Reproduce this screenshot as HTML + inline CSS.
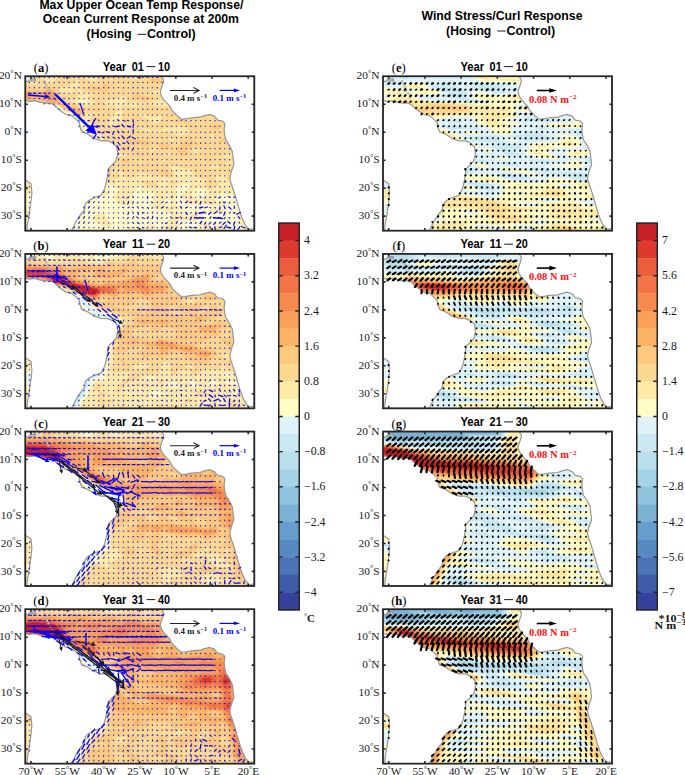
<!DOCTYPE html>
<html><head><meta charset="utf-8"><style>
html,body{margin:0;padding:0;background:#fff;width:685px;height:775px;overflow:hidden;}
svg{display:block;}
.tt{font:bold 12.2px "Liberation Sans",sans-serif;fill:#000;}
.pt{font:bold 12.2px "Liberation Sans",sans-serif;fill:#000;}
.pl{font:12.5px "Liberation Serif",serif;fill:#000;}
.tk{font:10.3px "Liberation Serif",serif;fill:#1a1a1a;}
.tkx{font:10.5px "Liberation Serif",serif;fill:#1a1a1a;}
.dg{font-size:7.5px;}
.un{font:bold 10.8px "Liberation Serif",serif;fill:#111;}
.un2{font:bold 9.6px "Liberation Serif",serif;fill:#111;}
.cb{font:11.8px "Liberation Serif",serif;fill:#1a1a1a;}
.lgr{font:bold 9.5px "Liberation Serif",serif;fill:#ff1010;}
.lgk{font:bold 7.6px "Liberation Serif",serif;fill:#222;}
.lgb{font:bold 7.6px "Liberation Serif",serif;fill:#00f;}
</style></head><body>
<svg width="685" height="775" viewBox="0 0 685 775">
<clipPath id="clipa"><rect x="25.25" y="76.25" width="229.05" height="154.45"/></clipPath>
<g clip-path="url(#clipa)">
<rect x="23.25" y="74.25" width="233.05" height="158.45" fill="#fffcc6"/>
<g transform="translate(0.00 0.00) scale(.5)">
<path fill-rule="evenodd" fill="#fee9a6" d="M46 148l464 0 0 3 4 2 0 219-4 1-2 6-18 0-22 5 2 2-2 4-24-4-12 8-2 5 4 4 10-2 6 1 4 2-1 2-7 5-12 1-30-4-16 2-10-2-6-6-8-6 2-6 0-6 10-6 4-6-2-2-6-2-6 0-6 2-5 4-3 6 3 12-5 6 3 6-2 6 10 4 3 5-4 2-12-2-2 1 1 4 5 1 12-1 10 7 4 1 4-1 8-7 8-2 8 2 1 4-11 8-2 4-4 3-18-3-12 1-3 3 3 8-20 10-8 0-5-4-2-4 10-8 2-8 5-4 1-4-3-3-13-7-22-2-3-10 5-8-1-8 4-6 0-2-10-1-18 0-1-3 3-4-1-2-7 0-2 1-1 5-12 12-1 4 6 6-4 5-4 3-8 1-8-1-4-1-4-9-8-8 11-10-2-4-9-7-4-2-4 0-6 2-4 5-22-10-12-10-1-4 2-34-17-10-4-8 0-6 5-18-1-20-4-8-5-4-7-2-20 0-12-2-20 6 0 4 0 80 0 4 8 13 4 13 0 33-6-2-40-3-4-4-6-1zM112 210l0 2 8 9 13 7 11 4 15 14 7 10 0 9 6 2 8-1-14-26-8-3-5-7-19-7-19-13zM163 200l-5 2-1 2 11 3 7-1 2-1-7-5zM190 272l0 3 3-1zM328 400l-6 2-1 2 12 7 12-1-4-10zM332 389l-1 1 3 2 2-2zM365 348l-4 2 1 2 6-2-1-2zM392 378l-6 4-1 4 1 6 4 4 10 2 15-10 0-4-7-4-10-3zM454 194l14 9 0-9zM460 374l-1 2 5 2 1-4zM138 274l4 1 4 3-3 8-5 3-8-4-4-7 2-2zM208 382l2-1 6 1 3 2 1 4-6 3-10-2 0-3zM471 400l2 0-1 5zM510 412l4 1 0 11-4 1-1-3zM429 414l5-1 15 7-3 3-10-1-11 4-7-2 3-4zM46 422l0-1 12 0 2 5-4 4-10 1zM478 424l4 2 2 10 2 2 8-8 7-2 2 6 6 8 1 12 0 3 4 2 0 7-27 1-1-7 2-6-2-2-11-6 6-10-5-8zM162 428l2-1 4 3-2 2-6 2 0-4zM196 428l6-1 8 2 6 11 9 8 0 2-7 3-8 0-20-11-3-4 1-4zM292 432l4-1 2 1 2 2-1 2-5 0-2-2zM403 446l5-1 4 1 14 9 14-6 6 0 6 5 1 12-21 0-2-4-6-4-5 2-1 2 2 4-8 0-3-4-7-1-3 1 0 4-17 0 14-6zM52 448l2 0 1 4-2 2 0 4-1 2-6 0 0-9zM304 450l6 1 2 1 0 2-10 6-18 1-6 5-41 0 3-3 10 0 4-7 4-2 28 2zM146 456l4 2 0 2-6 4 1 2-20 0-3-4 10-1 10 1 2-4zM201 464l9-1 5 3-18 1z"/>
<path fill-rule="evenodd" fill="#fdd891" d="M57 148l28 0 1 14 2 3 6 2 14-3 12-13 8 0 4-3 31 0-2 8 9 1 8 4 6 1 10-2 6-6-2-1-24 0-3-5 30 0 1 4 8-1 4-3 44 0-3 4 0 2 5 3 14 3 4-1 16-11 206 0 0 4-4 2 2 6 2 2 8 2 2-6 4 0 0 32-4 0 1 3 3-1 0 5-4 0-1 5 1 5 4-1 0 34-4 1 0 3 0 3 4 1 0 56-4 0 0 2 0 4 4 1 0 39-4 1-2 5-16 0-32-3 0 11-9-8-1-2 4-4-2-2-6-1-6 4-8-1-1 2 0 8 7 8-7 6-9 4-6-1-6-5-2-4 4-6-1-4-13-2-6-4-7-8 0-6-21-2-20-6-6 0 0 2 9 12 1 4-2 4-6 4-26-3-10-4-26-4-4 1-3 8-2 2-15 0-4-2-1-6-3-3-7-3-3-2-6-1-6 1 2 3 10 0 2 1 0 8-4 4-10 3-10-1-1-2 1-4-34-5-4-5 0-13 2-7 3-4 12-6 6-6 3-10 1-14 4-6-1-2-10-8-8-6-1-8-7-6-1-4 5-8-3-8-7 0-6 8-8 1-6-5-22-9-18-12-4 1 11 12-1 2-6 0-8 3-18 19 0 45-6 2-36 1 0-24 2 1 2-5-1-4-3 0 0-38 3-2 1-4-1-10-3 0 0-48 10 1 6 8 4 1 7-2 3-2 2-4-8-9zM156 160l-10 4-8 10-20 1-1 1 1 4 6 6 18 1 18-19 0-6-2-2zM278 174l4 2 2-2zM308 182l-7 2-2 2 17 4 5-2-1-7zM344 188l-13 6-3 3 2 3-2 1-12 0-26 5-14-2-18 2-5-3-1-10-6-1-10 4-12 3-20 7 25 6 5 4 0 6-18 20 1 8 3 2 6 0 20-10-3-7 3-11-7-8 2-2 13-3 18 3 18-5 38 4 8-1 2-2-4-4 0-2 15-8 7-6-4-2zM356 252l-12 3-16 1-8 5-4 1-30-7-2-1-2 2 9 6 9 4 8 0 16-2 14 0 8 2 10 6 16-3 6-5 0-4-8-5-8-3zM388 298l-2 2 0 4 2 4 4 2 4-4 2-6-4-2zM402 268l0 3 6-3-2-1zM422 268l-3 2 0 4 5 4 5-2 2-2-1-2-4-3zM446 194l22 13 2-3 0-10-2-1zM156 178l2 16-4 3-13 5 2 2 13 5 14 2 8 0 12-5 0-2-10-6-3-4 1-2 11-2-1-2-12 0-12-9zM240 306l-4 1 0 5 12 1 6-1 1-2-5-3zM244 264l0 1 4 1 2 0 1-2zM278 322l-1 0 1 3 2 1 4-2-1-2zM282 227l-1 1 0 2 3 5 12 4 12 8 8-1 9-10-1-4-4-2-22 4-10-7zM308 296l-6 2-3 2 0 2 5 2 9-4 1-2-2-1zM324 318l0 2 2 4 5 0 0-6zM338 276l-2 2 4 4 6 1 5-3 0-2-3-2zM426 330l-4 2-1 2 7 4 6 0 7-4-1-2-4-2zM462 306l-14 3-3 3 1 2 4 2 10 1 6-5-1-6zM338 306l-2 2 2 3 5-3-1-2zM460 322l-6 4-2 5 6 1 6-4 2-4zM50 314l0-1 32 0 6 1 1 24-1 4-4 3-30 16-2 5 0 6-6 3 0-58 3-1zM509 358l5 1 0 9-4 0zM292 362l16-1 8 9 1 2-5 2-14-1-12-7-1-2zM343 362l7-1 6 1 0 2-6 5-6 1-4-4zM416 400l3 2-3 2-1-2zM496 460l6 0 10 6-18 0z"/>
<path fill-rule="evenodd" fill="#fdc97e" d="M311 156l13 0 4 4-1 4-7 3-6 0-17-5-2-2 3-3zM225 158l3-1 5 1-5 3zM208 166l6 0 5 4-4 12-4 4-13-5-18 0-6-5 2-2 10-2 16 4 3-2zM96 174l6 0 6 3 9 13 5 6 3 6 3 2 6 4 35 8 1 4-4 10-6 2-26-11-16-11-6-2-2 0-1 2 3 4-12 10-12 15-2 1-4-1-16-19-8-5-8-3-2-8-2-1 0-22 20-3 16 2zM511 176l3 0 0 8-4-2 0-4zM267 188l7-1 10 5 20 2 3 2-15 5-16-2-13 1-1-2zM514 214l0 9-3-7zM189 216l10 0 4 2 0 2-5 3-6 0-5-3-1-2zM288 218l4-1 6 1-2 2-2 1zM353 236l7 0 4 4 5-2 7 5 6 7 13 2-3 3-4 0-24-11-14-1 0-3zM46 248l2 0 1 2-1 7-2 0zM423 250l11-1 7 1 0 2-3 6-6 2-7-4-3-4zM245 276l7-1 20 4 24 2 8 2 6 3-20 5-28-1-9-8-7-2-2-2zM381 278l3 0 4 8-11 12-1 6 0 8-6 0-14-8-3-6 9-7 4-7zM445 278l5-1 2 6-9 1-2-2 1-2zM314 286l16 0 8 2 3 4-3 4-4 2-8 1-12-11zM244 294l10-1 3 1-3 4-5 2-9 0-2-2zM272 302l8 0 3 2-1 3-6 1-6-3zM244 320l6-1 6 1 4 4 0 2-17-2 0-2zM46 322l2 0 0 4-2-1zM228 326l2-1 3 1-9 6 0-2zM326 338l4 1 6 3 3 2 1 4-8 3-10-3-2-2 1-4z"/>
<path fill-rule="evenodd" fill="#fcb565" d="M95 180l7 0 4 2 10 14 4 9 12 6 30 8 3 3-1 5-4 3-23-10-19-13-16-1 4 4-14 12-6 3-12-11-24-12 6 0 2 2 2 0 2-3 10 1 2 2 4 0 2 2 14-2-16-6-16 2-16-1 0-15 2-1 12 0 18 3z"/>
<path fill-rule="evenodd" fill="#f9a059" d="M92 184l6-1 5 1 10 12 1 6-4 2-11-2-20-10zM48 186l4-1 8 1 9 4 0 2-7 3-12 1-4-3z"/>
<path fill-rule="evenodd" fill="#f78b4f" d="M91 188l5-1 4 1 8 10-5 2-9-3-5-5z"/>
</g>
<polygon points="25.2,100.6 29.3,101.4 34.5,100.7 39.8,102.2 45.0,103.1 50.3,103.2 53.8,104.8 56.4,107.2 60.8,111.0 66.0,114.5 71.3,115.4 75.7,118.9 79.2,122.4 80.0,126.8 81.8,132.0 87.0,133.8 94.0,138.2 101.0,140.8 108.1,140.9 113.3,143.5 116.9,147.0 117.7,154.0 116.0,161.0 111.6,165.4 108.1,168.9 107.7,175.0 106.3,182.0 104.6,189.0 101.1,195.2 94.0,197.8 88.8,200.4 85.3,204.0 84.4,210.0 80.0,215.3 75.7,222.3 72.2,229.3 71.3,230.7 26.8,230.7 27.5,224.0 29.3,213.6 31.0,201.3 31.9,192.6 31.0,183.8 25.8,180.3 25.2,180.3" fill="#fff" stroke="#969696" stroke-width="1.2"/>
<polygon points="162.3,76.2 162.3,77.8 163.6,79.9 163.2,83.0 162.3,85.6 161.0,89.1 160.3,91.8 161.5,96.1 163.6,99.6 166.3,102.3 169.8,106.2 172.4,111.0 175.9,114.5 179.4,117.6 182.0,119.4 185.5,118.9 189.9,118.0 194.3,117.6 200.0,117.2 202.9,116.1 209.4,114.4 214.3,116.1 217.6,120.1 222.5,121.0 224.9,123.4 224.1,130.0 224.9,136.5 225.8,140.0 229.0,144.9 232.3,151.4 233.1,158.0 233.9,164.5 231.5,171.0 229.8,177.6 230.7,182.5 233.1,189.0 235.6,197.2 238.0,205.4 240.5,213.6 242.9,220.1 245.4,225.0 248.6,229.1 251.0,229.2 254.3,228.5 254.3,76.2" fill="#fff" stroke="#969696" stroke-width="1.2"/>
<polygon points="25.2,76.2 31.0,76.2 30.5,79.0 28.0,81.5 25.2,81.2" fill="#fff" stroke="#969696" stroke-width="1.2"/>
<polygon points="31.2,79.2 35.5,79.0 35.6,80.6 31.3,80.9" fill="#fff" stroke="#969696" stroke-width="1.2"/>
<g fill="#fff" stroke="#999" stroke-width="0.8"><circle cx="44.5" cy="81.5" r="0.9"/><circle cx="46.0" cy="84.5" r="0.9"/><circle cx="47.2" cy="87.5" r="0.9"/><circle cx="48.3" cy="90.5" r="0.9"/><circle cx="50.5" cy="93.5" r="0.9"/><circle cx="52.0" cy="97.5" r="0.9"/></g>
<path transform="translate(0.00 0.00) scale(.25)" d="M137 312l1-4m21 3l-3-2m21 2l0-2m19 0l2 2m19 0l-1-2m20 1l2 0m20-1l-3 2m20-2l2 2m18-1l2 0m19 1l-1-2m20 0l1 2m20 0l-1-2m19 1l3 0m18-1l0 2m19 0l2-2m19 2l-1-2m20 0l1 2m19-2l1 2m18-1l2 0m19-1l-2 2m21-1l-1 0m21 1l-2-2m21 1l-2 0m19 0l3 0m18-1l0 2m21-1l-4 0m-509 21l0-3m21 2l-2-1m21 0l-2 1m21-2l1 3m19 0l0-2m19 0l1 2m20 0l-1-3m21 2l-2 0m22 0l-2-1m22 0l-2 1m21-1l0 2m19-2l1 1m20 0l-1-1m20 0l0 2m19-1l2 0m18-2l1 3m19-1l1-1m20 2l-1-2m21 1l-2-1m22 0l-2 1m20 1l1-2m19 0l-1 2m21-1l-2-1m19 0l3 1m18 1l-1-2m19 1l2-1m18 2l0-2m18 0l3 1m-533 21l2 0m18-2l1 3m18-1l3 0m17 0l3 0m17 0l2 0m18-1l2 1m19-1l-1 2m20-1l1-1m20 1l-2-1m22 2l-2-2m20 0l2 1m18-1l1 2m20-2l-2 2m22 0l-1-2m20 3l0-4m21 2l-2-1m21-1l-1 3m20-2l1 2m20-2l-2 1m21-1l0 2m19 0l0-2m18 2l3-2m17 2l1-3m18 1l2 2m18 0l1-2m17 1l3 0m17-1l2 2m-396 21l6 0m16 1l1-2m18 1l2 0m18 0l2 0m20-1l-2 1m21-1l-1 2m20 0l1-2m18 1l2-1m19 2l0-2m20 2l0-2m19 1l2 0m19-1l-1 2m20 0l1-2m18 1l2 0m18-1l0 2m19 0l1-3m18 1l2 2m18 0l0-2m20 0l-1 2m18-2l3 2m18-2l0 2m-512 20l2 0m17 0l3 0m16 1l5-2m95 0l3 2m19 0l-2-2m22 2l-2-2m20 1l2 0m19 1l0-2m20 2l-1-2m19 1l2 0m19-1l0 2m21-1l-2 0m20 1l2-2m17 2l3-2m19 2l-1-2m21 0l-2 2m20 0l0-2m21 1l-2 0m21 0l-2 0m21 1l-1-2m18 2l2-2m18 1l2 0m18 1l0-2m-453 23l2-1m18 0l2 1m18-1l1 2m19-2l1 1m37-2l4 3m20-2l-4 1m23 1l-2-3m20 3l1-3m18 1l2 1m19-1l1 2m20-2l-2 1m22 1l-2-2m21 0l-1 1m21-1l-1 2m19-2l2 1m21-1l-4 1m20 0l3-1m17 0l2 1m19 1l-3-2m21 0l0 2m18-1l3-1m17 2l1-3m19 1l0 2m18-1l2-1m-412 21l-1 2m21 0l-1-2m59 1l2 1m19-2l-1 2m21-1l-1 1m19-1l2 0m18 0l2 0m18 0l2 0m18 1l1-1m20 0l-1 1m19 0l2-1m20 0l-2 0m22 1l-3-1m21-1l-1 2m20 0l0-2m20 0l-2 2m20 0l1-2m19 1l-1 1m19-2l2 2m19-1l-2 1m20-1l2 0m-392 22l-2 2m20-3l2 4m37-3l3 2m18-2l1 2m20 0l-2-2m20 2l2-2m19 2l-1-2m20 0l1 2m20-1l-1 0m19 1l3-2m19 1l-2 0m21 1l-1-2m20 0l-1 2m20 0l0-2m20 1l-2 0m20 1l1-2m19 0l-1 2m20-2l0 2m19-2l1 2m19 0l-1-2m19 1l2 0m-373 21l1 3m235-1l1-1m18 1l2-1m18 2l0-3m20 0l-1 3m22-2l-4 0m22-1l-1 2m19 0l1-1m17 0l4 1m16 0l2-1m18-1l0 2m19-1l1 1m18 1l2-3m18 2l0-2m19 1l1 1m19-2l-1 2m19-1l2 1m18 1l0-3m-545 25l2-1m20-1l-3 2m219-2l-2 3m20-3l0 3m18-1l3-2m17 2l2-1m19 0l-2 0m21 0l-2 1m22-1l-2 0m21 1l-3-1m20 0l2 0m20 0l-3 1m21-2l-1 2m19 0l2-1m19 1l-2-2m20 0l1 2m20-1l-2 0m20 1l0-2m20 2l-2-1m21-1l0 2m-544 24l-1-2m216 0l2 1m17 0l3-1m17 2l0-2m19 2l2-2m19 1l-2 0m21 0l-2 0m21-1l-1 2m19-2l2 2m19-1l-2 0m21-1l-1 2m19 0l1-2m18 0l1 2m18-1l2 0m18 1l1-2m17 1l3 0m19-1l-2 1m20 1l1-2m19 2l-1-2m-328 22l2 1m17-1l2 0m18-1l0 3m19-2l2 0m19 1l-2-1m20-1l1 3m18-1l1-1m18 0l2 1m18 1l0-3m18 1l2 1m18 0l2-1m19 0l-2 1m20-2l0 2m20-2l-1 2m20 0l-1-2m19 2l2-1m19 2l-1-3m19 1l1 1m-328 23l-1-3m20 0l0 2m20 0l-2-1m21-1l0 2m20-2l-2 3m20-1l0-2m20 0l0 2m19 1l-1-3m20 0l0 2m19 1l1-3m18 0l2 3m17 0l2-3m17 1l2 1m18-2l1 3m20 0l-2-3m21 1l-2 1m20-2l1 2m18-1l1 1m20 0l-2-1m-345 24l-2-3m20 0l0 2m20-1l-2 1m20 0l1-2m18 2l2-1m18 0l1 1m19-2l-1 2m20 0l0-2m19 0l0 3m20-2l-1 1m19-1l1 1m18 1l2-3m17 0l2 2m19 0l-1-2m18 1l3 1m18-2l0 2m18 0l2-1m17-1l3 3m18-1l0-2m19 0l0 3m-423 19l-2 2m21-1l-2 0m20 1l1-2m18 0l2 2m19-2l-2 2m19 0l3-2m18-1l0 4m20-1l-2-2m19 2l2-2m19 2l-1-2m19 1l2 0m19 0l-2 0m21 1l-1-2m19 1l2 0m17 0l2 0m19 0l-2 0m21 0l-1 0m21 0l-2 0m20-1l0 2m18-1l2 0m19 1l-1-2m22 1l-4 0m21-1l1 2m-445 24l1-6m20 5l-2-3m19 2l2-1m19 1l-1-1m20 0l-1 1m21 0l-2-1m20 0l1 1m18-2l1 3m20-1l-3-1m22 1l-1-1m19 1l1-1m18 0l2 1m17 0l2-1m19 0l-1 1m18-1l3 1m19-1l-2 1m22 0l-3-2m21 1l-1 1m21-2l-2 3m19 0l2-3m19 1l-2 1m19 0l3-1m18-1l0 2m18-1l2 1m-445 24l0-4m21 1l-2 2m20-2l0 2m20-1l-1-1m19 2l1-2m20 1l-2-1m21 1l-1-1m21 0l-2 2m21 0l-2-2m20 2l0-2m18 0l3 2m17-1l2 0m19-1l-2 1m21 0l-2 0m22 0l-2 0m20 1l0-2m20 1l-2 0m21 0l-1-1m20 0l-1 2m20-2l0 2m20-1l-2 0m20-1l2 2m17-1l2 0m19 1l-1-3m-446 25l4-4m17 4l2-4m17 1l2 2m20-1l-2 0m21 0l-2 0m21-1l-1 2m20-2l-1 2m18-1l3 0m17-1l2 2m18 0l1-2m18 2l1-2m18 0l1 2m20-2l-2 2m21-1l-2 0m20 1l1-2m18 1l2 0m17 1l2-2m18 1l1 0m19-1l-1 2m19-1l2 0m17 0l2 0m18 0l2 0m19 0l-2 0m20 1l0-2m-443 22l-2 1m22 0l-2-1m21-1l-1 2m20 0l-1-2m21 1l-2 0m21 0l-2 0m21 0l-2 0m22-1l-2 3m21-2l-2 0m20 1l0-2m20 2l-1-2m19 0l1 2m20 1l-2-3m20 0l1 2m19 0l-1-2m20 2l0-2m20 2l-1-2m19 3l1-3m20 1l-2 1m19-1l2 0m18 1l1-1m20 0l-2 0m20-1l0 2m-444 25l-1-6m20 3l1-1m20 0l-2 1m20-1l1 1m20 0l-2 0m20-2l0 3m18-2l2 2m18 0l0-2m20 0l-1 2m19-1l2-1m19 2l-1-2m20 0l-1 1m20-1l0 2m18-2l2 1m19-1l-1 1m21 0l-2-1m19 1l2 0m19 0l-2-1m20-1l1 3m18-2l1 2m18-2l2 2m19-3l-1 3m21-1l-2-1m20 0l0 2m-781 21l-1-2m337 2l1-2m18 2l3-2m17 2l2-1m18-1l1 2m20-1l-3 0m22 1l-2-1m21-1l-1 2m20-2l-1 2m19-1l2 0m19 1l-3-2m20 2l2-1m19-1l-1 2m20 0l-1-2m21 1l-2 0m20 1l1-2m18 0l1 2m18-1l2 0m18 1l1-2m18 2l1-1m18 0l2 0m17 1l2-2m19 1l-2 0m20 0l2 1m18-2l0 2m19-2l1 2m-800 21l-2-1m317 2l1-3m19 2l1-2m19 0l0 2m19 0l2-1m18 1l1-1m18 1l1-1m18 0l2 1m18-2l1 2m18 0l0-2m19 2l1-2m19 0l0 2m20-1l-1 1m20-2l-1 3m20-1l-1-1m19 0l2 0m19-1l-1 2m20 0l-1-2m21 1l-2 1m20-2l0 2m21-1l-3 1m20-1l1 1m20-1l-2 1m20 1l1-3m19 0l-1 2m21-1l-2 1m21 1l-2-3m-800 21l2 2m294 0l4-3m17 3l1-3m18 2l2 0m19 1l1-2m231 3l0-5m-587 24l-2-1m296 2l3-3m18 1l1 2m19-3l1 3m18-1l3-1m97-1l-4 3m-450 20l-2 0m277 3l2-6m18 3l2 0m20 0l-2 0m20 1l0-2m22 1l-3 0m289-1l3 1m74-2l4 3m19 0l-3-3m-740 23l-2 0m256 1l5-3m16 2l2-1m18 0l1 2m20 0l0-2m21 0l-3 1m21 1l0-3m216 1l-6 1m81-2l-3 3m61-3l-2 3m-703 19l-1-1m257 3l3-5m18 4l0-2m20 0l-1 1m20-2l2 3m19-3l-1 3m21 0l-2-2m465 1l-1-1m-563 21l2-1m18 1l2-1m19 2l0-2m20 2l-1-2m19 0l2 1m20-1l-2 1m23 0l-4-1m38-2l5 5m-180 17l1-2m19 2l1-2m18 2l2-1m20 0l-2 1m20 0l1-2m19 3l1-3m19-1l0 5m42-1l-6-3m21 0l4 3m54 1l3-5m20 1l-4 3m194-1l1-1" stroke="#00f" stroke-width="4.6" stroke-linecap="round" fill="none" opacity=".8"/>
<path transform="translate(0.00 0.00) scale(.25)" d="M113 373l9 0m11-1l9 1m11 0l9 0m12 0l5-1m15 0l4 1m16-1l3 1m-42 21l1 0m18 0l3 0m16-2l8 4m11-4l9 4m13 17l4 4m16 18l3 3m17-3l2 3m17 21l3 1m17 20l3 3m23-1l-5 1m22 2l-1-2m22 2l-2-3m19-2l1 2m23 2l-5-2m19-1l1 1m24 3l-5-5m17 1l10 3m18 0l-5-2m20-5l1 12m-174 16l-5 0m14-2l17 5m16-2l-14-2m31 4l-6-5m20 0l4 3m13-3l12 4m18-3l-11 2m30 3l-9-9m19 4l12 3m12 4l2-13m-175 30l-6 2m26 1l-6-4m17 1l10 1m18-3l-6 5m28-1l-12-2m29-4l-6 11m26-3l-5-6m26 5l-7-4m22 5l0-3m19 6l1-14m-162 35l10-12m17 9l-5-4m26 3l-7-3m25 4l-4-4m18-1l6 4m15-4l4 4m22 3l-9-10m19 9l12-8m7 2l12 6m-84 23l-2-9m18 0l7 10m12-6l8 1m18 4l-6-9m22 1l1 4m-56 28l-7-15m22 5l3 5m18 2l0-6m22-2l-5 10m-57 19l1-3m-20 47l0-2m-20 24l1-4m20 4l-1-4m-20 25l1-4m19 3l0 0m-20 24l1-5m-1 25l0 0m-21 22l2-3m-40 23l0-2m18 3l3-4m101 1l-4 0m24-2l-6 3m23 2l-2-4m21-1l0 1m19-1l0 0m19-2l-1 7m17-4l2 1m18 1l2-1m17-2l2 2m21-2l0 0m16 5l3-6m35 6l3-5m17 1l0 1m22-3l-1 3m21 0l0 0m20 2l-3-3m21-2l-2 4m23-2l-3 1m17 0l3 0m22-3l-6 5m21 0l0-1m24 1l-6-4m18 3l4-1m-584 24l2-5m17 4l2-3m19 3l1-2m98-4l2 5m20-6l-3 9m22-8l-2 5m22-3l-3 2m42-2l-3 2m23 1l-5-2m20 3l1-2m16 1l5-2m21-1l-5 2m23-2l-2 2m20-3l-1 3m21 3l-3-6m17 6l7-6m20 2l-6 1m20 3l2-6m20-2l-3 10m22-4l0-1m15-2l5 3m19-2l-1 0m20-2l-2 3m24-1l-6 1m23-3l-2 4m22-2l-2 1m-604 23l2-3m17 4l4-6m17 5l1-2m122 1l-4-2m17 2l5-2m20 2l-3-2m22 4l-3-5m23 2l-4 0m18-2l4 3m19-3l-1 2m18 3l1-4m15 3l8-4m16-1l0 2m18-1l1 1m21 2l-1-1m21 3l-5-6m18 5l7-4m34 5l2-5m13 3l13-3m7 3l10-3m53-4l-1 12m22-1l-4-10m17 1l9 8m14 0l1-9m-604 28l2-3m18 4l3-6m136 0l1 2m20-4l-1 8m21 0l-2-4m19-4l2 9m15-4l5-1m18-2l0 2m19 3l0-2m17 0l0 0m22-4l-1 5m20-3l0 0m39 5l-1-4m17 2l1-1m18-4l6 8m35-9l1 9m10-3l20-3m31-2l-9 8m19-1l12-8m9 6l7-3m18-4l-5 13m20-6l3-2m22 0l-5 1m27-3l-14 6m-636 19l4-4m17 5l3-6m17 5l2-3m140 1l-1 0m21-2l-4 2m18 3l4-6m21 5l-6-4m18 0l8 3m13 2l4-5m16 6l3-9m17 1l1 5m22-2l-3 1m21-2l-1 1m22 3l-6-4m18 2l8-1m18 3l-4-4m19 4l2-3m21-4l-4 10m14-6l16 1m3-1l17 1m11 1l-1-1m17 3l3-6m9 2l21 1m1-2l15 4m11-5l0 3m22 1l-3-2m42 5l-6-9m-640 28l3-5m17 5l2-5m18 4l1-2m159-3l0 2m34-2l7 5m14-3l2 1m17-1l3 1m20-3l-1 2m18 3l1-1m17-3l2 1m23-1l-7 3m21-3l1 1m18 4l4-6m20-1l-4 6m22-4l0 1m22 0l-6 1m24-2l-3 2m16 4l7-9m18 1l-4 7m25-6l-8 5m26-6l-6 8m19-2l6-4m21-2l-10 8m29-1l-9-8m26-1l-4 13m21-5l1-2m-662 21l1-3m19 4l1-5m18 4l2-3m156 0l1 0m62 1l-5-1m18 0l5 1m55-2l0 0m21-2l-1 5m16-2l4 1m20-4l-2 5m19 0l0-1m22-3l-2 3m21 2l-1-3m24 2l-10-3m29 2l-10-1m41 4l5-6m18 6l-2-5m19-4l2 13m14-6l10-4m10 8l9-13m21 9l-15-3m29-5l-3 14m24-13l-7 12m29-4l-13-6" stroke="#00f" stroke-width="5.2" fill="none"/>
<path transform="translate(0.00 0.00) scale(.25)" d="M129 373l-7 3 0-6zm19 1l-7 3 1-7zm20-1l-6 3 0-7zm18-1l-6 4-1-7zm18 2l-7 2 2-6zm19 1l-7 1 2-6zm-41 20l-7 2 2-6zm21 0l-6 2 0-6zm24 4l-8 0 3-6zm20-1l-7 1 2-6zm16 23l-7-2 4-5zm18 22l-7-3 5-4zm19 0l-6-4 5-3zm21 20l-7 0 3-6zm20 25l-7-3 4-4zm7-4l6-5 0 7zm24-7l6 4-5 3zm19 0l6 3-5 4zm26 11l-5-4 6-3zm10-9l7 0-2 6zm32 6l-7 0 3-6zm8-9l7 2-4 5zm38 9l-6 2 1-6zm1-5l7-1-2 6zm28 16l-4-6 6-1zm-187 9l7-3 0 6zm46 6l-9 1 2-8zm-12-8l7-2-1 6zm26-3l7 1-3 5zm33 11l-7-2 5-5zm27-2l-7 1 2-6zm-5-2l6-4 1 6zm23-11l7 2-5 5zm41 12l-7 2 1-7zm9-16l2 7-6-1zm-189 39l6-4 2 6zm21-7l7 1-3 5zm40 6l-7 2 1-6zm0 5l3-7 4 5zm15-9l6-2-1 7zm27 15l-1-7 6 2zm18-19l7 2-5 4zm18 2l7 0-3 6zm28-2l3 6-6 1zm21-8l3 7-7-1zm-149 24l-1 8-6-4zm4 6l7 3-5 4zm17 3l7-1-2 6zm23-3l6 2-4 5zm34 11l-7 0 3-6zm17 2l-7-3 5-4zm5-16l7 2-5 4zm40 1l-3 6-4-5zm20 15l-7 0 3-6zm-93 4l5 6-7 1zm30 22l-6-3 5-4zm22-9l-7 2 2-6zm3-12l6 4-6 3zm27 17l-4-5 6-2zm-67 1l7 5-7 3zm31 21l-6-4 6-3zm15-15l3 6-6 0zm14 20l0-8 5 3zm-51 4l1 7-6-2zm-21 45l3 6-7 0zm-18 19l1 7-6-1zm17 1l4 6-7 1zm-17 21l1 7-6-2zm18 3l2 6-6 0zm-18 19l1 7-6-2zm-2 24l3 7-7 0zm-16 20l-1 7-5-3zm-42 21l1 7-6-1zm22-1l-1 7-5-3zm87 7l7-3 0 6zm19 4l4-6 4 6zm24-11l6 4-6 3zm19 10l3-6 4 4zm21 1l0-7 6 2zm19 5l-1-7 6 2zm27-8l-7 2 2-6zm18-5l-2 7-4-5zm20 8l-7-2 5-4zm12 0l1-8 5 4zm27-12l-1 7-5-3zm38 1l-1 7-5-4zm19 8l-7 2 1-7zm12 5l0-7 6 3zm18-6l6-3 0 6zm18-5l7 2-4 4zm22 12l-1-7 6 2zm16-6l5-4 1 6zm32-3l-6 5-1-6zm5 8l3-7 4 5zm29-10l0 7-6-3zm9-1l7 1-3 5zm35 3l-6 5-1-7zm-585 15l-1 8-5-4zm20 3l-2 6-5-4zm18 0l-1 7-5-4zm99 12l-5-5 6-2zm13 3l-1-7 6 2zm18-3l1-7 5 3zm18-3l3-6 4 5zm39-1l4-6 3 5zm16-6l7-1-1 6zm30-3l1 7-6-2zm25 1l-4 6-4-5zm4 8l5-6 2 6zm22 1l3-7 4 5zm23 2l-2-7 6 1zm16-15l6 4-6 3zm32 1l-3 7-4-5zm2 8l7-3 0 6zm31-9l1 7-6-2zm13 20l-1-7 6 2zm19-15l7 2-4 5zm31 8l-7 0 3-6zm7-2l4-6 3 6zm21 4l-1-7 6 2zm13-6l6-4 1 7zm25 7l0-7 5 2zm17-7l6-4 0 7zm-594 15l1 7-6-3zm22-2l0 7-6-3zm19 3l-2 7-5-4zm108 2l7-1-2 6zm33-1l-4 6-3-6zm6 0l7 1-3 5zm21-3l6 3-5 4zm17 6l7-2-1 6zm33 6l-7-2 4-4zm9 0l1-7 5 4zm25-13l1 7-6-1zm26 2l-4 6-3-5zm10 11l-3-7 7 1zm23 0l-6-4 5-3zm11-7l7-1-2 6zm18-6l6 3-5 4zm34 3l-4 6-3-6zm32-3l2 7-7-1zm31 4l-6 5-1-6zm17 0l-5 5-2-6zm46 17l-3-7 6 1zm15-24l6 4-6 3zm34 19l-7-2 4-4zm10-19l3 7-6-1zm-599 25l0 7-6-3zm20-2l1 7-6-2zm136 15l-4-6 6-1zm16 3l-2-6 7 1zm19-16l5 4-6 3zm24 17l-4-5 6-1zm26-11l-7 4 0-7zm9 6l-1-7 6 2zm21-12l3 7-7-1zm24 7l-7 3 0-7zm13 8l-2-7 6 0zm18-4l0-7 6 3zm39-11l5 5-6 2zm26 4l-4 6-3-6zm22 12l-7-3 5-4zm32 1l-4-6 7-1zm39-14l-9 7-1-10zm8 12l3-6 4 5zm41-17l-3 7-4-6zm17 5l-5 5-2-6zm5 18l-1-8 6 2zm30-19l-4 7-3-5zm6 5l6-4 1 7zm13 7l5-7 3 7zm-622 7l-2 7-4-5zm19-3l0 7-6-3zm19 2l0 7-6-3zm130 5l7-1-2 6zm17 5l5-6 2 6zm31-12l0 7-6-3zm7 3l7 1-4 5zm37 9l-7 1 2-6zm15-10l-1 7-5-4zm16-4l2 7-6-2zm19 18l-5-5 6-2zm10-6l6-4 1 6zm23 3l2-7 5 4zm15-11l7 2-4 5zm37 5l-6 4-1-6zm3-4l7 2-4 5zm30 1l-2 7-4-5zm10 16l0-7 6 3zm40-10l-7 3 0-7zm21-1l-8 4 0-8zm-2-5l7 3-5 4zm27-4l0 7-5-2zm38 9l-11 5 1-10zm13 3l-9 2 2-7zm3 3l-3-6 6 0zm14-10l7 1-4 5zm37-6l6 4-5 3zm-629 23l-1 7-6-4zm18-1l0 7-5-3zm19 2l0 7-6-2zm152 11l1-8 5 4zm50 0l-7-1 3-5zm17-5l-7 3 1-7zm20 0l-7 3 1-7zm11 5l-1-7 6 3zm23-10l1 7-6-3zm22 8l-7-1 4-5zm5 0l5-5 2 6zm32 1l-6-3 5-4zm22-12l-2 7-5-4zm8 15l1-7 6 3zm21-5l3-6 4 5zm14-1l6-4 1 6zm23 2l4-6 3 5zm32-13l-2 7-5-4zm7 18l0-7 6 3zm15-2l4-6 3 5zm21 3l2-7 5 4zm35-15l-4 7-3-6zm1 14l2-6 5 5zm19-17l7 2-4 5zm25 22l-1-7 6 2zm25-20l2 7-6-1zm-659 20l0 7-6-3zm19-2l1 7-6-2zm21 2l-1 7-5-3zm160 7l-7 1 2-6zm45-3l7-2-1 6zm35 2l-6 3 0-7zm52 4l-6-5 6-2zm16 3l-2-7 6 1zm28-6l-7 2 1-6zm9 6l-1-7 6 2zm26-12l-2 7-5-4zm11 10l1-7 6 4zm21-11l6 4-6 3zm11 2l7-1-2 6zm18 2l7-2-1 6zm57-6l-2 7-5-4zm10 0l5 5-6 2zm24 21l-4-6 7-1zm29-18l-5 5-2-6zm17-8l-1 7-6-4zm-5 10l8-2-1 6zm32 16l-2-7 6 2zm14-1l1-8 5 4zm13-19l8 0-3 6z" fill="#00f"/>
<path d="M55.0 94.0L89.0 127.2" stroke="#00f" stroke-width="2.4"/>
<path d="M97.0 135.0L85.5 130.8L92.5 123.6Z" fill="#00f"/>
<path d="M28.0 95.0L45.0 96.5" stroke="#00f" stroke-width="1.3"/>
<path d="M50.0 97.0L44.8 98.8L45.2 94.3Z" fill="#00f"/>
<path d="M80.0 103.0L83.1 112.4" stroke="#00f" stroke-width="1.2"/>
<path d="M84.0 115.0L81.9 112.8L84.3 112.0Z" fill="#00f"/>
<path d="M96.0 118.0L93.2 122.8" stroke="#00f" stroke-width="1.2"/>
<path d="M92.0 125.0L92.3 122.3L94.2 123.4Z" fill="#00f"/>
</g>
<rect x="25.25" y="76.25" width="229.05" height="154.45" fill="none" stroke="#262626" stroke-width="1.8"/>
<path d="M30.95,76.25v2.6M30.95,230.70v-2.6M67.16,76.25v2.6M67.16,230.70v-2.6M103.37,76.25v2.6M103.37,230.70v-2.6M139.58,76.25v2.6M139.58,230.70v-2.6M175.79,76.25v2.6M175.79,230.70v-2.6M212.00,76.25v2.6M212.00,230.70v-2.6M248.21,76.25v2.6M248.21,230.70v-2.6M25.25,104.26h2.6M254.30,104.26h-2.6M25.25,132.22h2.6M254.30,132.22h-2.6M25.25,160.18h2.6M254.30,160.18h-2.6M25.25,188.14h2.6M254.30,188.14h-2.6M25.25,216.10h2.6M254.30,216.10h-2.6" stroke="#262626" stroke-width="1.6" fill="none"/>
<text x="21.9" y="79.4" class="tk" text-anchor="end" textLength="23.0" lengthAdjust="spacingAndGlyphs">20<tspan class="dg" dy="-3.4">°</tspan><tspan dy="3.4">N</tspan></text>
<text x="21.9" y="107.4" class="tk" text-anchor="end" textLength="23.0" lengthAdjust="spacingAndGlyphs">10<tspan class="dg" dy="-3.4">°</tspan><tspan dy="3.4">N</tspan></text>
<text x="21.9" y="135.3" class="tk" text-anchor="end" textLength="17.3" lengthAdjust="spacingAndGlyphs">0<tspan class="dg" dy="-3.4">°</tspan><tspan dy="3.4">N</tspan></text>
<text x="21.9" y="163.3" class="tk" text-anchor="end" textLength="21.1" lengthAdjust="spacingAndGlyphs">10<tspan class="dg" dy="-3.4">°</tspan><tspan dy="3.4">S</tspan></text>
<text x="21.9" y="191.2" class="tk" text-anchor="end" textLength="21.1" lengthAdjust="spacingAndGlyphs">20<tspan class="dg" dy="-3.4">°</tspan><tspan dy="3.4">S</tspan></text>
<text x="21.9" y="219.2" class="tk" text-anchor="end" textLength="21.1" lengthAdjust="spacingAndGlyphs">30<tspan class="dg" dy="-3.4">°</tspan><tspan dy="3.4">S</tspan></text>
<path d="M170.0 90.4h29M193.4 87.5L199.1 90.4L193.4 93.3" stroke="#222" stroke-width="1.05" fill="none"/>
<path d="M219.6 90.4h16" stroke="#00f" stroke-width="1.2"/>
<path d="M233.9 88.6L240.1 90.4L233.9 92.2Z" fill="#00f"/>
<text x="173.7" y="100.8" class="lgk" textLength="33.5" lengthAdjust="spacingAndGlyphs">0.4 m s<tspan dy="-2.8" font-size="5.5">−1</tspan></text>
<text x="212.8" y="100.8" class="lgb" textLength="33.5" lengthAdjust="spacingAndGlyphs">0.1 m s<tspan dy="-2.8" font-size="5.5">−1</tspan></text>
<text x="102.7" y="70.5" class="pt" textLength="23.8" lengthAdjust="spacingAndGlyphs">Year</text>
<text x="131.8" y="70.5" class="pt" textLength="12.1" lengthAdjust="spacingAndGlyphs">01</text>
<path d="M146.5 66.6h8.8" stroke="#000" stroke-width="0.9"/>
<text x="158.0" y="70.5" class="pt" textLength="12.1" lengthAdjust="spacingAndGlyphs">10</text>
<text x="41.0" y="72.2" class="pl" text-anchor="middle">(<tspan font-weight="bold">a</tspan>)</text>
<clipPath id="clipb"><rect x="25.25" y="253.9" width="229.05" height="154.45"/></clipPath>
<g clip-path="url(#clipb)">
<rect x="23.25" y="251.9" width="233.05" height="158.45" fill="#cbe9f2"/>
<g transform="translate(0.00 177.65) scale(.5)">
<path fill-rule="evenodd" fill="#e0f3f8" d="M46 148l468 0 0 318-468 0zM130 394l-16 26 8 3 13 12 5 1 6-3 4-6 3-7-1-6-6-9zM160 242l-1 0 1 2 4 4 2 3 4-1-3-4zM170 412l-2 10-9 8-6 12-3 4-6 12 0 3 7-5 17-26 7-16-1-2zM196 392l-6 4-4 0-2 2-1 0-1 2 12-4 4-4zM224 280l-2 2 1 2 11 11 3-1 1-4-2-4-5-4z"/>
<path fill-rule="evenodd" fill="#fffcc6" d="M46 148l54 0 0 3 2 1 3-4 409 0 0 318-468 0 0-67 7 3 2 8 3 4 3-2 0-14 2-2-1-2-4-1-12 4zM90 268l0 52 6 2 8 10 0 88 14 2 16 28 8 9 0 2-5 1 3 3 6 0 9-9 15-22 15-30 15-8 7-8 3-6-2-2 0 2-8 9-4 0-6 4-3-1 4-6 1-8-4-10-11-16-3-28-2-4-12 0-2-2-10-2-10-8-8-4-4 0-6-6 0-4-2-2 2-25-28 1zM146 231l0 1 14 14 0 4 26 22 10 5 20 4 8 5 9 8 1 5 6-3 2-8-6-6-10-4-16-4-24-12-16-18zM93 406l-3 2 1 2 7 10 4 0-1-14-5-1zM184 285l-3 5 2 6 15 8 16-4 7-4 3-4-2-2-4-1-20 4-8-7zM214 359l0 3-2 2 0 8 3-6zM168 334l2-2 0 17-1-5z"/>
<path fill-rule="evenodd" fill="#fee9a6" d="M53 148l32 0 3 8 8 6 6 1 4-2 10-13 83 0-12 10 0 2 4 2 11 4 14-6 20-3 2-1 4-8 84 0 2 3 4-3 36 0 2 5 8 1 4-1 1-5 131 0 0 318-70 0-2-2-4 0-8 2-33 0 2-8 0-2-3 0-6 2-7 8-230 0 7-8 5-9 10-13 5-14 11-16 7-2 12 3 5-1 1-2-7-8 6-10 0-10 4-10 3-26 3-10-10 8 0 16-2 2 0 6-3 2-3-28-9-18 1-4 5-4 29-11 3 3 3-2 4-4 2-8-2-4-7-4-26-9-22-11-12-14-22-14-28-8 6 5 8 0 2 2 2 0 15 15-1 2-8-1-8 1-22 10-8 3-10-1-12-4 0 74 0 4 6 7 5 9 2 8-1 20-24 1-16 4-6-8-2 1 0 2 3 6-2 4-9 5 0-231 11-2 3-2 0-2-6-4zM167 154l-5 2 4 4 6 2 5-2-4-4zM297 398l-5 2 0 2 6 3 7-1 6-4-1-2-4 0zM317 424l-16 6-5 4-1 2 13 5 6-1 13-10-5-5zM334 444l-2 2 2 2 7 0-3-3zM340 408l-4 4 0 5 12 4 4 0 3-3 1-4-4-5-6-2zM382 403l-3 5 4 6 1 5 12-1 2-2-8-4-2-8-2-1zM412 150l-1 2 1 1 11-1-5-3zM454 392l-9 2 1 2 10 2 10-1 4-3-3-2zM456 194l12 9 0-10zM490 151l-1 1 4 0-1-1zM422 406l-12 10 18 0 10-4-8-5zM454 406l-2 4 2 2 14 3 8-1-3-6-13-3zM434 440l-4 2 0 2 9 2 7-2 1-2zM468 430l-2 4 2 2 8 1 3-3 0-2-3-2zM162 256l9 8-5 1-4-5zM130 284l2-1 8 3 4 6 0 4-4 1-4-3-4-4zM46 410l6 4 2 4-2 6 1 10-6 8 2 8-3 8zM99 422l15 0 6 20 3 18 11 6-67 0-2-4 2-2 2-8 5-8zM46 462l0-1 4 5-4 0z"/>
<path fill-rule="evenodd" fill="#fdd891" d="M251 148l15 0-4 5-6 1-4-2zM272 148l9 0-7 2zM349 148l9 0 0 4-9 0zM438 148l11 0 4 4-5 0zM268 154l14 6 20 0 12 4 12-2 2 3 16 6 17 13 15 9 8 1 36-2 28 1 20 13 2-14 16-15 16-12 6-2 6 1 0 240-4 0-2 2-6-1-4-2-10-20-6-5-14 2 0 7-12-1-3-2 0-4-1-2-8-1-4 5-4 3-18-2-8 1-18 11-8-1-3-8-3-1-18 0-6 3 7 4 0 2-9 0-12-4-1-4 2-8 0-4-6-6-7 0-4 1-3 3 1 6-4 13-8 2-26 1-3 2-5 8-14 3-10 5-9 10-3 8-4 2-4-1-3-5 1-4 6-3 12-15 9-4 2-10-1-2-4 0-22 2-6-1-4-3-1-4 1-4 8-4 1-2-5-4 0-4-1-24 4-8 0-6-8 4-8-16 5-4 24-8 5-6 3-10-8-8-47-18-6-4-12-12-24-14-29-10-4 0 12 9 8 0 2 3 2 0 9 8-1 2-26 3-26 9-10 0-1 6-1 84-6 5-20 8-10 3-4-1-2 1 0-194 32-1 23 4 29-1 6-1 8-5 6-1 24 8 28 3 18-8 16 3 8-2 8-3 6-4zM285 370l-19 6-2 2 0 4 4 3 20-2 13-7-1-4-4-2zM372 375l-1 1 1 2 6 2 6 1 3-3-5-2zM382 244l-5 2-2 2 3 2 4 0 6-4 0-2zM450 354l-4 2 0 4 4 1 9 0-1-8zM46 364l2 4-2 8zM46 382l0-1 4 5-4 3zM320 404l4 0 4 2-2 4-4 3-2-1-3-4 0-2zM198 412l7 0 2 2 0 2-11 9-8-2 0-3 2-2zM276 412l2-1 4 1 4 2 0 2-4 2-4-1zM421 424l5-1 3 1-7 3-2-1zM199 428l5 0 6 2 1 4-5 6 2 3 16-1 9 4-4 2-17 3-8 5-7-2-3-6 3-8-1-8zM394 428l4-1 10 1 6 3 2 3-20 2-4-3zM509 428l1-1 4 1 0 10-5-2zM46 430l2 2-2 3zM371 444l9-1 6 4 1 1-5 3-8-1-4-2-1-2zM510 448l4-1 0 8-4-1zM459 450l7-1 10 1 10 2 0 3-4 4-8 1-17-3-3-3zM314 454l6-1 26 5 11-1 13 1 6 2 0 6-21 0-3-4-6-3-7 3-4 4-29 0 4-4zM423 454l9 0 4 2-24 10-1-4 3-4zM238 456l4-1 5 3 1 2-3 6-11 0zM492 464l8-1 4 1 2 2-16 0z"/>
<path fill-rule="evenodd" fill="#fdc97e" d="M46 170l10-1 34 4 28-1 22 3 18-3 44 4 8-2 6-4 6-1 6 1 4 7 14-6 24-2 4 1 3 4 9 2 14-4 10 2 14-5 0 7-2 3 28 5 28 10 1 4-10 20-4 18 11 2 2-2 8 0-18 4-11 12 25 4 16-8 6 0 3 8-13 10 2 4 4 1 20-5-2-10 4-2 6 0 10 10 6 4 4 0 1 4-7-1-4 2-8 7-22 8-2 2 0 2 6 1 10-2 7-3 5-4 4 0 21 9 3 3 0 2-2 2-20 4-1 2 1 6-4 4-14 2-8 7-12 4-5 3-1 5 8 3 4 0 8-4 5 0 3 2 4 6 8 7-4 5-12 8-4 8-6 3-9-1-11-7-12-1-10-6-2-6-2-2-10-2-8 1-20 11-6-1-12-7-4 1-8 6-8 1-11-12 2-4 11-2 1-2-2-2-7-2-20 2-12-4-6 0 2 3 12 3 1 2-15 7-4 0-8-4-2-5 2-4 4-4-1-8 2-6-1-10 10-6 8-8 13-2 1-2-1-10 3-3 5-1-19-7-20-1-16-9-12 2-6-2-21-17-27-14-30-12-6-1 0 1 4 5 2 0 8 7 8 0 4 2 4 6-26-1-7 3-15 8-10 3-18-13-10-1-16-1zM178 198l-1 2 1 1 4 1 3-2-3-2zM206 238l-4 6 0 3 8 1 6-2-5-6zM247 242l0 3 6-1 0-2-3-1zM280 241l-20 15-8 3-8 0-4-7-6-2-6 0-2 2 3 4 13 3 4 4 14 4 8-1 8-4 2-2 2 1 0 3 6 10 2 1 1-5 3-4 10-8 2-4-9-9zM312 193l-3 5 2 6 5 1 13-3 0-2-7-6zM332 236l-5 4 5 1 6-5-2-1zM344 226l-5 8 18 0-11-9zM400 314l-4 2 0 2 4 2 7-4-1-2zM300 298l-20 2-16 4-1 2 2 6-3 6 8 3 16 1 14 3 22-4 20 3 6-2 5-12-2-6-9-5-6 0-9 1-4 2-5 6-4 1-13-5-1-2 8-4zM344 254l-10 8 14 12 6 2 18 1 4-3-2-2-8-1-11-7 1-10zM366 284l-1 0 1 2 3-2zM372 326l-4 2 1 2 7 2 5-2 2-2-3-2zM512 170l2 0 0 10-4-2 0-6zM510 192l4-1 0 6-4 1zM396 194l46 0 15 8 1 2 0 4-20 31 2 3-10 5-24-1 0-12-6-28zM509 210l5-1 0 10-3-1-2 2 1 6 4-2 0 66-4-1-2 6-18-1-7-6-4-8-1-12 0-26-4-26 4-4zM46 258l0-1 2 0 2 1 0 8-2 3-2 0zM46 288l2 0 2 3 34 1 2 1 2 3-1 6-5 4-32 0-4-2zM458 288l0-1 2 3-2 2zM497 304l11 0 2 3 4 1 0 24-4-1 0 3 0 4 4 0 0 33-4-6-2 2-16-1-4-4-4-14-4-6-14-6-4 6-12-11-10-7 2-2 14 0 8-5 4 1 0 6 12-5 10-13zM48 330l2 2 22 1 9 1-4 4-9 4-18 5 0 5-4 3 0-14 3-1 1-2-1-4-3-1zM441 342l3-1 4 1-6 2zM240 364l4-1 8 5-6 2-4 0-3-4zM259 368l2 0-1 2-2 0zM451 368l7-1 5 1-1 2-6 2-4-2z"/>
<path fill-rule="evenodd" fill="#fcb565" d="M46 176l8-1 44 2 20-1 12 2 10 5 30-5 13 0 6 2-7 4-18 1-9 9-2 4 0 2 3 3 21 5 19 5 8-1 15-7 7 4 6 1 12-5 12-2 10-5 16-3 8-4 6 0 5 3 0 12 1 4 26 0 8 3 3 3-7 11-12 5-10 1-16 4-20-7-16 4-16-2-12 6-23-4-5 1-8 9-4 1-16-6-46-22-12-1 6 8 8 4 0 2-8 0-6 3-18 12-8 4-20-21-11-8-9-3-2-13-2-1zM194 180l17 0-1 7 4 3 18-3 16-7 6 0 0 6-3 4-7 4-26 8-20-3-6-3-4-6 3-8zM133 230l7 0 0 2zM487 256l21 0 2 4 4 0 0 22-6-2-18-1-4-1-2-6-2-8 2-6zM398 278l8 0 2 2-10 6-9 0-1-2 2-2zM284 284l22 2 20-2 12 2 2 4-2 2-12 2-20-3-22 2-4-1-3-4 0-2zM438 292l3 0-1 2-4 3-6 10-6 3-26-6-3-4zM355 294l9 0 4 2-10 2-4-2zM317 324l7 0 42 11 18 1 16 8 16 1 6 3 0 7-6 5-12 1-4-1-6-6-4-2-52-10-4 0 3 6-2 2-11 2-4-2-3-8-7-5-14 0-11-7 3-1 18 1zM262 326l6-1 9 3-1 2-4 2-8 1-5-3zM46 346l2 0 0 4-2 1z"/>
<path fill-rule="evenodd" fill="#f9a059" d="M50 178l28-1 22 3 22 0 3 2 6 12 19 10 29 8 15 3 8 0 14-3 18 2 12-5 14-1 12-7 20-3 2 1 1 3-2 8 3 4 6 1 22 1 4 2 1 2-2 4-3 2-14 0-18 6-18-6-20 2-4-2-4-7-5-1-2 2-2 8-5 5-28-1-3 2-7 7-6 1-14-4-46-22-12-1 0 1 8 9-12 5-22 16-22-24-10-7-8-4-1-8-3-3 0-21zM512 270l2 0 0 6-3-4zM320 326l31 8 11 6 18 0 7 4-3 2-8 0-7-2-11-4-28-3-12 0-3-3-1-4 2-2zM398 348l16 0 4 2 1 2-3 4-6 1-5-3z"/>
<path fill-rule="evenodd" fill="#f78b4f" d="M70 180l12 0 34 5 16 13 22 10 36 9 33-1 9 4 2 6-4 4-4 0-22 0-4 2-8 7-3 1-15-4-46-21-14-1 5 8-11 6-17 14-17-20-14-11-10-6 0-3 8-2-12-2 0-16zM74 201l0 2 4 0 2 2 12-1-6-3zM58 201l0 1 2 1 0-2zM272 206l6-1 4 1 5 8 13 8-4 4-4 1-12-5-12-10 0-2zM262 220l5 0-5 3zM320 330l3 2-4 0z"/>
<path fill-rule="evenodd" fill="#f27447" d="M72 182l14 0 28 6 18 13 23 9 38 9 27 0 6 3 2 2-1 2-4 2-21 1-10 8-4 1-14-3-46-21-14-1-1 1 3 6-20 13-6 2-8-20-12-5-8-6 0-2 8 0 2 0 2 2 4 0 2 2 17-2-9-5-28-1-14-3 0-11 4-1 12 1z"/>
<path fill-rule="evenodd" fill="#ea5d3d" d="M73 184l11 1 16 4 14 2 20 13 16 7 56 12 6 0 4 1-12 1-12 10-10 1-38-16-14-7-18-1 2 4-12 7-6 1-2-4-2-14 8-2-6-6-6-2-36-1-6-2 0-6 2-2 14 1z"/>
<path fill-rule="evenodd" fill="#dc3a2c" d="M48 188l2-1 14 2 14-2 11 1 7 4-14 2-30-1-4-2zM104 192l12 2 18 12 8 4 53 12 3 2 0 2-7 8-11 0-38-16-12-7-20-1 0 3-8 2-2-3 0-6 2 2 3-2-9-12 0-1z"/>
<path fill-rule="evenodd" fill="#c62127" d="M109 194l11 3 9 7 2 4-15 2-6-2-5-4-2-6 1-2zM139 213l5-1 42 10 8 2 1 4-5 5-12 0-32-15z"/>
</g>
<polygon points="25.2,278.2 29.3,279.1 34.5,278.4 39.8,279.9 45.0,280.8 50.3,280.9 53.8,282.4 56.4,284.9 60.8,288.6 66.0,292.1 71.3,293.1 75.7,296.6 79.2,300.1 80.0,304.4 81.8,309.6 87.0,311.5 94.0,315.9 101.0,318.5 108.1,318.6 113.3,321.1 116.9,324.6 117.7,331.6 116.0,338.6 111.6,343.1 108.1,346.6 107.7,352.6 106.3,359.6 104.6,366.6 101.1,372.9 94.0,375.5 88.8,378.1 85.3,381.6 84.4,387.6 80.0,393.0 75.7,400.0 72.2,407.0 71.3,408.4 26.8,408.4 27.5,401.6 29.3,391.2 31.0,379.0 31.9,370.2 31.0,361.5 25.8,358.0 25.2,358.0" fill="#fff" stroke="#969696" stroke-width="1.2"/>
<polygon points="162.3,253.9 162.3,255.4 163.6,257.6 163.2,260.6 162.3,263.2 161.0,266.8 160.3,269.4 161.5,273.8 163.6,277.2 166.3,279.9 169.8,283.9 172.4,288.6 175.9,292.1 179.4,295.2 182.0,297.1 185.5,296.6 189.9,295.6 194.3,295.2 200.0,294.9 202.9,293.8 209.4,292.1 214.3,293.8 217.6,297.8 222.5,298.6 224.9,301.1 224.1,307.6 224.9,314.1 225.8,317.6 229.0,322.6 232.3,329.1 233.1,335.6 233.9,342.1 231.5,348.6 229.8,355.2 230.7,360.1 233.1,366.6 235.6,374.9 238.0,383.1 240.5,391.2 242.9,397.8 245.4,402.6 248.6,406.8 251.0,406.9 254.3,406.1 254.3,253.9" fill="#fff" stroke="#969696" stroke-width="1.2"/>
<polygon points="25.2,253.9 31.0,253.9 30.5,256.6 28.0,259.1 25.2,258.9" fill="#fff" stroke="#969696" stroke-width="1.2"/>
<polygon points="31.2,256.9 35.5,256.6 35.6,258.2 31.3,258.6" fill="#fff" stroke="#969696" stroke-width="1.2"/>
<g fill="#fff" stroke="#999" stroke-width="0.8"><circle cx="44.5" cy="259.1" r="0.9"/><circle cx="46.0" cy="262.1" r="0.9"/><circle cx="47.2" cy="265.1" r="0.9"/><circle cx="48.3" cy="268.1" r="0.9"/><circle cx="50.5" cy="271.1" r="0.9"/><circle cx="52.0" cy="275.1" r="0.9"/></g>
<path transform="translate(0.00 177.65) scale(.25)" d="M137 310l1 0m18-1l3 2m19 0l-1-2m21 1l-2 0m21 1l-1-2m20 1l2 0m17 0l3 0m18-1l1 2m18-1l2 0m19-2l-1 4m21-1l-1-2m19 1l3 0m18 1l0-2m19 0l2 2m20-2l-3 2m20-2l3 2m19-2l-1 2m21-2l-1 2m19-1l2 0m18 1l1-2m18 2l1-2m20 1l-3 0m22 1l-2-2m21 2l-2-2m21 2l-1-2m19 1l2 0m-177 19l2 1m18 0l2-1m18 0l2 1m16 0l4-1m17 2l1-2m19-1l0 3m20-3l-2 3m20-2l0 2m21-1l-2-1m19 0l2 1m20-1l-3 1m-193 20l1 2m20-2l-2 1m20 1l2-2m20 1l-3 0m21-2l-1 3m20-2l0 2m19 0l0-2m20 2l-1-2m20 0l-1 2m20-2l0 2m-176 20l3 1m17 0l2-1m21 0l-4 1m20-1l3 2m16-1l3 0m17-1l2 2m17-1l2 0m17 0l3-1m19 1l-2-1m20 0l0 2m-174 21l-1-2m21 2l-2-2m22 2l-2-2m20 0l0 2m18-1l3 0m17 1l2-2m18 0l0 2m19 0l1-2m18 2l1-2m20 0l-2 2m-452 21l2-1m17 1l4-1m95 0l4 1m18-1l-1 1m22 1l-2-2m20 2l1-3m18 2l2 0m19-1l0 2m18-2l3 1m18 0l2-1m19 0l-2 1m22-1l-2 1m21 1l0-2m20 1l-2 0m22 0l-2-1m19 1l2-1m20 2l-3-3m21 1l-1 1m21-1l-3 1m22 0l-2-1m21 0l-2 1m-411 20l1 2m96-1l5 0m16-1l3 2m18 0l0-2m21 1l-2 1m22-1l-2 0m20 0l2 1m17-1l2 0m19 1l1-2m17 2l4-2m16 0l2 2m19-2l-1 2m21-1l-3 0m22 0l-2 0m20 1l1-2m19 2l-1-1m19 1l2-2m17 1l2 0m18-1l1 2m-394 20l5 4m95-2l2 0m20 1l-2-2m21 3l0-4m21 2l-2 0m21 1l-1-2m19 1l2 0m18 0l2 0m17 1l2-2m17 1l3 0m18 1l0-2m19 0l1 2m19-2l-1 2m21-1l-3 0m20 1l2-2m17 2l2-2m19 0l-1 2m19 0l2-2m-294 22l2 3m18-3l2 2m20 0l-2-1m21 2l-1-3m18 2l4-1m17 1l2-2m19 3l-1-3m21 2l-3-2m20 1l1 1m19 0l0-2m19 0l0 3m21-2l-2 1m19 0l2-1m19 1l-1-1m20-1l-1 2m20 1l-1-3m21 1l-2 1m20 1l1-3m20 0l-2 3m20-1l-1-1m22-1l-3 2m20-1l1 1m18-1l2 0m18-1l0 3m18-1l2-1m-544 23l-2 0m19 0l3 0m97 1l1-2m20 1l-1 1m21-1l-2 1m21-2l0 2m18 0l2-1m18 1l1-2m19 2l0-2m19 0l0 2m17-1l4 1m19 0l-3-1m21-1l0 2m20 1l-2-3m20 1l1 1m20-1l-2 1m20 0l0-2m20 1l-2 1m22 0l-2-2m20 0l-1 2m21-1l-2 1m20 0l1-1m17 1l3-2m18 2l0-2m20 0l-1 2m20 0l-1-2m-542 25l-2-1m19-1l2 3m96-2l4 2m17-1l3 0m17 0l2-1m19 0l-2 1m22 0l-2 0m-157 23l1-3m18-1l2 5m99-3l-2 1m21-1l-1 1m20 0l-1-1m19-1l2 2m19 0l-2-1m19 1l2-1m-96 20l-2 5m21-4l-1 2m18-1l3 1m18-2l0 2m19 1l0-3m18 1l3 0m17-1l1 3m19-3l0 2m19 1l0-3m20 0l-1 2m21-1l-2 1m20-3l0 4m20-3l-1 3m19-1l2-1m17 1l2-1m18 1l0-2m21 0l-3 3m20-3l1 3m19-3l0 2m19-2l0 2m20-1l-1 1m18-1l3 1m-404 20l-4 3m21 0l0-3m19 1l2 1m19-2l-2 3m21-2l-2 1m20-1l1 1m19 0l-1-1m19 0l2 0m19-1l-1 3m20-3l-1 2m19-1l2 0m17-1l2 2m18 0l0-2m20 2l0-2m19 2l0-2m21 1l-4 1m20 0l3-1m17 1l1-1m19-1l0 3m20-2l-1 1m20-1l-1 1m22-2l-4 2m22 0l-2-1m-424 21l2 2m19 0l-1-2m20 0l-1 2m21-1l-2 0m19-1l2 2m18 0l1-2m18 1l2 0m19-1l-2 2m19-1l2 0m20-1l-3 2m20 0l2-2m17 1l2 0m19 1l-1-2m18 0l3 2m19-2l-2 2m19-1l2 0m20 0l-3 0m21 1l-1-2m20 2l0-2m18 0l2 2m20-2l-2 2m20-3l-1 4m22-3l-3 2m-424 20l2 3m18-1l0-2m18 2l3-1m18-1l-1 3m21-2l-2 1m20 0l1-1m19 2l0-3m20 2l-2-2m20 2l0-2m19 1l1 1m19 0l-1-2m20 0l0 2m20 1l-1-3m21 1l-3 1m20 0l2-1m18 1l0-2m19 1l1 1m17-1l3 1m17 0l2-1m18 0l1 1m20 0l-2-1m19 0l2 1m18-2l0 2m-444 21l0 2m21-2l-2 2m20-2l0 2m21-2l-3 1m22 0l-2-1m20 0l1 2m17-2l2 2m18-2l1 1m18-1l2 2m18 0l0-3m21 2l-2 0m22 0l-4 0m20-1l2 2m17-1l3 0m18 1l0-2m18 2l2-2m19 1l-2-1m21 0l-1 2m20-2l-1 2m19-2l2 1m18-1l1 2m18-1l2 0m17 1l2-2m19 1l-2 0m-444 21l2 0m20 1l-2-2m22 2l-3-2m21 3l-1-4m20 0l-1 4m22-2l-3 0m19 1l3-2m18 2l-1-2m19 2l2-2m18 0l1 2m18 0l1-2m20 0l-2 2m19-2l2 2m17 0l2-2m19 2l-1-2m19 0l2 2m19-2l-1 2m19 0l1-2m19 0l-1 2m21 0l-2-2m22 1l-3 0m21 1l-1-2m20 0l-1 2m21-2l-2 2m-463 19l1 2m19-2l1 2m18 0l2-1m19-1l-1 2m20-2l-1 2m20 0l0-2m20 2l-2-2m20 0l0 2m18-1l3 0m18 1l0-2m18 2l2-1m18 1l1-2m19 3l-1-3m19 2l2-1m17 0l3 0m17 1l2-1m17 1l2-1m19 1l-1-2m20 1l-2 0m20 1l1-2m20 1l-2 0m20 1l0-2m19 1l1 1m20-2l-2 2m-443 22l-1-1m19 2l2-3m19 1l0 1m19 0l1-1m19 2l-1-3m21 2l-2-1m19 2l2-3m17 0l3 3m17-1l1-1m18-1l2 3m19-1l-1-1m21 1l-2-1m18-1l3 3m16-1l4-1m17 0l0 2m19-2l1 2m20-2l-3 1m20 0l2 0m20-1l-3 1m20 1l2-2m17 0l2 1m19-1l-1 1m19-1l1 2m20-1l-3 0m-778 21l-2 0m318-2l0 4m20-3l-1 2m21 0l-2-1m20 1l2-2m19 2l-2-1m21 0l-1 1m20 0l0-2m20 2l-2-1m21 0l-2 0m21 1l-1-2m19 2l2-2m18 0l0 3m20-3l-1 2m18 0l3-2m19 2l-1-2m20 2l-2-1m21 1l-1-2m19 0l1 2m19 0l0-2m19 2l1-2m20 1l-3 1m22-2l-2 2m19-1l2 0m19 1l-1-2m20 2l-1-2m21 0l-2 3m-800 20l1-1m315-1l3 3m18-2l1 1m19 0l0-2m21 1l-2 1m19-1l2 1m19-1l-1 1m19-1l2 0m18 2l1-3m20 2l-3-2m20 2l2-1m18 2l0-3m21 3l-3-3m21 1l-1 1m19-1l2 1m18 1l1-4m18 2l1 1m19 0l-1-1m21 1l-2-1m21 0l-1 1m20-2l-1 2m20 0l0-2m18 1l2 1m17-1l2 1m18-1l1 1m19 0l0-2m20 1l-2 1m-798 19l-2 2m259-2l-2 2m20-1l2-1m17-1l3 3m18 0l1-2m20 1l-1-1m21 2l-1-2m19 1l2 0m19 1l-1-2m21 1l-3 0m22 0l-2 0m20-2l1 3m19-1l-2-1m22 1l-2 0m21-1l-2 2m19-1l2 0m18-1l1 1m18 0l2-1m18 2l0-2m20 1l-2 0m20-1l1 2m19-2l0 2m19 0l0-3m19 3l1-3m19 1l0 2m19-2l0 2m20-1l-2 0m21-1l-1 2m20 0l0-2m20 1l-2 0m19 0l3-1m-822 22l2-1m237 0l-2 1m23 0l-3-1m22-1l-2 3m21 0l0-2m20-1l-1 3m20-2l1 1m18-1l2 1m40-3l-4 5m21 0l1-5m21 2l-4 1m23 1l-4-3m135 2l4 0m53 0l6-1m34 3l3-5m56 4l0-3m20-1l-1 5m22-1l-5-2m-778 23l-1-2m218 0l1 2m18-1l3 0m18 1l0-2m21 2l-2-2m20 0l2 1m18 0l2 0m19 0l-2 0m22-1l-2 1m140-1l-6 2m63-3l-5 3m19-1l6-1m109 1l7 0m36-3l-2 5m22 0l-3-4m57 1l5 2m-804 20l2-1m216 1l2 0m20 1l-3-3m20 2l2-1m18 1l2 0m18-1l2 1m18-1l1 1m19-1l1 1m18 0l2 0m38-3l1 5m60-1l-6-3m176 0l1 4m37-5l2 5m76-5l0 5m-744 16l3 3m197-1l-1-1m22 1l-2 0m20 0l1-1m18 1l2-1m20 0l-2 1m21 1l0-3m20 3l0-2m20 1l-1-1m20 0l0 2m232 2l0-6m-389 21l-2 3m20-1l1-1m18 1l2 0m21-1l-4 1m22 1l0-2m21 1l-2-1m20 1l2 0m18 1l1-3m21 2l-3-1m172 1l6-1m36-2l-1 5m57-1l4-3m-452 20l2 1m19-2l-1 2m19-2l3 2m19-1l-2 1m20-1l2 0m18 0l2 1m18-1l2 0m19-1l-1 3m20-2l1 1m18-1l2 0m134 2l1-3m40 1l-3 1m79-2l-1 3m118 1l-4-5" stroke="#00f" stroke-width="4.6" stroke-linecap="round" fill="none" opacity=".8"/>
<path transform="translate(0.00 177.65) scale(.25)" d="M115 330l3 0m15-2l8 3m13-1l5 0m15 0l4-1m15 1l7-1m13 1l5 0m15-1l5 1m14-1l8 1m13-1l5 1m15 0l3 0m16 0l5 0m15 0l5 0m15 0l4 0m16 0l4 0m15-1l6 1m14-1l5 1m16-1l2 0m-320 22l7-1m13 0l6 1m14 0l4 0m16-1l5 1m15 0l4 0m15 0l6 0m14 0l5 0m15 0l6 0m13 0l7 0m14-1l4 1m16-1l4 1m15 0l5 0m15 0l5 0m15-2l5 2m15 0l5 0m15-1l3 1m16 0l6 0m-328 21l21 2m-2-2l22 2m-1-2l19 2m1-2l18 2m4-2l14 2m7-2l11 2m10-2l6 2m14-1l6 0m13 0l7 0m13-1l6 1m15-1l4 1m15-2l7 3m13-2l4 1m16 1l4-1m15 0l6-1m14 0l6 1m14 0l5 0m-326 20l18 2m1-2l19 2m0-2l21 2m-3-3l25 5m-5-6l25 7m-8-7l33 8m-16-11l42 15m-11-10l12 3m10-2l5 0m15 0l4 0m16 0l4 0m16 0l3 0m16 0l4 0m16 0l4 0m15-1l6 2m15-1l3 0m17 0l1 0m-221 20l9 4m6-8l22 12m-1-12l19 12m5-9l9 5m-28 17l6 4m10-7l17 12m3-11l16 9m7-7l6 3m-27 19l11 7m5-9l19 11m4-9l12 7m12-5l0 0m-39 22l0 0m14-3l15 10m4-11l17 12m7-9l5 4m-24 19l4 4m11-7l17 11m3-10l16 9m8-6l3 1m-42 23l1 0m16-3l11 9m7-11l16 13m5-11l13 8m106-4l8-1m10 2l11-2m9 1l9 0m10 0l8 0m10 0l12 0m8-1l11 2m8-1l11 0m9 0l10 0m9 0l10 0m9 0l10 0m10-1l9 1m10-1l11 1m8-1l11 2m8-1l12-1m8 0l9 1m10 0l10-1m10 0l9 1m10 0l9 0m-472 20l4 2m12-5l14 10m5-11l17 12m8-8l3 2m131-1l5 0m15 1l3-1m16 0l4 0m15 1l6-1m14 0l3 0m15 0l7 1m13-1l4 0m16 0l2 0m16-1l6 2m15 0l1 0m18-1l2 0m17 0l3 0m16 1l4-1m15 0l5 1m14-1l7 0m-433 18l9 9m13-8l4 7m1 14l-6 10m5 12l-3 7m3 17l-2 2m-18 18l-4 9m-15 12l-5 11m23-9l-1 3m-17 15l-5 14m4 11l-2 6m-18 37l-2 6m77 40l3-1m97-3l0 2m21 3l-3-3m21 3l-1-2m21-2l-2 2m22-2l-3 2m20-3l0 2m40-2l-2 3m18 1l1 0m37-2l0 0m40-2l1 3m21-3l-3 4m79-5l-1 5m19-4l0 2m-444 19l1 3m20-3l-1 3m16-1l5 1m20 1l-2-1m19 3l0-4m22 3l-3-2m40-3l-1 4m22-3l-4 2m57 2l2-2m20-4l-1 5m20-4l0 4m22-2l-4 1m21-3l-1 4m39-4l0 3m54-1l6 1m17-3l0 2m35 0l5 1m-448 21l4-1m37 3l1-2m19 2l0-3m40 1l0 0m20 0l-1 0m17 1l0 0m22-3l-1 1m21-1l-2 1m21-2l-3 3m20 2l0-2m23 0l-6-1m40 3l0-1m40 1l0-1m22-5l-7 8m17-7l14 6m33 1l-4-10m20 3l1 3m17-4l3 6m21 1l-5-7m21-2l2 13m-465 15l0-2m19 1l0 0m18 0l2-1m22 1l-2-1m21 1l-1-1m21-3l-3 3m22 3l-4-5m20-2l1 5m16-2l4 1m15 0l5 0m19 2l-1-2m38 3l1-6m18 0l1 2m21 2l-2-1m15 0l7-1m13 0l6 1m17 4l0-8m13 0l13 8m12-8l1 6m12-5l15 6m7-7l7 7m21-3l-10 0m19-1l11 2m17 2l-6-7m-459 21l-1 3m22 0l-2 0m21 1l-3-2m17-1l4 2m18 2l0-2m17 0l1 0m22 1l0 0m16-3l1 1m39-2l1 3m38-3l0 2m22 0l-3 1m41 1l-1-1m20-2l-1 1m18-2l0 2m24-1l-9 4m28 2l-9-10m18 8l14-6m16 8l-9-9m27 10l-7-12m24-2l-2 20m24-14l-6 5m21-6l1 6m-460 17l-3-1m18 2l0 0m23-2l-1 0m19-1l0 0m20 2l-1-1m20-1l-1 0m36 1l1 0m42 2l-2-1m18-2l0 0m19 0l0 0m40-1l0 1m17 1l0 0m20 2l0 0m17 4l8-12m7 6l18 1m29 5l-1-11m15 5l9 1m20-1l-11 1m26-6l-2 11m17-3l6-5m18-2l-3 9m24-3l-5-2" stroke="#00f" stroke-width="5.2" fill="none"/>
<path transform="translate(0.00 177.65) scale(.25)" d="M124 329l-6 4 0-7zm23 3l-7 2 2-6zm18-3l-6 4-1-7zm19-1l-5 5-2-7zm23 0l-6 4-1-6zm18 2l-7 3 0-7zm19 2l-7 1 2-6zm22-1l-6 2 0-6zm18 0l-7 2 1-6zm18-3l-5 5-2-7zm22 2l-6 3-1-7zm19-1l-6 4 0-7zm20 1l-7 3 0-7zm20 0l-7 3 0-7zm20 1l-7 2 2-6zm20 0l-7 2 1-6zm17 0l-7 2 2-7zm-313 18l-6 5-1-7zm19 3l-7 2 1-6zm19-2l-6 4-1-6zm20 2l-7 2 1-6zm20-1l-7 3 1-6zm21 0l-7 3 0-6zm18 0l-6 3 0-6zm21 0l-6 3 0-6zm20-1l-6 4 0-7zm19 2l-7 2 1-6zm19 0l-7 2 1-6zm21-2l-7 4 0-7zm20 1l-7 3 0-6zm18 3l-7 0 3-5zm21-3l-7 3 1-6zm18 2l-7 1 2-6zm23-2l-7 3 0-6zm-305 24l-10 4 1-10zm21-1l-11 5 1-10zm17 0l-10 4 1-9zm18 1l-8 3 1-8zm16 0l-7 2 1-6zm18-1l-7 3 1-7zm16 1l-7 2 2-7zm20-2l-6 3 0-6zm21 0l-6 3-1-6zm18 1l-6 2 1-6zm19 1l-7 1 2-6zm21 1l-7 1 3-6zm18-2l-6 2 0-6zm20-3l-5 5-2-7zm22 0l-6 5-1-7zm19 3l-6 2 0-6zm19-1l-6 3 0-6zm-305 23l-9 4 1-9zm21 0l-10 4 1-10zm21 1l-10 3 1-10zm24 2l-13 3 2-11zm20 3l-14 2 4-12zm26 0l-14 3 3-12zm25 5l-14 2 4-12zm-5-10l-6 2 1-6zm15-2l-7 2 1-6zm20-1l-7 3 0-6zm19 1l-6 2 0-6zm20-1l-7 3 1-6zm19 0l-6 3 0-6zm21 1l-7 2 1-6zm20 1l-7 2 2-7zm19-1l-7 2 1-6zm18 0l-7 2 1-6zm-213 25l-7 1 3-6zm33 8l-14 0 6-11zm16 0l-12-1 6-9zm10-7l-7 0 3-6zm-21 21l-8-1 3-5zm29 7l-11-1 5-8zm18-3l-10 0 5-7zm12-5l-8 0 3-6zm-16 26l-7 0 3-6zm27 4l-11 0 5-9zm13-3l-8-1 4-5zm11-5l-7-2 4-5zm-40 23l-7-3 5-4zm33 7l-10-1 5-8zm21 1l-11-1 6-8zm9-5l-7-2 4-5zm-20 22l-7-2 4-4zm31 6l-11-2 5-8zm18-2l-9-1 4-7zm10-6l-7-1 3-5zm-41 21l-7 1 2-6zm26 8l-7-2 4-5zm25 3l-10-2 6-7zm16-4l-7-1 3-6zm115-9l-6 4-1-7zm21-1l-6 4-1-6zm19 2l-7 3 0-6zm18-1l-6 4-1-7zm22 1l-7 3 1-6zm18 2l-7 2 1-6zm19-2l-6 3 0-6zm19 0l-7 3 1-6zm19 0l-6 3 0-6zm20 0l-7 3 0-7zm18 2l-7 2 1-7zm21-1l-6 2 0-6zm20 1l-7 2 1-7zm20-4l-6 4-1-6zm16 3l-6 2 0-6zm21-2l-6 3-1-6zm18 2l-7 3 1-7zm20-1l-7 3 0-6zm-470 25l-7 0 3-6zm28 6l-9-1 5-6zm23 3l-11-2 6-8zm8-9l-7 0 4-6zm137-4l-6 4 0-7zm19 0l-6 4-1-7zm19 0l-6 4-1-7zm21-1l-6 4-1-6zm18 2l-7 3 1-7zm22 0l-7 3 0-7zm17-1l-7 4 0-7zm17 1l-7 2 1-6zm22 2l-7 1 2-6zm16-3l-6 4 0-7zm21 1l-7 3 1-7zm19 1l-7 2 2-7zm20-2l-6 4 0-7zm21 1l-7 3 1-7zm20-1l-6 4 0-7zm-425 32l-7-2 5-5zm15-1l-6-4 6-3zm-11 24l0-7 6 3zm2 20l0-7 6 2zm1 19l1-8 5 4zm-21 27l-1-7 6 3zm-21 23l0-7 6 2zm25-6l-3-6 7 0zm-25 30l-1-8 7 2zm3 16l-1-7 6 2zm-20 43l-1-7 6 2zm88 30l-5 6-2-6zm88 8l0-8 6 3zm17-11l6 3-4 4zm23-1l4 6-6 1zm15 11l3-7 4 5zm19-1l4-6 3 5zm25 3l-3-7 6 0zm34-1l1-7 6 4zm27-9l-2 7-5-5zm40 4l-7 3 1-7zm36 5l-5-4 6-3zm11 1l2-7 5 4zm81 1l-1-7 6 2zm23-1l-5-6 7-1zm-444 21l-4-5 6-2zm17 1l-2-7 6 1zm28-6l-6 2 0-6zm6-5l7 1-3 5zm25-3l3 6-6 0zm14 2l7 2-4 5zm42 12l-1-7 6 1zm15-3l4-6 3 5zm69-9l-3 7-4-5zm12 13l-1-8 6 2zm22-1l-4-6 7 0zm12-6l6-4 1 6zm25 6l-2-6 6 0zm38 0l-1-7 6 1zm68-5l-7 1 2-6zm10 4l-2-7 6 1zm47-4l-7 1 2-6zm-443 17l-6 4-1-6zm32-5l2 7-7-1zm17 0l4 6-6 1zm35 5l7-1-2 6zm19 1l7-2-1 6zm26-3l0 7-6-4zm14 8l1-7 5 4zm17-2l4-5 3 5zm20 3l2-7 5 4zm24-11l3 6-6 0zm11 4l7-2-2 6zm49-3l0 7-5-2zm36 0l4 6-7 1zm12 14l2-7 5 4zm41-4l-8 1 3-7zm20-17l5 5-5 3zm27 17l-6-4 6-3zm20 3l-5-5 5-3zm10-17l6 4-5 3zm27 22l-4-5 6-1zm-462 2l-1 7-5-3zm19 1l-1 7-5-4zm22 1l-4 6-4-6zm9-1l7 1-3 6zm19 0l7 1-3 6zm19 9l3-7 4 4zm20-13l6 4-5 3zm25 15l-4-6 6-1zm25-6l-6 2 1-6zm21-1l-7 3 0-7zm8-5l6 4-5 3zm42-4l3 7-7-1zm19 14l-4-6 7 0zm15-10l7 3-5 4zm32 3l-6 4 0-6zm19 4l-7 1 2-6zm11-13l3 7-6 0zm33 19l-9 0 4-7zm6 0l-4-6 7 0zm34-3l-8 1 2-7zm12 3l-7-3 5-4zm-1-8l6-4 1 7zm44 2l-7 2 1-6zm0-11l7 3-5 4zm-458 34l-1-7 6 3zm15-6l7-3-1 7zm19-2l7-1-2 6zm33 6l-7 0 2-6zm12-10l3 6-6 1zm24 6l-6 4-1-6zm12-3l6 3-5 4zm26 7l-7-2 4-4zm37 3l-5-5 6-2zm36 0l-3-7 6 0zm13-5l6-5 1 7zm41-5l7 2-5 4zm19 7l3-6 4 5zm26 2l-6-5 6-2zm6-1l5-5 3 6zm21-15l7 3-5 4zm42 4l-5 6-3-6zm-4-3l7 2-5 5zm22-2l6 4-5 3zm25 33l-4-10 9 0zm13-15l3-7 4 5zm29 2l-5-6 6-1zm-471 8l7-1-2 6zm28-1l-1 7-5-4zm11 4l6-4 1 6zm22 3l1-7 5 4zm17-4l6-3 0 7zm21 4l2-7 5 4zm47-3l-6 2 0-6zm29-4l7 1-4 5zm25 8l-5-6 6-1zm21 0l-6-4 5-3zm34 0l-1-7 6 2zm25-3l-7 1 3-6zm18-6l-1 7-5-3zm25-8l-1 8-6-4zm30 14l-9 4 1-9zm18-14l4 6-6 1zm31 13l-6 3 0-7zm-3 1l6-4 1 6zm29 10l-2-7 7 1zm28-18l-2 6-4-4zm9 17l-1-8 6 3zm15-13l7-1-2 6z" fill="#00f"/>
<path d="M57.0 266.6L57.0 278.7" stroke="#00f" stroke-width="1.6"/>
<path d="M57.0 282.6L55.2 278.7L58.8 278.7Z" fill="#00f"/>
<path d="M85.0 279.6L87.3 288.9" stroke="#00f" stroke-width="1.3"/>
<path d="M88.0 291.6L86.1 289.2L88.5 288.6Z" fill="#00f"/>
<path d="M60.8 282.8L74.8 288.1M70.9 288.4L74.8 288.1L72.1 285.2M76.6 288.9L97.6 305.6M93.8 304.8L97.6 305.6L95.9 302.0M70.0 285.6L90.0 301.6M86.2 300.8L90.0 301.6L88.4 298.1M111.6 317.9L122.1 323.1M118.8 323.1L122.1 323.1L120.1 320.4M119.5 326.6L120.4 337.4M118.8 334.8L120.4 337.4L121.5 334.6" stroke="#1a1a1a" stroke-width="1.05" fill="none" stroke-linejoin="miter"/>
</g>
<rect x="25.25" y="253.9" width="229.05" height="154.45" fill="none" stroke="#262626" stroke-width="1.8"/>
<path d="M30.95,253.90v2.6M30.95,408.35v-2.6M67.16,253.90v2.6M67.16,408.35v-2.6M103.37,253.90v2.6M103.37,408.35v-2.6M139.58,253.90v2.6M139.58,408.35v-2.6M175.79,253.90v2.6M175.79,408.35v-2.6M212.00,253.90v2.6M212.00,408.35v-2.6M248.21,253.90v2.6M248.21,408.35v-2.6M25.25,281.91h2.6M254.30,281.91h-2.6M25.25,309.87h2.6M254.30,309.87h-2.6M25.25,337.83h2.6M254.30,337.83h-2.6M25.25,365.79h2.6M254.30,365.79h-2.6M25.25,393.75h2.6M254.30,393.75h-2.6" stroke="#262626" stroke-width="1.6" fill="none"/>
<text x="21.9" y="257.1" class="tk" text-anchor="end" textLength="23.0" lengthAdjust="spacingAndGlyphs">20<tspan class="dg" dy="-3.4">°</tspan><tspan dy="3.4">N</tspan></text>
<text x="21.9" y="285.0" class="tk" text-anchor="end" textLength="23.0" lengthAdjust="spacingAndGlyphs">10<tspan class="dg" dy="-3.4">°</tspan><tspan dy="3.4">N</tspan></text>
<text x="21.9" y="313.0" class="tk" text-anchor="end" textLength="17.3" lengthAdjust="spacingAndGlyphs">0<tspan class="dg" dy="-3.4">°</tspan><tspan dy="3.4">N</tspan></text>
<text x="21.9" y="340.9" class="tk" text-anchor="end" textLength="21.1" lengthAdjust="spacingAndGlyphs">10<tspan class="dg" dy="-3.4">°</tspan><tspan dy="3.4">S</tspan></text>
<text x="21.9" y="368.9" class="tk" text-anchor="end" textLength="21.1" lengthAdjust="spacingAndGlyphs">20<tspan class="dg" dy="-3.4">°</tspan><tspan dy="3.4">S</tspan></text>
<text x="21.9" y="396.9" class="tk" text-anchor="end" textLength="21.1" lengthAdjust="spacingAndGlyphs">30<tspan class="dg" dy="-3.4">°</tspan><tspan dy="3.4">S</tspan></text>
<path d="M170.0 268.1h29M193.4 265.2L199.1 268.1L193.4 270.9" stroke="#222" stroke-width="1.05" fill="none"/>
<path d="M219.6 268.1h16" stroke="#00f" stroke-width="1.2"/>
<path d="M233.9 266.2L240.1 268.1L233.9 269.9Z" fill="#00f"/>
<text x="173.7" y="278.4" class="lgk" textLength="33.5" lengthAdjust="spacingAndGlyphs">0.4 m s<tspan dy="-2.8" font-size="5.5">−1</tspan></text>
<text x="212.8" y="278.4" class="lgb" textLength="33.5" lengthAdjust="spacingAndGlyphs">0.1 m s<tspan dy="-2.8" font-size="5.5">−1</tspan></text>
<text x="102.7" y="248.2" class="pt" textLength="23.8" lengthAdjust="spacingAndGlyphs">Year</text>
<text x="131.8" y="248.2" class="pt" textLength="12.1" lengthAdjust="spacingAndGlyphs">11</text>
<path d="M146.5 244.2h8.8" stroke="#000" stroke-width="0.9"/>
<text x="158.0" y="248.2" class="pt" textLength="12.1" lengthAdjust="spacingAndGlyphs">20</text>
<text x="41.0" y="249.9" class="pl" text-anchor="middle">(<tspan font-weight="bold">b</tspan>)</text>
<clipPath id="clipc"><rect x="25.25" y="431.55" width="229.05" height="154.45"/></clipPath>
<g clip-path="url(#clipc)">
<rect x="23.25" y="429.55" width="233.05" height="158.45" fill="#e0f3f8"/>
<g transform="translate(0.00 355.30) scale(.5)">
<path fill-rule="evenodd" fill="#fffcc6" d="M46 148l468 0 0 318-468 0zM90 268l0 52 6 2 8 10 0 84 2 0 2-3 1 3 4 4 9 2 12 6 6 1 6-3 11-12 13-9-1 13-14 18-1 7-4 3 0 3 10-8 18-29 7-8 16-12-5 0-6 3-4 0-6 4-3-1 6-8 5-18-3-6-10-11-2-23-1-10 2 0 0-2-11 0-1 2-2 0-2-2-10-2-4-4-14-8-4 0-6-6 0-4-2-2 0-15-3 1-1 2-10-10-4-2-8 0zM156 241l4 9 20 18 12 5 10 8 14 1 8 4 9 8 1 4 2 3 6-5 2-6-3-4-15-8-30-10-18-16zM196 288l-4 3-2 5-2 10 2 4 10-2 16-6 7-4 2-4-3-3-6-2-12-2zM212 364l0 8-2 2-3 8-3 4 0 4 8-4 2-4 1-16-1-2z"/>
<path fill-rule="evenodd" fill="#fee9a6" d="M62 148l98 0 3 10 11 4 6-2 10-12 25 0 0 4 4 4 9 3 7-1 2-2 1-8 72 0-4 6 4 4 6 1 4-3-2-8 35 0 3 4 4-1 3-3 111 0 8 6 4-2 4-4 24 0 0 9-4 0 0 3 0 4 4 1 0 301-190 0-2-2-4-2-4 1-3 3-265 0 1-41 2 3 5 18 4-10 8 3 8-1 26-17 19 1 17 23 6 5 4 0-3 10-3 2 6 1 5-2 31-46 8-4 10 1 4-2-8-1-2-1 1-6 6-6 18-10-2-10 3-12-1-4-5-3-4 11-8-10-20-12-4-5 0-5 1-14 9-6 36-12 8-4 3 0 1 4 6-4 4-10-1-4-5-2-44-19-16-13-32-19 11 13 1 6 12 12-6 2-5-6 0-4-2-2-5 0-13 2-10 8-1 2 2 2 12 4 6 6 3 16 0 6-3 2-5 0-6-2-10-8-5-10-1-6 1-6-2-1-14-3-18-9 0 81 10 13 3 9-1 44-2 13-2-5-2 0-36 10-2-7-9 5-3 4 0-271 10-1zM418 448l-2 2 2 2 6 3 4-2-6-4zM458 194l-1 0 11 8 0-9zM52 456l-1 4 1 3 4 0-3-3zM52 364l-3 4 1 4 6 11 2 0 2-7-1-6-3-4zM58 389l0 7 2 4 2-6-2-4zM186 274l0-1 6 3-4 2z"/>
<path fill-rule="evenodd" fill="#fdd891" d="M79 148l41 1 6 7 2 1 22 3 12 4 16 2 6 0 12-6 17 0 31 6 16-4 19 4 9-4 4-1 12 1 14 4 8-2 14 5 23 17 13 6 4 1 6-1-3-4-1-4-2-30 3-2-6-4 47 0-4 3-18 1 14 2-4 30-2 4 41 5 17 11 2-13 14-12 8-4 8-2 8-1 2 2 4 1 0 66-3 3 0 2 3 2 0 118-4 0 0 2 0 2 4 1 0 35-4 0-2 7-5 3-1 8 2 15 4 6 2 7 4 2 0 9-6 3-76 0 0-4 2-2 12-5 14-3 2-2 0-4-6-1-14 4-3-3 2-8-21-1-9 1-9 4-2 7-3 3 24 8 3 2 1 4-96 0-1-10 12-2 3-2 0-4 3-3 14-2 6-5 0-2-11-10-13-3-16 5-12 1 0 1 8 5 2 3 0 16-14 5-4 3-1 4-26 0 8-8-1-2-2-1-12 5 4 6-15 0-5-3-9-1-7 1-2 3-54 0-3-10 0-2 14-6 2-2 0-2-5-1-7 3-5 8-5 4-17 6-1-4 2-6 9-10 14-22 4-3 6-1 12 4 10 4 4 6 10 0 4-2-2-2-10-5-2-5 0-2 4-2 12-4 9-6 1-4-6-6-2-6-12-5-3-5 0-4 5-10-4-10 1-22-8 6-1 6-15-26 3-4 5-2 27-5 2 1 9-8 3-12-2-3-4-3-44-17-49-35-28-10 1 3 10 6 8 0 2 2 2 0 12 15-16 0-26 11-12 0-12-3-2 87-6 4-32 9-4 7 0-205 32 2 3-2 1-2zM282 428l0 3 3-1 2-2zM336 364l-1 0 3 3 5-1 4-2-7-1zM368 408l-5 2 6 8 5 2 9-2 0-4-3-3zM400 392l-8 4-2 6 1 4 5 0 12-6 0-8zM414 384l-3 2-2 4 5 1 5-3-1-3zM424 396l-10 4 0 4 4 8 18 12 16-1 6 1 2-1 1-3-3-3-8-3-2-2 2-6-10-3-3-5-3-1zM450 390l-2 2 2 3 4 1 4-4-2-2zM331 150l5-1 5 3-11 0zM162 258l6 6-2 1-4-5zM46 380l0-1 8 25-3 6-5 4zM216 394l4 0 1 2-7 4-5-2zM509 416l1 0 4 2 0 6-4 1zM102 422l13 0 11 22 6 16 8 6-39 0 2-4-4-2 0-24zM344 434l4 0-2 2zM46 446l0-1 2 5-2 3zM75 453l3-2 3 1 1 10-2 4-19 0 3-4 5-2zM150 466l6-1 2 1z"/>
<path fill-rule="evenodd" fill="#fdc97e" d="M96 152l4 1 2 5 5 4 10 3 21-2 16 5 28 3 52 0 18 2 16 6 6-1 12-6 14-1 12 6 12-1 20 4 26 14 10 1 36-3 30 2 22 12 2-13 10-6 10-4 18-1 6-3 0 41-6 4-28 1-2 1 0 2 2 18 4 6 30 1 0 73-4 0 0 4 0 5 4 0 0 17-4 0-1-2-15 0-4 3-2 9 0 10 4 16 3 40-1 26 2 3 11 1 0 2-10 6-16 0 8-8 1-4-13-6-5-10-3-22-7-10 4-12-2-7-6-3-18 0-1-1 9-5 4-6-1-4-9-7-4 0-26 11-9-8-6-2-19 3-50-10-6 1-2 2 3 8-9 16 9 6-1 10-4 5-8 0 0-9-11-6 4-8-3-12-4-2-4-1-14 8-12-2-3-3 0-2 4-6 0-3-16-7 2-4 21-10 3-4-3-4-8-2-6 0-8 8-16 11-6 0-3-3 0-14-3-2-1-6 9-3 3 2 7-7 6-10 3-12-3-7-50-20-46-33-26-12-8-2 0 2 4 5 2 0 4 5 4 2 8 0 4 2 4 6-16-3-8 1-22 12-12 3-1 7-1 52-2 3-4 2-32 0-1-7-3 0 0-16 4-2 0-4-1-10-3 0 0-115 32 1 11-4zM276 306l-10 4-4 4 0 2 8 4 20-2 2 2 0 8 4 4 4 2 12-1 7-5-7-8-14-7-6-7zM336 214l-2 2-4 8 0 2 12-4 1-2-1-6-4-1zM388 326l-1 2 0 4 7 5 10 2 10-5-2-4-8-4-10-1zM444 350l-1 2 1 4 5-2-1-3zM296 354l-5 2-2 4 7 2 8-4 1-2-3-1zM336 319l2 7 7 6 21 5 7-1-9-3-7-6-19-8zM342 234l-3 4 3 4 8 1 4-3-2-4zM50 322l32 0 4 2 2 6-2 5-3 1-33 5-2 5-2-1 0-19 2 0zM342 374l6-1 3 1 0 2-3 3-4 2-2-3zM384 378l10 0 5 4-3 4-13 4 0 8-3 4-30 2-6-2-1-2 1-2 12-6 20-2 2-2 0-6zM510 378l4 0 0 9-4 1zM253 388l11-1 6 1 1 2-3 5-10 6-7-7 0-4zM411 424l9-1 14 7-4 3-22 1-7-2 0-2 1-2zM190 426l4-1 5 1 2 2-7 1zM300 438l4 0 2 3-1 1-3 0-2-2zM261 448l12 0-3 3-14-1zM363 458l8 1 9 4 18 1 7 2-40 0-3-6zM218 460l10-1 2 2 2 5-38 0 2-2 10 1zM454 460l6 2 3 4-21 0 3-4zM340 462l4 2 2 2-11 0 1-2z"/>
<path fill-rule="evenodd" fill="#fcb565" d="M83 164l11-1 16 5 24 0 12 6 20-2 32 4 34 0 6 1 8 6 10 3 22-2 8-6 6-1 6 1 2 3 0 2 20 1 24 4 0 4-12 14-7 4 0 6-2 4-15 6-2 7-7 3-5 9-6 5 0 2 2 1 14-2 18 2 3-1 3-6 2 0 20 2 12-2 6-8-2 0-2 1 0-3 4-9 8-25 5-6 11 0 8 1 5 3 5 11 4 3 5-2 8-16 5-1 9 1 8 4 4 6-11 20 0 6 2 6 8 4 20 2 4 6 8 20 4 5 20 1 2 2 4-1 0 29-1 2 1 1 0 11-4 0-2-5-16 1-2 4-3 22-3 10-4 6-4 0-16-6-6-6-15-6 1-4-3-10 2-6-1-6-10-9-6-2-34 2 4-15-21-8-15-1-18 1-16-3-14 5-18 1-20 7-2 8-12 4-2-4 0-4 6-8-10-10-16-3-33-13-39-26-10-8-22-11-8-2-6 0 0 1 6 8 3 0 0 2-11 6-16 13-10 3-20-14-8-3-10-1-1-6-3 0 0-57 12-2zM196 224l-2 2 0 4 4 6 22 6 16 1 8 7 8 4 6 0 4-2 1-2-6-8-11-4-6-5-2-9-6 0-10 3-14-4zM258 210l-1 0 0 2 3 2 6 0 4-2-6-2zM282 204l0 4-11 6 19 8 8 0 2-2-2-4-12-11zM402 246l-5 2-1 2 8 0 4-2-2-2zM412 229l-6 3 0 5 2 3 6-1 8-3-3-6zM432 239l-1 1-1 13 18 2 2-7-2-3-4-3zM510 188l4 0 0 8-4 0 0-2zM510 206l4 2 0 2-4 2zM311 236l7 2 2 0 0 2-8 0-2-2zM46 258l0-1 4 1-2 9-2 1zM512 260l2 0 0 4-2-2zM357 288l7 1 3 1 0 2-9 11-4 1-1-2 0-4-3-6zM46 296l3 0-1 7-2 0zM323 296l9 2 12 6-4 3-20 4-8-1-4-4 1-4zM357 312l5-1 4 0 7 9-1 4-14-3-6-3 0-3zM279 338l5-1 14 3 40-3 30 5 18-1 12 3 14 2 22-4 2 12-5 6-17 2-22-4-28 0-20-2-16-5-14 3-16-4-18 2-3-2-2-4 0-4zM458 358l4 2 0 12-6-8zM471 400l2 0 0 4 2 2-1 4-4-6zM476 412l1 6 2 2 0 4 3 2-1 4 3 2 1 8-6-4-3-6z"/>
<path fill-rule="evenodd" fill="#f9a059" d="M64 168l24 1 14 2 24 1 10 5 8 2 42 0 5 1 3 6 4 3 16-2 7 1 4 4-4 6 3 3 18 6 3 3-1 5-6 0-8-4-6-1-8 1-10 6-16-1-6-4 6-8-1-2-11-4-6-1-4 2-4 8-1 1 2 6-3 6 2 3 18 7 10 6 32 11 12 8 14 4 6 1 16-4 28 7 22-4 20 2 16-3 16-7 18 7 22-3 28 8 6 0 0-3 26 1 4 4 3 9 2 12-1 10-4 5-11 7-1-4-4-3-8 7-4 2-10-4-5-14-4-4-19-4-20 0-18-6-10-1-26 1-20-5-22 4-12 4-10 1-6-4-4-6-4-2-6-1-17 3-37-12-35-24-11-9-18-10-9-3-12 0 5 8-25 22-7 2-24-20-8-4-10-2 0-49zM240 190l6 2 2 2-8 4-4 0-1-4zM302 190l6 0 6 1 6 7-1 4-11 5-8-2-7-9 0-2zM309 216l3-1 4 1 0 2-4 1zM452 314l4 0 4 2 1 8 5 5 2 1 4-2 6 1 3 3-1 7-2 1-4-2-6-5-6 10-2 1-6-4-1-4 1-10-4-6zM281 342l3 0 6 2-2 2-6 1-2-3zM305 344l9-1 7 1 2 2-2 2-7 2-9-4zM339 344l11-1 20 3 14-1 24 5 20-1 3 1 1 4-4 3-16 1-24-4-26 1-22-4-3-5z"/>
<path fill-rule="evenodd" fill="#f78b4f" d="M62 172l20 0 18 3 20 1 26 8 5 2-3 2-18 6 0 2 4 8 1 6-21 3 2 7-26 25-4-2-20-19-16-10-2-9-2-1 0-29zM305 196l3 0 1 2-3 0zM161 228l3-1 6 1 20 10 16 5 16 9 1 4-5 6-18-3-35-25zM239 262l5 0 2 2-3 2-5 1-1-3zM270 262l9 2 2 2-3 1-8-3zM376 262l6-1 12 2 22-1 26 7 6 1 2 4 22-1 3 3-6 6-11 5-4 10-4 3-2-1-4-5-4-8-4-2-26-6-18 2-12-6-10-4-1-2 1-2zM337 268l7 0 3 2-3 3-6 0-3-3z"/>
<path fill-rule="evenodd" fill="#f27447" d="M51 177l31-2 30 5 6 4 10 18 1 4-5 4-10 2-1 2 1 3-24 25-2 0-22-21-16-10-2-10-2-2 0-21zM176 238l0-1 28 8 5 3 1 4-4 4-6 0-18-12zM418 266l12 2 6 4 0 2-6 4-8-2-8-6 0-2z"/>
<path fill-rule="evenodd" fill="#ea5d3d" d="M53 178l33 0 20 4 17 16 2 4 0 4-3 3-11 3 1 2-24 26-26-25-12-9 0-4 3-2-7-6 0-12zM190 246l2-1 10 2 3 1 0 4-5 2z"/>
<path fill-rule="evenodd" fill="#dc3a2c" d="M55 180l37 1 8 2 6 3 5 6 9 7 3 3 0 4-5 3-8 2-20 23-4 1-32-33 2 0 2 2 2 0 0-3-8-3-3-4-1-4 0-5 3-3zM74 202l4 1 2 2 12-1z"/>
<path fill-rule="evenodd" fill="#c62127" d="M52 184l10-1 34 2 5 1 8 8 10 5 2 5-5 5-11-1-11 13-8 3-14-8-10-12 0-2 10-1 2 3 4 0 2 2 18-2-10-3-22-1-12-3-3-3-1-4z"/>
</g>
<polygon points="25.2,455.9 29.3,456.7 34.5,456.0 39.8,457.5 45.0,458.4 50.3,458.5 53.8,460.1 56.4,462.5 60.8,466.3 66.0,469.8 71.3,470.7 75.7,474.2 79.2,477.7 80.0,482.1 81.8,487.3 87.0,489.1 94.0,493.5 101.0,496.1 108.1,496.2 113.3,498.8 116.9,502.3 117.7,509.3 116.0,516.3 111.6,520.7 108.1,524.2 107.7,530.3 106.3,537.3 104.6,544.3 101.1,550.5 94.0,553.1 88.8,555.7 85.3,559.3 84.4,565.3 80.0,570.6 75.7,577.6 72.2,584.6 71.3,586.0 26.8,586.0 27.5,579.3 29.3,568.9 31.0,556.6 31.9,547.9 31.0,539.1 25.8,535.6 25.2,535.6" fill="#fff" stroke="#969696" stroke-width="1.2"/>
<polygon points="162.3,431.6 162.3,433.1 163.6,435.2 163.2,438.3 162.3,440.9 161.0,444.4 160.3,447.1 161.5,451.4 163.6,454.9 166.3,457.6 169.8,461.5 172.4,466.3 175.9,469.8 179.4,472.9 182.0,474.7 185.5,474.2 189.9,473.3 194.3,472.9 200.0,472.5 202.9,471.4 209.4,469.7 214.3,471.4 217.6,475.4 222.5,476.3 224.9,478.7 224.1,485.3 224.9,491.8 225.8,495.3 229.0,500.2 232.3,506.7 233.1,513.3 233.9,519.8 231.5,526.3 229.8,532.9 230.7,537.8 233.1,544.3 235.6,552.5 238.0,560.7 240.5,568.9 242.9,575.4 245.4,580.3 248.6,584.4 251.0,584.5 254.3,583.8 254.3,431.6" fill="#fff" stroke="#969696" stroke-width="1.2"/>
<polygon points="25.2,431.6 31.0,431.6 30.5,434.3 28.0,436.8 25.2,436.5" fill="#fff" stroke="#969696" stroke-width="1.2"/>
<polygon points="31.2,434.5 35.5,434.3 35.6,435.9 31.3,436.2" fill="#fff" stroke="#969696" stroke-width="1.2"/>
<g fill="#fff" stroke="#999" stroke-width="0.8"><circle cx="44.5" cy="436.8" r="0.9"/><circle cx="46.0" cy="439.8" r="0.9"/><circle cx="47.2" cy="442.8" r="0.9"/><circle cx="48.3" cy="445.8" r="0.9"/><circle cx="50.5" cy="448.8" r="0.9"/><circle cx="52.0" cy="452.8" r="0.9"/></g>
<path transform="translate(0.00 355.30) scale(.25)" d="M155 311l5-2m34 2l6-2m14 1l6 0m15-1l3 2m17-1l3 0m17 0l3 0m16-1l4 2m17 0l2-2m16 2l5-2m36 0l3 2m16-1l4 0m16 0l4 0m34 0l6 0m14 0l6 0m14 1l6-2m14 1l5 0m14-1l5 2m16-1l2 0m16 0l5 0m53-1l4 2m-297 124l3 4m19-1l-1-1m21-1l-1 2m20-2l0 2m-21 21l2 2m20 0l-2-2m21-1l0 4m18-2l3 0m19 0l-2 0m22 0l-2 0m21-1l0 2m18-1l2 0m18-2l1 4m19-3l0 2m20-1l-2 0m21 2l-1-4m19 2l2 0m19 1l-2-2m20 0l0 2m20 0l-1-2m21 0l-2 2m-113 22l-3-1m20 2l0-4m20 4l-1-4m20 1l0 2m21 0l-3-1m20-1l1 2m18-1l2 1m18 1l0-3m19 2l1-1m19 1l-1-2m21 2l-2-1m20 1l0-2m20 1l-2 0m22 2l-2-3m20 3l0-3m19 0l0 2m-364 24l-4-4m368 1l1 2m21-1l-4 1m-543 22l1 2m523-1l2-1m18 1l1-1m-19 23l-1-2m18 1l3 1m-310 22l0-2m19 3l1-3m18 1l2 1m18 1l0-3m17 2l4-1m17 1l1-1m20 0l-2 1m20 0l0-2m21 2l-3-1m20 0l1 1m20 0l-2-1m19 0l2 1m18-2l1 3m19-3l0 2m20-1l-2 0m21 1l-1-2m19 3l2-3m17 1l2 1m-349 23l2-4m-59 66l0 5m20-3l-2 2m22 0l-2-2m20 0l0 2m19-3l0 4m18-3l3 1m18 1l-1-2m18 1l4 0m17 1l0-2m20 0l-1 2m20-2l-1 2m19-1l2 0m18 1l0-2m21 1l-2 0m20-1l0 2m20-1l-2-1m20 1l1-1m20 1l-2 0m20-1l1 2m17-1l2 0m19 1l0-2m20 2l-2-3m19 3l2-2m-425 21l0 2m18-1l2 0m17-1l3 2m17-3l2 4m17-3l3 2m16-1l2 0m18 1l1-2m19 0l0 2m18-1l2 0m18 0l1 0m19-2l0 4m18-2l2 0m19 1l-1-2m19 1l2 0m19 0l-2 0m19-1l2 2m18-2l1 2m18-2l2 2m17 0l2-2m19 0l-1 2m22-1l-5 0m22-1l0 2m20-2l-2 2m-441 19l-3 2m22 0l-2-2m19 2l3-1m19 0l-3 1m22-1l-2 1m20-2l0 2m19 0l1-2m17 0l3 3m17-2l2 0m17-1l3 2m18 1l-1-4m20 3l0-2m19 2l0-2m20 3l-1-3m18 1l3 1m18-2l0 2m21-1l-3 0m20-1l1 2m20 0l-2-1m20 1l0-2m20 2l-2-1m22 1l-3-1m20 0l2 1m-425 21l-1 2m20 0l0-3m20 2l-2-1m22 0l-3 1m19-1l3 1m16 0l4-1m18 0l-1 1m19-1l2 1m16-1l4 1m17 2l1-4m19 1l-1 2m19 0l1-3m19 1l0 2m21-1l-3-1m21 0l-1 1m19 0l2-1m17 1l2-1m18 0l0 2m20-3l-1 4m21-3l-2 1m20-1l0 2m21-2l-2 1m21 0l-2-1m-779 20l-2 4m338-3l-1 2m21-1l-2 1m20-1l2 1m16-1l4 0m18-1l-1 2m19-2l1 2m20 0l-1-2m20 0l-1 2m19-1l2 1m17-1l2 1m18 1l1-4m19 1l-1 2m19 0l1-2m19 0l0 3m20 0l-1-4m20 3l-1-1m20-1l0 2m18 0l2-1m17-2l3 4m17-1l2-2m19 0l-2 2m20-2l0 2m21-2l-3 2m22 0l-2-1m20 1l0-2m-800 23l0-2m338 0l-3 3m22-2l-2 1m22-1l-2 1m21 0l-2-1m20-1l1 2m18 0l2-1m19 0l-2 1m21 0l-1-1m20 1l-1-2m21 2l-2-1m21 1l-2-1m22 1l-3-2m20 3l1-3m20 0l-2 3m19-1l2-1m17 0l3 0m18 2l0-3m19 0l0 2m21 0l-3-1m21 2l-1-3m21-1l-2 4m20-1l1-2m19 1l-1 1m19-1l1 1m20-2l-2 2m-800 20l2 0m316-2l-1 3m22-1l-3 0m21-1l1 2m17 0l4-3m18 4l-1-5m19 5l1-5m61 3l-7 0m41 2l2-5m21 1l-5 4m24-2l-5-1m43 1l-4-1m23-1l-4 4m24-2l-5-1m160 0l-6 2m24 0l-4-2m-796 22l-4-1m301-2l-4 5m22-1l-1-2m21 1l-1-1m20 0l0 2m20-3l0 4m21-3l-4 1m137 2l1-5m213 5l-3-5m-741 25l-1-2m297 0l1 2m19-1l2 0m18-1l1 2m20-1l-2-1m20-2l2 6m20-1l-4-5m43 1l-4 4m22-4l-1 4m76 0l2-5m267 2l4 2m-804 21l3-3m277 2l-2-1m22 0l-3 1m21 0l2-1m18 0l1 1m21-1l-4 1m236 1l-4-3m101 1l-5 2m59 1l2-5m36 3l4-1m-782 21l-2-1m259-1l-1 3m21-3l-2 3m20-2l2 1m20-2l-3 3m20-2l3 1m19 1l-1-3m21-1l-2 5m76-1l5-3m35 4l1-5m329 4l-3-3m-560 22l-1-1m19 1l2-1m20 2l-3-3m23 3l-3-3m21 3l0-2m20 0l0 2m98-4l-2 5m22-4l-4 3m273-2l-2 1m-505 18l2 1m20 0l-2-1m21 2l0-3m19 1l1 1m18 1l3-3m18 2l1-1m19 1l1-1m93 2l6-3m15 0l3 3m34-2l5 1m73-2l4 3m15-3l4 3m19-4l-2 5" stroke="#00f" stroke-width="4.6" stroke-linecap="round" fill="none" opacity=".8"/>
<path transform="translate(0.00 355.30) scale(.25)" d="M135 310l2 0m38-1l1 1m177 1l1-1m78 0l2 0m154-1l1 0m18 1l2 0m-495 20l7-1m13 0l6 1m13-2l8 3m12-3l8 3m11-1l9-1m11-1l9 3m12-1l7-1m12 0l8 1m12-1l7 1m14-1l5 1m14-1l6 1m14-1l6 1m13-1l7 1m14-1l6 1m13-1l6 1m14-1l7 1m12 0l8-1m13 1l6 0m13-1l7 1m14 0l4 0m14 0l8 0m12-1l6 1m12 0l9-1m12-1l4 2m15-1l5 1m14 0l7 0m12 0l6 0m13-1l9 1m-540 20l9 2m11-1l9 0m10-1l11 2m10-1l7-1m13-1l7 3m13-2l5 1m14 0l8 0m12 0l7 0m13-1l8 1m11 0l10-1m10 0l10 1m11 0l5 0m15 0l5 0m14-1l8 2m11-1l9 0m12 0l6 0m13 0l9 0m12 0l6 0m14 0l5 0m14-1l7 1m13-1l5 1m14 0l4 0m15-1l8 1m11-1l8 2m12-1l5 0m14 0l6 0m14-1l4 1m-523 20l24 4m-2-4l19 4m2-2l17 0m4-1l14 2m7-2l11 2m8-2l14 2m7-2l8 1m12-1l8 1m12 0l7 0m12-1l10 2m11-1l7 0m13-1l5 1m15-1l5 1m15-1l5 1m14-2l7 3m13-2l7 2m13-1l6 0m15-1l3 1m15 0l8-1m12 0l7 1m12 0l7 0m12-1l8 2m12-1l8 0m11-1l6 1m14 0l6 0m12-1l8 2m12-3l7 3m-526 18l27 4m-8-4l29 4m-10-5l33 7m-13-6l31 4m-10-5l28 7m-8-9l27 11m-6-10l24 10m-1-8l16 5m7-5l9 4m12-3l5 1m14 1l6-2m13 0l8 2m13-2l5 1m14 0l8 0m12 0l7 0m13-1l7 2m12-1l10 0m10-1l8 2m13-2l4 1m15-1l7 1m12-1l8 2m12-1l5 0m14-1l6 1m14 1l5-1m13-1l8 2m12-1l6 0m13 0l7 0m-462 20l16 4m0-6l25 8m-11-11l45 17m-27-18l51 21m-24-20l26 15m-1-10l14 4m9-4l4 2m16-1l2 0m18 1l3 0m17 0l1 0m19-1l1 0m18 0l3 1m13-1l16 1m4-1l15 1m4 0l16-1m4 1l16-1m5 1l14 0m4 0l16 0m4 0l15 0m4-1l15 2m4-2l16 1m3 0l16-2m3 1l17 1m4-2l14 3m5-2l14 2m-429 15l22 12m-2-12l21 12m0-11l18 10m4-9l13 8m9-6l6 2m92-1l10 0m10 0l9 0m11 0l9 0m10 0l10 0m10 1l11-2m9 1l7 0m11 0l11 0m9 1l10-1m9-1l10 2m10 0l9-2m11 2l7-2m12 2l8-1m10 0l10 1m10-1l10 0m-404 18l16 11m3-11l18 11m2-11l17 11m6-9l10 7m12-6l3 3m-47 17l16 10m3-11l18 13m3-11l14 8m5-11l16 15m16-10l-11 3m29 6l-7-17m28 11l-8-3m22-4l3 12m16 1l5-17m19 17l-5-17m23 18l-2-20m17 6l9 12m9-11l11 9m-244 16l2 3m14-5l13 10m6-11l14 12m3-8l21 3m-4-6l27 10m-9-11l34 13m-12-2l27-13m-4 14l20-16m1 5l16 10m27-3l6-5m6 5l23-7m4 7l5-4m10 1l16 0m4-1l15 3m3-1l17-2m4 1l14 0m5 0l14 1m6-1l13 1m5-1l15 1m4-2l16 2m5 0l12-1m7 0l13 0m6 0l13 0m6 0l14 1m5-1l15 0m3 0l17 1m3-1l16 0m-498 22l6 3m14-13l8 28m2-27l33 28m-18-26l48 23m-28-19l47 12m-25-11l39 10m-15-12l26 14m-6-10l25 4m3 1l4-5m14 8l8-14m14 4l1 6m12-2l16 0m4 1l15-2m4 1l15 0m4 0l16-1m3 2l17-2m2 1l17 0m4 0l13 0m6 0l14 0m5 1l15-2m4 1l15 0m4 0l16 0m4-1l13 1m5 0l17 0m4 0l13-1m6 2l14-2m-479 18l12 10m5-3l18-5m-10 2l53 1m-36-5l63 12m-35-9l36 4m-14 1l27-8m-2 5l16-2m2 5l19-8m-5-2l33 16m-2-10l0 0m15 1l14-1m5 1l15-1m3 1l17-2m4 0l14 3m5-3l15 3m4-1l15-1m4 1l15-1m5 1l14-1m4 0l17 1m3 0l15-1m5 0l13 1m6-1l15 1m4 0l15-1m4 0l15 1m5-1l14 1m-407 18l28 8m5-16l-2 26m20-29l3 35m21-22l-7 3m18 3l11-10m14 9l-2-6m-81 20l10 11m7-12l16 13m-1-12l27 10m-2-13l12 16m29-9l4 1m16 0l2-1m17 1l3-1m17 0l0 0m18 0l5 0m15 1l3-1m17 0l1 0m16 1l8-1m13 0l2 0m16 1l5-1m15 1l4-1m15-1l5 2m15 0l2-1m16 0l5 0m15 0l3 0m16 0l5 0m14-1l6 2m14-1l3 0m17 1l1-1m-443 14l0 18m17-15l7 10m10-8l11 7m9-5l8 1m12-1l6 2m14-1l5 0m14 0l5 0m14 1l5-1m15 0l4 0m16 0l1 0m17 0l5 0m15 1l2-1m17 0l5 0m13 1l8-1m12 0l5 0m15 0l4 0m15 0l4 0m16 1l2-1m17 0l3 0m16 0l4 0m15 0l4 0m15 0l5 0m15 1l3-1m17-1l2 1m-442 17l-3 11m21-9l0 4m16-2l5 2m14-1l4 0m15 0l6 0m13 1l6-1m14 1l4-1m15 1l5-1m14 0l6 1m14 0l4-1m15 0l5 0m15 0l3 0m16 0l4 1m16 0l3-1m15 1l5-1m14 1l8-1m12 0l3 0m16 1l5-1m14 1l5-1m15 0l5 1m14-1l4 0m15 1l5-1m15 0l2 0m18-1l2 1m-461 15l-6 17m24-13l-2 6m-34 11l-9 18m27-16l-6 14m24-10l0 1m-38 15l-5 17m24-15l-3 10m-17 10l-4 17m23-12l0 2m-19 17l-3 11m-13 9l-11 14m27-11l-2 6m-55 11l-8 15m28-14l-9 13m27-11l-5 8m143-3l-4-1m20-2l0 0m36 2l2 0m79 1l0 0m78-1l-1 0m20-1l0 1m16-2l1 1m22 2l-2-1m18 2l1-2m18-2l1 1m21 2l0 0m58 0l-1 0m-580 14l-6 13m28-14l-11 15m28-12l-4 7m137-5l3 2m21-3l-3 3m21 2l-1-2m21-2l-1 1m17 3l2-3m19-2l0 3m38 2l1-3m18 3l1-1m16-1l4 0m19 2l-1-3m18 2l1-1m20-2l0 0m17 2l1 0m17 2l5-4m15-1l4 3m20 0l-1 0m39 1l-1 0m16-1l4 0m20 1l-2-1m21-3l-2 3m-599 16l-5 10m28-13l-12 18m29-15l-7 10m26-7l-2 2m140 0l-2 0m59 1l-1 0m20-4l-2 4m17-3l4 3m36-2l0 0m19 2l1-1m21-3l-1 2m20 3l-1-2m18 3l3-6m14 1l8 4m13-5l3 4m17-3l1 1m19 7l1-14m21 5l-3 4m20 3l1-8m16 3l3 1m22 1l-5-2m40-4l0 9m-597 10l-10 16m30-16l-10 14m27-10l-3 4m121-5l-2 6m23-4l-3 2m19-4l1 5m18 1l0-2m23 0l-3 0m17 0l2 0m22-1l-2 1m22-3l-5 4m19 0l3-2m19 3l0-2m17-3l2 4m38-5l1 5m24-4l-12 5m26-8l0 13m17-10l3 4m41 4l-7-11m27 7l-8-2m39 0l5 1m35-5l4 9m19-6l-1 1m15 3l7-4m-641 16l-7 13m28-14l-10 15m28-13l-6 9m159-4l0 0m18 0l5-1m19-2l-1 3m41 0l-3 0m39 2l0-1m16-3l4 2m17 1l1-1m21-3l-1 3m16-1l5 1m19-2l-1 1m15 1l5-1m23 3l-11-5m28 3l-3 0m22 3l-4-5m23 1l-2 0m18-1l0 0m13 3l16-3m5 1l11 1m12-3l2 3m13-2l13 3m34-1l-1 0m-638 13l-10 15m30-14l-10 13m27-10l-2 4m141-2l-1 0m20 3l-2-3m20-2l0 3m21-1l-2 0m58-2l0 2m18 2l0 0m22-3l-1 1m20 0l0 0m18-2l0 2m17 1l1 0m19 1l1-1m16-2l7 3m15-4l1 3m22 3l-5-6m24-2l-5 9m23-2l-2-3m18 4l4-5m36 4l0-1m22-4l-3 3m16-1l7 1m21-2l-9 3m27 1l-5-4m-655 15l-9 13m29-14l-10 15m27-12l-3 6m161-5l-1 1m21 3l-1-1m19-4l-1 5m22 2l-4-6m58 4l0-1m43 0l-2-1m18-2l1 3m22-1l-3 0m75-3l3 5m21 1l-5-4m24 3l-3-2m23-2l-5 4m22-7l-2 12m19-12l3 11m15-6l2 0m20 6l0-13m16 13l7-13m13 5l4 4m24-2l-15 1m27 4l1-8" stroke="#00f" stroke-width="5.2" fill="none"/>
<path transform="translate(0.00 355.30) scale(.25)" d="M143 310l-6 3 0-6zm39 2l-7 1 2-6zm179-4l-6 5-2-6zm79 2l-6 3 0-6zm155 3l-7-1 3-5zm20-4l-6 4-1-6zm-487 20l-7 4 0-7zm19 1l-7 3 1-6zm20 3l-7 1 2-6zm21 0l-7 1 1-6zm20-4l-7 4 0-7zm20 4l-8 1 2-6zm18-4l-6 4-1-7zm20 1l-7 3 1-6zm20 1l-7 2 1-6zm18-1l-7 3 1-7zm21 1l-7 2 1-6zm19-1l-6 3 0-6zm21 0l-7 3 0-6zm19 1l-7 2 1-6zm20 0l-7 2 1-6zm20 1l-7 1 1-6zm21-3l-6 4-1-7zm18 1l-6 3 0-7zm20 0l-6 3 0-6zm18 0l-6 3 0-7zm22 0l-6 3 0-7zm19 1l-7 2 1-6zm20-2l-6 4 0-7zm16 4l-7 0 2-6zm21-2l-7 2 1-6zm20-1l-6 3 0-7zm19 0l-7 3 0-7zm21 1l-7 2 1-6zm-530 22l-7 2 1-7zm20-2l-7 3 0-6zm20 2l-7 2 1-6zm17-3l-6 4-1-7zm19 4l-7 1 3-6zm20-1l-7 1 1-6zm22-3l-7 4 0-7zm19 1l-7 3 0-6zm20 1l-7 2 1-6zm21-2l-6 4-1-7zm20 2l-7 3 1-7zm16-1l-6 3 0-6zm20 0l-7 3 1-6zm23 2l-7 2 1-7zm20-2l-7 3 1-6zm17 0l-6 3 0-6zm22 0l-6 3 0-6zm18 0l-6 3 0-6zm20 0l-7 3 0-6zm20 1l-6 2 0-6zm18 0l-7 2 2-6zm19-1l-7 3 0-6zm22 1l-7 2 1-6zm19 1l-7 2 1-7zm18-2l-7 3 0-6zm19 0l-6 3 0-6zm18 1l-7 2 1-6zm-494 24l-12 4 2-11zm15 0l-9 3 1-9zm17-3l-7 4 0-8zm18 2l-7 3 1-7zm18-1l-7 3 1-7zm21 0l-7 3 1-7zm16 0l-7 2 1-6zm19 0l-7 2 1-6zm19-1l-6 3 0-6zm23 2l-7 2 1-6zm17-2l-6 3 0-6zm18 1l-6 2 0-6zm20 1l-7 1 2-6zm21-1l-7 2 0-6zm20 2l-7 1 2-6zm20 0l-7 1 2-6zm20-3l-7 3 0-6zm17 2l-7 1 2-6zm23-3l-6 4-1-7zm19 2l-6 2 0-6zm19-2l-6 4 0-7zm20 4l-7 1 2-6zm20-4l-6 4-1-7zm18 2l-7 2 1-6zm19-1l-6 3 0-6zm21 2l-7 2 1-7zm18 1l-7 1 2-6zm-492 22l-14 4 2-12zm21 0l-13 5 1-13zm23 2l-14 4 2-12zm17-2l-13 5 2-13zm19 3l-14 3 3-12zm18 4l-15 1 5-12zm18-1l-14 1 4-11zm11-5l-9 1 3-7zm14-1l-7 1 2-6zm17-2l-7 2 1-7zm21-4l-6 5-1-7zm21 5l-8 1 2-6zm18-1l-7 2 1-7zm21-2l-6 3 0-6zm20 1l-7 2 1-6zm20 1l-7 2 1-6zm21-2l-6 3 0-6zm19 2l-7 2 1-6zm16-1l-7 2 2-6zm22 1l-7 2 1-7zm20 1l-7 1 2-6zm17-3l-6 3 0-6zm21 1l-7 3 1-7zm18-3l-6 5-1-6zm21 4l-7 2 1-6zm19-2l-7 3 0-6zm20 0l-7 3 0-6zm-445 26l-9 2 2-8zm29 3l-14 3 4-12zm34 7l-15 2 5-12zm24 4l-14 1 4-12zm1-3l-14-1 6-11zm9-11l-8 1 2-6zm12 0l-8-1 4-5zm18-3l-6 2 1-7zm21-3l-6 5-1-7zm18 1l-6 4 0-6zm20 2l-7 1 1-6zm21-1l-7 3 1-7zm30 1l-8 3 1-8zm19 0l-7 3 0-7zm21-2l-8 4 0-7zm19-1l-7 4 0-7zm19 1l-7 4 0-7zm20 1l-7 3 0-7zm19 0l-7 3 0-7zm19 2l-7 2 0-7zm20-1l-7 3 0-7zm20-3l-7 4-1-7zm20 3l-8 3 1-8zm17 1l-8 2 1-6zm19 0l-7 2 1-7zm-404 32l-13-1 6-10zm19 0l-13-1 6-10zm17-2l-11-1 5-8zm14-2l-8-1 4-6zm15-5l-7 0 3-6zm102-4l-6 3 0-6zm20 0l-7 3 0-6zm20 1l-7 3 0-7zm19-1l-6 3 0-6zm21-1l-6 4-1-7zm17 1l-7 3 0-6zm22 0l-7 3 0-6zm19-1l-7 4 0-6zm19 3l-7 2 1-6zm19-4l-6 4-1-6zm17 0l-5 5-2-7zm20 1l-6 4-1-7zm21 2l-7 3 1-6zm19-1l-6 4 0-7zm-387 34l-10-1 5-8zm23 1l-11-1 5-9zm18-1l-10-1 5-8zm13-3l-7-2 4-5zm16-4l-7-1 3-5zm-30 29l-10-1 5-7zm22 3l-11-2 6-9zm16-5l-9-1 4-6zm21 7l-11-4 7-7zm-8-13l5-4 2 6zm25-19l7 6-8 3zm17 13l7-1-2 6zm33 17l-5-6 6-1zm22-30l1 9-7-3zm9-1l6 7-8 2zm23-4l5 10-9 0zm30 34l-7-4 5-4zm21-3l-7-2 4-5zm-242 18l-7-2 4-5zm29 5l-9-1 4-7zm20 3l-9-3 5-6zm28-10l-11 4 1-10zm24 7l-14 2 4-12zm24 3l-14 1 5-12zm16-26l-9 12-5-12zm13-3l-6 12-7-9zm16 27l-10-1 4-8zm30-16l-3 6-4-5zm35-2l-9 9-3-11zm2 1l-2 7-4-5zm29 6l-7 4 0-8zm19 3l-8 2 2-7zm21-5l-7 5-2-8zm17 3l-7 3 0-7zm19 0l-7 3 0-7zm18 0l-6 3 0-7zm21 0l-7 3 0-7zm20 1l-8 3 1-7zm17-3l-7 4 0-6zm19 2l-6 3 0-7zm19-1l-6 3 0-6zm21 1l-7 3 0-7zm20-1l-7 3 0-6zm21 1l-8 3 0-7zm18-1l-7 4 0-8zm-494 29l-7-1 3-5zm20 23l-9-10 12-4zm42-3l-14-3 8-10zm32-6l-14 1 5-12zm20-9l-14 4 3-13zm13-1l-14 3 4-12zm10 5l-14-1 6-11zm20-11l-13 4 2-11zm-2-10l-1 7-5-4zm23-8l-1 8-7-3zm12 24l-4-6 6-1zm34-9l-7 3 0-7zm18-2l-6 4-1-7zm20 2l-7 3 0-7zm21-1l-8 4 0-8zm20-1l-8 5-1-8zm19 2l-8 4 0-8zm15 0l-6 3 0-6zm21 0l-7 3 0-7zm20-2l-7 4-1-7zm19 2l-7 4 0-8zm20 0l-8 4 1-8zm17 1l-7 3 0-7zm22-1l-7 4 0-8zm17-2l-6 4-1-6zm19 0l-6 4-1-6zm-467 33l-8-1 4-6zm26-15l-7 7-3-9zm47 6l-13 6 0-13zm26 9l-14 4 3-12zm1-5l-13 4 1-12zm14-13l-11 10-4-12zm9 6l-7 5-1-8zm22-6l-7 8-4-9zm31 23l-15 0 6-11zm-8-14l-6 3 0-7zm30-1l-7 4 0-7zm19 0l-6 4-1-7zm22-1l-7 4-1-7zm16 4l-7 2 1-7zm21 0l-8 2 1-7zm19-3l-7 4 0-7zm19 0l-7 4 0-7zm18 0l-6 3 0-6zm23 2l-8 3 0-8zm17-2l-7 4 0-7zm17 2l-7 2 1-6zm22-1l-8 3 1-7zm19-1l-7 4 0-7zm19 1l-7 3 0-7zm18 0l-6 3 0-6zm-373 30l-14 2 4-12zm-10 17l-5-12 12 1zm25 8l-7-12 12-1zm7-30l4-5 3 6zm40-13l-3 7-5-5zm5 1l5 5-6 2zm-64 42l-8-3 6-5zm26 2l-11-2 7-8zm30-3l-15 1 5-12zm4 6l-9-5 7-5zm33-16l-7 3 1-7zm19-1l-6 4-1-7zm19 0l-6 4-1-7zm18 1l-7 2 1-6zm23 0l-7 3 0-7zm17-2l-5 4-2-6zm18 3l-7 1 1-6zm24-2l-6 3 0-6zm16 1l-7 3 1-7zm20-1l-6 4 0-7zm20-1l-6 4-1-6zm19 4l-7 1 2-6zm18-4l-6 5-1-7zm20 1l-6 4 0-7zm19 1l-7 3 1-7zm21-1l-7 4 0-7zm19 3l-7 1 2-6zm18-3l-6 4-1-7zm18 0l-6 4-1-7zm-450 40l-4-8 8 0zm27-7l-6-4 5-3zm24-4l-8-1 4-5zm17-6l-6 3 0-7zm18 1l-7 2 2-7zm19-1l-7 2 1-6zm20-2l-6 4-1-6zm18 0l-6 4-1-6zm19 1l-6 3 0-6zm18 0l-7 3 0-6zm22 0l-7 3 0-6zm16-2l-5 5-2-6zm22 2l-6 3 0-6zm21-1l-6 4-1-7zm17 1l-6 3 0-6zm20-1l-6 4-1-6zm19 1l-7 3 0-6zm17-1l-5 4-2-6zm20 1l-6 3 0-6zm20 0l-6 3 0-6zm19 0l-6 3 0-6zm21-1l-6 4-1-6zm18 0l-6 4-1-6zm18 3l-7 1 2-6zm-453 32l-1-7 6 2zm23-5l-3-6 6 0zm27-3l-8 0 3-6zm19-4l-7 4 0-7zm20 0l-6 4 0-7zm20 0l-6 4-1-7zm17-1l-5 4-2-6zm21 1l-7 3 0-6zm19 1l-6 3 0-7zm18-2l-5 4-2-6zm21 1l-6 4-1-7zm17 1l-7 3 1-7zm21 1l-7 2 1-6zm18-3l-5 4-2-6zm21 1l-6 4-1-7zm21-1l-6 4-1-6zm16 1l-7 4 0-7zm20-1l-6 4-1-6zm19 1l-6 3 0-6zm20 2l-7 2 1-6zm18-2l-6 4 0-7zm20 0l-6 4 0-7zm17 1l-6 2 1-6zm20 2l-8 0 3-6zm-476 37l-1-9 8 2zm24-9l-2-7 7 2zm-47 31l0-11 9 5zm23-4l0-8 6 3zm25-9l-2-7 7 2zm-44 34l-1-10 8 3zm22-7l-1-7 6 2zm-21 28l-2-8 8 2zm23-11l-1-7 6 2zm-22 28l-1-7 6 1zm-27 24l1-9 7 5zm28-6l-1-7 6 2zm-65 27l0-9 7 4zm19-2l1-8 6 4zm23-4l1-7 5 3zm136-11l7-1-2 6zm27 7l-4-6 6-1zm43-6l-6 4-1-6zm68-2l7 1-4 5zm76 1l7-1-2 6zm19 3l6-5 1 7zm29 2l-7-1 4-5zm10-7l7 2-3 5zm27-1l0 7-6-4zm19 9l-6-4 5-3zm13-7l7 1-4 5zm58-1l7 3-5 4zm-586 38l1-8 6 3zm15 2l2-10 7 6zm26-7l1-7 6 4zm150-5l-7 0 3-6zm8 2l2-7 5 4zm23-11l4 5-6 2zm17 9l2-6 4 4zm26-10l0 8-6-4zm15 14l-2-7 6 1zm42-14l1 8-6-3zm18 2l2 7-7-1zm25 4l-6 4-1-7zm11-6l4 6-6 1zm25 2l-2 7-5-4zm15 9l-3-6 6 0zm25-5l-6 4-1-7zm20-4l-3 6-4-5zm18 10l-7-2 5-5zm9-7l7-1-2 6zm41-3l6 4-5 3zm29 5l-6 3 0-7zm7-4l7 1-4 5zm20 9l2-7 5 4zm-604 26l1-7 5 3zm14 8l2-11 8 5zm25-8l1-7 5 4zm23-5l2-7 5 4zm136-5l6-3 0 6zm59-4l7 2-4 5zm20 10l0-7 6 3zm30-2l-7-1 3-5zm36-1l-7-1 3-6zm19-6l-3 6-4-5zm13 8l-1-7 6 2zm21-11l4 6-7 1zm24-2l0 7-6-3zm25 12l-7 1 3-6zm14 2l-6-3 5-4zm17-2l-6-3 5-4zm18-19l3 7-7 0zm13 20l2-6 4 4zm25-15l3 7-7-1zm24 12l-7 1 3-6zm5-4l7-2-1 6zm47 12l-3-6 7 0zm-611 27l0-10 8 5zm19-2l2-9 6 5zm25-8l1-7 5 4zm121 2l-1-7 6 2zm16-6l4-5 3 6zm28 5l-5-5 6-2zm19-12l0 7-5-3zm11 4l7-3-1 7zm32 0l-6 4-1-7zm7 3l4-5 3 6zm18 3l3-6 4 5zm33-8l-5 6-3-7zm12-4l4 6-7 1zm23 14l-6-5 6-2zm37 0l-5-6 7-1zm5-2l5-6 2 6zm33 8l-4-6 7 0zm24-8l-7-2 5-5zm26-17l6 4-6 3zm16 9l7-2-2 7zm57 4l-7 2 1-6zm35 9l-6-5 6-2zm12-6l0-7 6 3zm31-10l-4 6-4-5zm-657 39l0-8 6 4zm16 2l2-9 7 4zm24-6l1-7 5 4zm169-10l-6 4-1-6zm23-1l-6 4-1-6zm9 8l-1-7 6 2zm34-8l7-2-2 7zm44-3l4 6-6 1zm27 8l-7 0 3-6zm16-8l-2 7-5-4zm13 11l0-7 6 2zm30-6l-7 3 1-7zm8 4l1-7 5 4zm31-6l-6 5-1-7zm-1-3l7-1-3 6zm25 3l7-1-1 6zm21-5l6 3-5 4zm19 9l4-6 3 6zm27 2l-7-4 6-4zm33-7l-7 5-1-8zm15 4l-7 3 1-7zm11 4l-7-3 6-4zm29-2l-7 1 1-6zm21-5l7-1-3 6zm-648 38l1-10 8 5zm20-3l2-8 6 4zm26-7l1-7 5 4zm138-4l5-6 3 6zm19-8l7 3-5 4zm23 12l-2-7 7 1zm15-4l5-6 2 6zm63 3l-2-7 6 1zm23-9l-2 7-5-4zm12 7l3-6 4 5zm19-1l4-6 4 6zm23 4l-2-7 6 1zm25-8l-5 5-3-6zm18-2l-2 6-5-4zm25 7l-8 1 3-6zm13 3l-6-4 6-3zm10-14l6 3-5 4zm21 17l0-7 5 3zm20-15l6 3-5 4zm28-1l-1 7-5-4zm34 2l3 6-7 0zm14 10l2-7 4 5zm33-3l-7 1 2-6zm0 1l5-5 2 6zm23-9l7 1-4 5zm-662 38l0-8 6 4zm18 2l1-10 7 5zm26-7l-1-7 6 3zm160-4l-1-7 6 2zm18-9l6 3-5 4zm21 12l-2-7 6 1zm15-16l7 4-6 3zm68 6l-4 6-3-6zm28 2l7-3 0 7zm27 7l-4-5 6-2zm11-6l6-4 1 7zm87 7l-5-5 5-3zm9-13l7 1-4 6zm20 2l7 0-2 6zm19 8l3-6 4 5zm24 8l-2-7 6 2zm25-1l-5-5 6-2zm22-12l-7 4 0-7zm13-13l3 6-6 0zm27 1l-1 7-6-3zm18 18l-7-2 4-5zm-3-4l7-4 1 7zm36-11l3 6-7 0z" fill="#00f"/>
<path d="M88.0 455.3L88.0 467.3" stroke="#00f" stroke-width="1.6"/>
<path d="M88.0 471.3L86.2 467.3L89.8 467.3Z" fill="#00f"/>
<path d="M33.6 454.1L45.7 460.1" stroke="#00f" stroke-width="1.6"/>
<path d="M49.7 462.1L44.8 461.9L46.6 458.3Z" fill="#00f"/>
<path d="M48.0 454.1L56.0 455.7M53.8 456.3L56.0 455.7L54.2 454.3M59.3 460.5L101.0 494.3M97.2 493.5L101.0 494.3L99.4 490.7M62.0 461.3L95.0 487.3M91.2 486.5L95.0 487.3L93.3 483.8M59.3 462.1L61.7 472.6M59.8 470.3L61.7 472.6L62.4 469.7M72.0 466.9L86.6 470.1M82.8 471.1L86.6 470.1L83.6 467.6M85.0 470.1L99.5 483.0M95.7 482.0L99.5 483.0L98.0 479.4M101.0 492.6L122.0 505.5M118.1 505.2L122.0 505.5L119.9 502.2M98.0 489.3L120.0 507.3M116.2 506.4L120.0 507.3L118.4 503.7M112.0 497.3L118.0 513.3M115.1 510.6L118.0 513.3L118.4 509.4" stroke="#1a1a1a" stroke-width="1.05" fill="none" stroke-linejoin="miter"/>
</g>
<rect x="25.25" y="431.55" width="229.05" height="154.45" fill="none" stroke="#262626" stroke-width="1.8"/>
<path d="M30.95,431.55v2.6M30.95,586.00v-2.6M67.16,431.55v2.6M67.16,586.00v-2.6M103.37,431.55v2.6M103.37,586.00v-2.6M139.58,431.55v2.6M139.58,586.00v-2.6M175.79,431.55v2.6M175.79,586.00v-2.6M212.00,431.55v2.6M212.00,586.00v-2.6M248.21,431.55v2.6M248.21,586.00v-2.6M25.25,459.56h2.6M254.30,459.56h-2.6M25.25,487.52h2.6M254.30,487.52h-2.6M25.25,515.48h2.6M254.30,515.48h-2.6M25.25,543.44h2.6M254.30,543.44h-2.6M25.25,571.40h2.6M254.30,571.40h-2.6" stroke="#262626" stroke-width="1.6" fill="none"/>
<text x="21.9" y="434.7" class="tk" text-anchor="end" textLength="23.0" lengthAdjust="spacingAndGlyphs">20<tspan class="dg" dy="-3.4">°</tspan><tspan dy="3.4">N</tspan></text>
<text x="21.9" y="462.7" class="tk" text-anchor="end" textLength="23.0" lengthAdjust="spacingAndGlyphs">10<tspan class="dg" dy="-3.4">°</tspan><tspan dy="3.4">N</tspan></text>
<text x="21.9" y="490.6" class="tk" text-anchor="end" textLength="17.3" lengthAdjust="spacingAndGlyphs">0<tspan class="dg" dy="-3.4">°</tspan><tspan dy="3.4">N</tspan></text>
<text x="21.9" y="518.6" class="tk" text-anchor="end" textLength="21.1" lengthAdjust="spacingAndGlyphs">10<tspan class="dg" dy="-3.4">°</tspan><tspan dy="3.4">S</tspan></text>
<text x="21.9" y="546.5" class="tk" text-anchor="end" textLength="21.1" lengthAdjust="spacingAndGlyphs">20<tspan class="dg" dy="-3.4">°</tspan><tspan dy="3.4">S</tspan></text>
<text x="21.9" y="574.5" class="tk" text-anchor="end" textLength="21.1" lengthAdjust="spacingAndGlyphs">30<tspan class="dg" dy="-3.4">°</tspan><tspan dy="3.4">S</tspan></text>
<path d="M170.0 445.7h29M193.4 442.8L199.1 445.7L193.4 448.6" stroke="#222" stroke-width="1.05" fill="none"/>
<path d="M219.6 445.7h16" stroke="#00f" stroke-width="1.2"/>
<path d="M233.9 443.9L240.1 445.7L233.9 447.5Z" fill="#00f"/>
<text x="173.7" y="456.1" class="lgk" textLength="33.5" lengthAdjust="spacingAndGlyphs">0.4 m s<tspan dy="-2.8" font-size="5.5">−1</tspan></text>
<text x="212.8" y="456.1" class="lgb" textLength="33.5" lengthAdjust="spacingAndGlyphs">0.1 m s<tspan dy="-2.8" font-size="5.5">−1</tspan></text>
<text x="102.7" y="425.8" class="pt" textLength="23.8" lengthAdjust="spacingAndGlyphs">Year</text>
<text x="131.8" y="425.8" class="pt" textLength="12.1" lengthAdjust="spacingAndGlyphs">21</text>
<path d="M146.5 421.9h8.8" stroke="#000" stroke-width="0.9"/>
<text x="158.0" y="425.8" class="pt" textLength="12.1" lengthAdjust="spacingAndGlyphs">30</text>
<text x="41.0" y="427.5" class="pl" text-anchor="middle">(<tspan font-weight="bold">c</tspan>)</text>
<clipPath id="clipd"><rect x="25.25" y="609.2" width="229.05" height="154.45"/></clipPath>
<g clip-path="url(#clipd)">
<rect x="23.25" y="607.2" width="233.05" height="158.45" fill="#e0f3f8"/>
<g transform="translate(0.00 532.95) scale(.5)">
<path fill-rule="evenodd" fill="#fffcc6" d="M46 148l468 0 0 318-468 0zM90 268l0 52 6 2 8 10 0 88 18 2 12 9 2-2 0-3-6-20-11-12-1-4 2-2 8 4 2 9 0-26-2-1 2-8 8-8 8-4 4 0 6-4 4 0 2-2 0-2 6-8 0-4 2-2 0-8 2-2-12 0-2-2-10-2-10-8-8-4-4 0-6-6 0-4-2-2 0-20-5 4-1 2-8-8-4-2-8 0zM154 237l-1 1 14 20 15 11 25 11-7 2-2-2-10-2-8-6-2 0-1 2 2 6 13 12 6 12 4 1 10-3 9-4 4-4 0-4-2-2-13-6 6 0 8 4 9 8 1 4 6-1 4-3 1-4-3-3-16-9-12-5-14-9-14-5-24-18zM158 434l-9 12-1 6-5 8-4 2 2 3 3 1 5-4 2-10 9-8zM166 424l-2 4 4-4zM170 412l-2 12 8-12-2-1z"/>
<path fill-rule="evenodd" fill="#fee9a6" d="M46 148l405 0 1 4 6 2 4 0 6-6 46 0 0 318-363 1 5-13 7-8 2-12 7-8 8-12 4-10 16-8 13-14-3-5-10 15-4-1-6 4-4 0-6 4-3-1 11-14 1-6-2-6-13-18 3-36-11-6 4 0 9 2 5 0 39-12 9-4 2 2 4 0 7-4 2-6-5-5-40-23-16-5-24-19-12-4-2 0 11 12-1 4-14 1-22 12-6 1-26-8 0 2 0 72 10 12 4 14-1 46-4 18 17 2 5 2 12 24 4 12-2 2 3 4-92 0zM56 390l0 4 4 7 3-5-1-5-4-2zM126 223l2 4 11 1zM370 150l-5 2 5 2 8-2-4-2zM458 193l-1 1 11 8 0-9zM58 421l-1 3 1 3zM160 252l2 2-2 2-1-2zM162 256l14 10-4 2-2-3-4 1-5-6zM186 274l0-1 12 5-4 1-2-2-4 1zM125 276l3-1 8 1 12 5 6 9 3 10-1 4-8 0-12-6-10-11-2-7zM168 414l1 4-2 4-8 6z"/>
<path fill-rule="evenodd" fill="#fdd891" d="M46 148l48 0 2 6 8-2 5-4 78 0 22 10 15 2 19-2 2-2-8-8 76 0 3 5 10 1 29 26 22 12 9 1 26-3 24 1 16 3 16 10 2-14 22-28 12-8 10 2 0 310-125 0-2-4-3-1-10 5-219 0 11-16 2-16 8-7 11-19 19-10 11-14-2-10 4-18-3-7 0 5-3 2 0 6-2 2 0 8-3 5-7-17-17-18-1-8 1-14 6-4 16-6 36-9 5-5 2-6-1-4-4-2-28-16-10-6-22-8-26-19-24-13-16-4 4 5 2 0 4 4 4 2 8 0 4 2 10 12-34 2-20 7-10 0 0 78 0 5 8 10 4 11 0 29-6-1-18 0-14 3-8-5-5 8 3 10-4 8 3 8-2 10 2 8-2 12-5 9zM166 154l-5 2 7 1 5-3zM280 414l-1 2 3 3 10-3-1-2-5 0zM288 156l-2 2 6 5 7-1 4-4-7-2zM356 396l-7 4 8 3 8-3 1-2-3-2zM218 336l-2 2 0 7 4-9zM236 408l-3 2-1 4 2 3 4 2 9-2 5-5 0-2-4-2zM392 149l15-1-5 4zM434 148l9 0 0 4-8 0zM99 422l13 0 4 0 2 2 7 18 3 18 3 2 2 4-72 0 3-14 4-8zM58 430l2 8-4 5 0-3 2-2zM46 460l0-1 3 7-3 0z"/>
<path fill-rule="evenodd" fill="#fdc97e" d="M46 150l12 2 1 6 2 2 15 4 58-3 20 2 18-2 16-4 16 6 30 1 10 4 10-2 8-7 8 0 6 3 8 8 4 2 14-2 14 1 8-3 14 6 36 19 10 1 36-2 26 2 4 0 18 11 2-12 12-11 12-9 20-7 0 205-5 1 0 6 1 4 4 0 0 7-5 1 0 2 1 6 4 1 0 15-4 0-1 4 1 5 4 0 0 43-55 0 7-12 1-4-2-2-17-3-8-7-6 0-8 2-1-2 1-4-2-6-12-3-12-7-16 1-22 12-6 0-6-2-1-3 0-6-3-4 1-4 7-4 16 0 9-6 0-4-1-4-8-2-12-1-12 0-1-1 1-6-6-3-12-2-16 1-10-3-4 3-4 8-12 4-28 1-9-5-19 1-2-1-5-12 4-8 1-10-3-10 3-16-2 0-7 6-1 5-10-23 0-4 7-4 24-3 1-3 10-5 5-7-1-8-4-3-28-17-8-7-24-6-26-19-22-12-18-6-4 1 6 7 2 0 8 6 8 0 4 2 4 5-18-3-8 0-8 3-16 10-8 3-1 12 0 88-3 4-28 9-6-2-2 1-2 8 1 14-2 5zM406 392l-6 8-7 6 0 2 9 5 16-3 3-4-5-11-4-3zM444 384l-3 2 0 2 3 2 4-1 0-3zM450 402l-10 6 2 6-2 6 4 4 10 3 2 0 3-5-7-10 2-10zM494 457l0 3 4 2 8-4zM456 432l-4 2 4 0zM261 148l13 0-6 3zM59 368l1-1 4 5-2 7zM322 390l16 3 2 1-8 4-6-4zM221 394l5-1 20 1 4 1 3 3-1 3-2 1-20 3-4 5-2 9-6 5 11 8-10 6 10 6 0 10 3 4 10 2 16-6 2-2-7-10-9-2-13-8 9-4 14-2 12 4-3 6 1 4 11 10 0 2-8 4 1 3 40-2 12 4 2 1-1 5-139-1 3-6-12-18-1-6 6-3 22-2 12-5 2-2-10-5-8 0-8 2 0-1 5-7 21-9zM46 396l0-1 3 3 0 2-3 3zM284 402l8 0 5 4-5 3-10-3-1-2zM259 406l5-1 12 1-9 8-3 8-8 2-2-4 8-6zM321 406l7 2 6 8-1 8 5 6-6 6 0 4 2 3 16 1 3 2-4 12-9 5-8 1-7-4 6-9-1-4-17-3-7-2-1-2 11-6 8-10-1-2-12-6-1-2 3-4zM46 416l3 2-3 5zM103 422l5 1 4 4 3 11 1 22 8 2 1 4-41 0-14-4 16-2 0-12 2-6 12-18zM382 426l6-1 6 2 5 3 1 4-6 3-6-1-6-6zM397 450l37 4 5 2 0 2-2 8-19 0-4-2-10-1-8-9z"/>
<path fill-rule="evenodd" fill="#fcb565" d="M46 158l11 6 17 3 22-2 30 4 14-3 32 0 18 6 28-4 11 1 11 6 18-3 14 1 16 4 18-2 36 6 28 12 12 3 61-2 25 14 2-4 0-10 14-7 18-3 6 0 6 2 0 36-4 0 0 4 0 4 4 0 0 60-4 1 0 3 0 4 4-1 0 50-4 0-2 9-12 1-3 1-3 10 1 20 11 48-2 10-6 7-2-1-4 5-4 2-6 0-5-3-2-8-8-8 3-8-2-12-5-8 2-14-7-14-8-5-6-1-14 8-5-2-5-5-4-1-6 2-8 4-12 3-23-3 0-2 13-4 26 0 2-2 0-2-10-10-1-2 3-3 10-1-28 1-2 1 2 4 0 2-8 5-4 1-4-1-8-11-1-6 2-8-2-2-5-1-7 1-8 8 0 2 5 6 0 2-4 3-14-4-16 3-10-5-20 3-14-5-18 2-14-6-2-5 3-22-1-2 9-5 3 1 10 8 12 4 6 7 18 6 17-1-7-8-12-9-16 2-4-1-1-4 1-6-17-8-1-2 9-8-1-16-28-18-3-4 1-4 15-2 2-2-3-4-6-2-6-1-18 1-12 4-8 0-6-3-24-17-20-11-18-6-4 0 0 1 10 11-10 4-18 13-9 4-1 90-8 5-30 6-2 7-2 2 0-87 2 0 1-5-1-2-2 0 1-25 1-1 1-4-1-2-2 0zM304 274l-12 2-16-1-3 3-3 8 12 7 16 1 5-4 0-6 1-1 11-5 0-2-3-1zM314 232l-2 4 0 5 6 0 7-3-5-5zM328 282l-2 2 2 4 4-1 3-3-3-2zM358 236l1 4 9 5 8-1 4-6 1-2-3 0-2 2-10-1-2 3-4-4zM412 230l-2 2-4 0 0 2 6 0 4-4zM424 320l-3 2 11 7 4-1 2-4-2-4-4-1zM254 344l0 2 2 1 6-3-2-1zM272 298l-7 4 6 8-1 6 10 2 6 4 12-4 18 3 40 3 9-2-11-5-2-5-4-2-13-2-15-4-28-1-12-6zM378 324l4 2 3-2zM430 356l-19 2 11 9 16 1 5-2 1-4-3-4-5-1zM510 358l4 1 0 10-4-1-1-2 0-6zM272 374l8 1 4 2 1 1-9 5-8 0 0-5zM431 396l5 0 5 2-3 3-6 0-3-3zM510 404l4 2-4 2zM511 436l3-1 0 9-4-2zM220 462l4 0 10 4-16 0zM282 464l8 0 5 2-16 0z"/>
<path fill-rule="evenodd" fill="#f9a059" d="M90 168l10 0 30 8 38-5 18 5 32-1 20 4 18-4 8 0 28 6 16-1 12 4 2 3 16 3 3 4-6 12-9-8-2-1-1 1 1 4 7 8-1 4-14 10-16 8-2 6 1 4 13 9 34-7 22 6 22-4 16 0 14-4 6 2 6 6 6 1 9-5-1-5 24-10 4 3 6 8 4 3 24 1 2-4 4 0 0 12-4 0-2-2-22 1-2 1-1 4 7 52 2 6 4 3 12 0 2 4 4 0 0 19-6-2-14 1-4 3-2 6-1 38 5 20 3 24-2 8-5 4 0 8-4 4-6 0-9-16 1-12-2-8-6-10 6-11 5 1-9-6-6-10-7-8-2-4 2-6-1-4-8-7-40-3-16-4-16 1-4-1-10-7-6-1-20 2-10-5-22-4-3-3-2-4 3-4 4 0 88 9 8-1 6-4 4 0 10 2 8 6 11 1 5-2 3-3-1-10-2-6-8-1-14 3-18 0-14 2-20-4-13-12 1-10 9-6 7-10-2-1-22 2-34-9-20 3-3-1-5-3-4-1-16 2-1 10-5 2-4-1-16-13 0-2 6-4 2-4-6-14 2-10-1-2-21-5-18 1-2 2 0 2 4 6 20 0 3 2-1 2-6 3-6 0-12-6-4 3-4 7-6 2-6-2-20-14-24-13-16-6-7 0 5 10-10 6-16 14-8 2-20-16-10-3-10-1 0-15 3-1-3 0 0-40 10-1 20 1zM244 221l1 5 3 4 3 8 4 4 11 3 7-5-1-4-6-6-16-4zM382 272l-5 2 2 2 5 5 4 1 18-5 15-1 3-2-6-3-16 3zM334 230l10-1 4 1 0 2-4 3-6 0-4-3zM46 250l2 1 2 3 0 4-4 2zM46 316l3 2-3 3z"/>
<path fill-rule="evenodd" fill="#f78b4f" d="M54 172l42-1 28 8 26 0 3 1-3 4-11 8 1 4-1 6 2 4 7 6 14 1 22 7 10 12-1 10-5 4-4 0-42-26-24-7-4 0 0 1 4 7-12 8-14 14-2 1-4 0-22-20-14-8-2-14-2-2 0-25zM256 178l8 0 11 2 33 12 2 2 0 6 8 9 2 5-6 6-6 2-4 0-12-6-14 8-8-1-8-5-2-4 12-5 16-1 4-8-1-2-5-2-20-2-6 4-6 10-4 2-10 1-10-4-8 0-6 1-5 10-17 1-4-3 1-4 17-18 10-2 8-6 18-2zM169 181l29-1 4 1 2 3-4 5-6 4-26-2-1-1-1-2zM46 218l2 0 0 3-2 1zM510 246l4 0 0 4-4 0zM252 248l7 0 9 5 14 0 4 1-6 5-9 1-7-3-10-1-2-4zM348 256l17 2 3 2 0 4-4 2-4-1-13-7zM406 256l42 2 24-3 4 2 2 4 7 29 2 48-4 38-3 2-4 0-10-4 0 4 2 2 0 8-4-2-9-10-1-14-12-11-20 0-34-7-16 0-14-7-24-1-22-6 2-2 2 0 24 1 82 9 16-1 6-2 3-6-1-13-4-4-6-4-10 0-16 4-16-2-14 3-6-1-5-4 1-12 14-8 22-7 24 1 6-2 1-2-2-4-5-5-4-2-10-2-14 2-5-3-1-4zM464 313l-2 5 4 15 2-15-3-2zM510 328l4 0 0 8-4-1zM468 406l2-1 4 1 4 6-1 16 5 6 1 4-3 6-4-1-2-5 2-12-10-14z"/>
<path fill-rule="evenodd" fill="#f27447" d="M60 174l38 0 26 9 10 1 2 0-6 4-1 4 7 14 7 8-5 1-18-3-8 0 4 7-12 9-14 14-2 0-26-23-12-8-1-9 3-2-6-4 0-18zM233 192l13-1 4 2 1 3-3 4-4 2-13-2-5-2zM148 218l10 0 18 6 14 8 1 4-1 4-4 4-4-1zM468 266l6-1 4 4 5 17 0 16-5 6-12 7-2-11-7 14 5 10 0 10 4-2 2-4 10 5 4 3 1 10-3 9-6 2-14-6-2 5-16-12-18 1-11-5 2-2 25-1 6-3 4-6 0-16-6-7-8-6-8 0-22 5-18-6-3-4 1-4 7-6 11-4 12 0 16 2 6-1 6-5 1-8 1-2 2 0 2 3zM372 338l4-1 6 1-6 3zM393 340l7 0 5 0 1 2zM459 370l3-1 1 3 2 2 0 6-6-4zM472 410l2 1 0 3-3-2z"/>
<path fill-rule="evenodd" fill="#ea5d3d" d="M62 176l32 1 16 4 12 7 7 10 5 12-22 1 0 1 2 4-12 10-12 14-4 0-28-28-8-6 0-4 8-2-8-3-4-4 0-12 6-3zM58 201l0 1 3 1-1-2zM174 232l2-1 10 3 2 4-4 2-7-4zM472 274l4 0 2 3 2 9-1 8-15 8-2-2-6 10-4 2-10-12-2-8 10-8zM410 286l16 2 3 2 2 4-7 6-14 3-8-1-5-4-2-4 3-4zM452 338l4-1 5 5 0 6-3 6-3 0-7-8 0-4z"/>
<path fill-rule="evenodd" fill="#dc3a2c" d="M61 178l31 1 14 3 8 4 11 10 4 6 0 6-19 2 2 4-22 22-4 1-32-35 6 2 2-3 2-1-12-3-4-7-1-4 2-4 3-2zM80 203l0 2 10-1zM451 288l5 1 3 3 1 4-4 5-4 3-4-2-3-6 1-4zM406 290l12 0 5 2 0 2-5 4-12 1-3-5zM456 342l3 4-3 4-2-1-1-3 0-2z"/>
<path fill-rule="evenodd" fill="#c62127" d="M59 180l13-1 20 2 12 2 19 13 3 4 0 7-10 2-10-1 0 1 2 0 2 4-24 19-12-10-13-18 1-2 10-2-16-4-6-4-1-4 1-4zM74 201l0 2 4 0 2 2 17-1zM451 294l3 0 1 2-2 2-2-2z"/>
</g>
<polygon points="25.2,633.6 29.3,634.4 34.5,633.7 39.8,635.2 45.0,636.1 50.3,636.2 53.8,637.8 56.4,640.2 60.8,644.0 66.0,647.5 71.3,648.4 75.7,651.9 79.2,655.4 80.0,659.8 81.8,665.0 87.0,666.8 94.0,671.2 101.0,673.8 108.1,673.9 113.3,676.5 116.9,680.0 117.7,687.0 116.0,694.0 111.6,698.4 108.1,701.9 107.7,708.0 106.3,715.0 104.6,722.0 101.1,728.2 94.0,730.8 88.8,733.4 85.3,737.0 84.4,743.0 80.0,748.2 75.7,755.2 72.2,762.2 71.3,763.7 26.8,763.7 27.5,757.0 29.3,746.6 31.0,734.2 31.9,725.6 31.0,716.8 25.8,713.2 25.2,713.2" fill="#fff" stroke="#969696" stroke-width="1.2"/>
<polygon points="162.3,609.2 162.3,610.7 163.6,612.9 163.2,616.0 162.3,618.6 161.0,622.1 160.3,624.8 161.5,629.1 163.6,632.6 166.3,635.2 169.8,639.2 172.4,644.0 175.9,647.5 179.4,650.6 182.0,652.4 185.5,651.9 189.9,651.0 194.3,650.6 200.0,650.2 202.9,649.1 209.4,647.4 214.3,649.1 217.6,653.1 222.5,654.0 224.9,656.4 224.1,663.0 224.9,669.5 225.8,673.0 229.0,677.9 232.3,684.4 233.1,691.0 233.9,697.5 231.5,704.0 229.8,710.6 230.7,715.5 233.1,722.0 235.6,730.2 238.0,738.4 240.5,746.6 242.9,753.1 245.4,758.0 248.6,762.1 251.0,762.2 254.3,761.5 254.3,609.2" fill="#fff" stroke="#969696" stroke-width="1.2"/>
<polygon points="25.2,609.2 31.0,609.2 30.5,612.0 28.0,614.5 25.2,614.2" fill="#fff" stroke="#969696" stroke-width="1.2"/>
<polygon points="31.2,612.2 35.5,612.0 35.6,613.6 31.3,613.9" fill="#fff" stroke="#969696" stroke-width="1.2"/>
<g fill="#fff" stroke="#999" stroke-width="0.8"><circle cx="44.5" cy="614.5" r="0.9"/><circle cx="46.0" cy="617.5" r="0.9"/><circle cx="47.2" cy="620.5" r="0.9"/><circle cx="48.3" cy="623.5" r="0.9"/><circle cx="50.5" cy="626.5" r="0.9"/><circle cx="52.0" cy="630.5" r="0.9"/></g>
<path transform="translate(0.00 532.95) scale(.25)" d="M155 308l5 4m14-2l6 0m54 0l6 0m33 2l6-4m15 2l4 0m17 0l2 0m75 1l6-2m15 1l4 0m55 0l5 0m34 0l5 0m34 1l4-2m14 1l6 0m53 0l4 0m-298 126l5 2m17 0l1-2m19 0l1 2m16-1l6 0m-24 22l2 2m17-2l4 2m17-1l2 0m20-1l-3 2m22-2l-1 2m20 0l1-2m18 0l2 2m19-1l-2 0m20 1l1-2m19 0l-1 2m19-1l2 0m17 0l2 0m21 0l-4 0m20 1l2-2m19 2l-2-2m21 0l-1 2m21 0l-3-2m-113 23l-2 1m22-2l-3 3m20-1l2-1m19 2l-2-3m19 3l3-3m17 0l1 2m19-2l-1 3m19-2l2 1m19 0l-2-1m20 0l1 1m19 0l0-2m20 1l-2 1m19-2l3 3m16-3l4 2m17 0l0-2m21 2l-3-1m2 25l-1-3m19 1l2 0m-546 24l2 0m40 1l-3-3m487 3l-1-2m21 0l-2 1m-17 21l-3 1m19-1l3 1m-309 22l-2-1m22-1l-3 2m20 1l2-3m19 1l-2 1m20-3l1 4m17-2l3 1m19-1l-2 1m21-2l-2 3m19-2l2 1m19 0l-1-1m20 2l0-4m18 2l2 1m18 0l1-2m17 1l4 1m17 0l0-2m19 3l1-3m18 2l2-1m17 1l2-1m-329 23l0-2m20 2l-1-2m19 2l2-1m17 0l2 1m19 0l-2-1m20 2l1-4m20 2l-2 1m20 1l0-3m18 1l2 1m18-1l1 1m20 0l-2-1m21 1l-1-1m19 1l1-1m18 0l2 1m17-1l2 1m19-2l-1 3m19-1l1-2m17 1l4 1m17 0l0-2m-367 23l2 0m18 1l0-2m19 3l1-4m20 2l-2 0m18 1l4-2m16 1l2 0m17 1l3-2m16-1l3 4m18-3l1 2m17-1l3 0m16 1l3-2m17 0l2 2m17-1l3 0m18 0l-1 0m19 1l2-2m18 0l0 2m19 0l1-2m16 0l5 2m16-1l2 0m17 1l3-2m-23 24l4-1m16 1l2-1m-424 23l-2 0m425 1l0-2m-423 21l-2 2m20 0l0-2m20 0l-1 2m21-1l-2 0m21 1l-1-2m18 1l2 0m19 1l-1-2m19 2l2-2m19 2l-2-2m21 0l-1 2m20-3l0 4m19-1l0-2m20 2l-2-2m21 0l0 2m18 0l2-2m17 1l2 0m18-2l1 4m20-3l-2 2m19-1l3 0m18-1l-1 2m18-1l3 0m16 0l4 0m17 1l1-2m-444 19l-1 6m21-4l-2 2m21-2l-1 2m20 0l-1-1m19 0l2 1m17 0l2-1m18-1l1 2m19-1l-1 1m21 0l-2-2m20 2l1-1m19 0l-1 1m18 0l3-1m19-1l-2 2m20 0l1-2m19 2l0-2m18 3l2-4m19 2l-2 0m20 0l1 0m18 1l1-2m18 2l2-1m18-1l1 2m18 0l1-1m20 0l-2 1m-425 22l2-1m18 2l2-3m19 1l-2 1m21-1l-1 1m20-1l0 2m20 0l-2-3m20 2l1-1m19 2l0-2m20 0l-2 1m21-1l-2 1m22-1l-3 1m22 1l-3-3m21 0l0 3m19-2l0 2m20-3l0 3m19-2l0 2m19 0l0-2m19 1l1-1m20 0l-2 1m19-1l2 1m18-1l1 2m18-1l2-1m17 0l2 1m-784 22l3-2m356 0l-1 2m20 0l0-2m18 3l3-3m17 2l1-1m19-1l-1 2m20-2l0 2m21-1l-3 1m20-1l2 0m18 2l0-4m20 2l-2 1m21 0l-1-2m19 3l2-3m19 2l-1-2m18 1l2 1m19-2l0 2m20-2l-2 2m19 0l2-2m19 0l-1 3m19-1l2-1m17 0l2 1m19-2l-1 2m20 0l-1-2m20 2l0-2m20 2l-2-2m-798 21l-2 2m336-2l3 3m18-3l0 3m18-1l4-1m17-1l1 3m19-2l-1 1m21 0l-2-1m20 1l0-2m21 0l-3 2m20-2l1 3m19-1l-1-1m19 1l2-1m19 0l-1 1m21 0l-2-1m18 1l4-1m18 1l-2-1m21 1l-1-1m19 1l2-1m19 0l-2 0m20 1l1-1m19-1l0 2m18 0l2-1m20 1l-3-1m20 2l1-3m18 2l2-1m18-1l1 2m-802 20l2 0m335-1l1 1m20-1l-1 2m21-4l-2 5m41-1l-3-3m24 3l-6-2m20 2l5-3m16 0l1 4m18 0l1-4m22 2l-6 0m22-1l0 2m20-3l-1 3m18 0l4-2m20 3l-6-4m21 0l2 3m37-3l2 4m37 0l1-5m40 1l-4 3m22-4l-1 6m40-1l-2-4m20 0l0 4m-801 18l2 1m314 0l3-1m19 1l-1-1m22 3l-3-5m20 2l2 2m36 0l3-3m18 4l0-5m173 4l0-3m18 0l3 3m-628 21l0-2m297 0l-1 2m20 0l1-2m21 1l-3-1m21 0l1 2m228-1l6-1m15 3l2-4m172 1l2 1m20-1l-4 1m-799 21l2 0m278-2l-4 3m21-2l1 2m19-3l1 3m20-2l-2 1m23 0l-3-1m100 1l-4-1m115 0l6 1m15-2l2 4m152-1l3-3m38 1l-2 1m57-1l3 2m-841 19l2-1m276 0l0 2m20-2l0 2m20-1l-1-1m21 1l-2-1m22 1l-2-1m59-2l1 5m22-4l-6 3m290-1l4-1m-467 19l-2 3m21-3l0 3m20-3l-1 4m21-2l-1-1m20 0l1 1m20-1l-1 1m19 2l2-4m232 1l-3 1m135 1l3-3m37 3l0-3m37 2l3-1m-563 18l-1 3m19-1l2-1m20 1l-2-1m20-1l1 2m20 0l-2-2m21 2l0-2m22 3l-4-3m77 1l5 1m14-3l4 4m95-4l-1 5m21 0l-2-5m20 1l1 3m152-2l3 1m36 0l2-1" stroke="#00f" stroke-width="4.6" stroke-linecap="round" fill="none" opacity=".8"/>
<path transform="translate(0.00 532.95) scale(.25)" d="M135 311l2-1m58-1l0 0m20 2l1-1m38 1l2-1m77 0l1 0m19 1l2-1m18 0l1 0m58 0l3 0m17-1l1 0m39 1l0 0m39 1l0 0m57-1l1 0m18 0l2 0m-496 20l10-1m10 1l9-1m12 1l6-1m13 1l8-1m12 1l6-1m14 0l7 1m13 0l6-1m13 1l8-1m11 2l11-3m9 2l11-1m9 1l9-1m12 1l7 0m12 0l9-1m10 1l10-1m11 1l6-1m13 2l9-2m11 1l10-1m10 0l8 1m11 0l11-1m10 1l7-1m11 2l11-3m9 2l10-1m9 1l10-1m11 1l5 0m12 0l11-1m9 1l9-1m9 1l13-1m7 2l11-3m-542 23l13 0m8 0l10-1m9 1l13-1m9 1l5 0m14-1l8 1m11 0l9-1m11 1l9-1m11 1l9 0m11 0l8 0m12 0l7 0m12 1l10-3m11 2l6 0m14 0l5 0m14 0l8 0m12 1l8-2m11 1l10-1m11 2l6-2m13 1l8-1m12 2l8-2m11 1l11-1m8 2l10-2m10 1l9-1m10 0l9 2m12 0l5-2m13 1l8-1m11 1l8 0m12 0l8 0m-527 21l27 1m-5-1l22 2m-1-2l20 1m1 0l16 0m4 0l16 0m5-1l12 1m9-1l10 1m9 0l11-1m10 2l7-2m13 1l6-1m13 1l9-1m11 1l8-1m12 1l9 0m11 1l7-2m12 2l10-3m9 2l12 0m9 1l9-2m10 2l11-3m9 2l11 0m9 1l10-2m9 1l10-1m10 1l10-1m9 1l9-1m11 1l8 0m11 0l8 0m11 0l9-1m10 1l10-1m-530 21l33 3m-15-4l39 5m-19-5l38 5m-18-5l37 5m-15-5l31 5m-12-7l34 10m-14-10l32 9m-7-6l19 3m3-1l14-2m7 1l9 0m11 1l9-2m10 2l12-2m8 1l12 0m9 0l9 0m10 0l11 0m9 0l9 0m11 0l9 0m11 0l9 0m10 0l10 0m10 1l10-2m9 2l11-2m9 2l9-2m10 2l10-2m10 2l8-1m10 0l11 0m9 0l10 0m9 0l9 0m-467 20l25 4m-8-6l35 9m-21-12l55 18m-37-19l61 22m-33-20l33 13m-9-9l21 4m2-3l14 2m7-1l9-1m11 2l10-3m10 2l9-1m11 1l8 0m11-1l9 1m6 0l23-2m-4 3l24-3m-4 1l23 1m-2 0l20-1m-1 1l23-1m-4 1l23-1m-3 1l22-1m-4 2l24-3m-4 2l23-1m-4 1l23-1m-3 0l22 1m-3 0l22-1m-3 1l23-1m-435 17l24 12m-3-12l21 12m2-12l14 12m6-11l14 9m8-6l7 2m90-1l14 0m6 0l11 1m10-1l9 0m9 0l14 1m6-1l13 1m6-1l14 0m6 1l13-2m6 1l14 0m5 0l14 0m6-1l13 2m7-2l10 2m8-1l13 0m5 0l16 1m4-1l15 0m-407 18l16 11m4-10l16 10m4-11l16 11m6-9l10 6m12-5l3 3m-48 17l18 11m2-12l17 13m5-13l13 13m15-13l-7 12m29-3l-12-9m26 1l2 8m15-9l8 12m15-12l1 11m26-3l-15-5m23 1l10 2m22 1l-17-3m26-3l5 8m11-8l14 10m-247 15l4 3m14-5l11 10m7-10l15 9m-2-15l34 26m-8-26l16 23m-1-12l27-2m2 3l4-3m6-2l29 8m-1-3l8-3m4 6l29-12m-9 2l25 11m2-6l5 0m11-3l15 7m3-4l18 1m3-1l15 1m3-1l17 0m3 0l16 1m3-1l17 0m3 0l15 0m5 0l14 0m4 1l16-2m3 1l17 1m3-1l15 0m4 0l16 0m4 1l14-2m4 0l17 2m3 0l15-1m5 0l14 1m-498 21l8 3m26-2l23 2m-4-8l26 16m-12-10l43 2m-12-1l12 0m4-6l21 13m-4-7l27 0m1-1l4 1m4-3l35 7m-2 0l1-7m13 2l14 1m4 0l17 0m3-1l16 2m3 0l16-2m3 0l16 1m4-1l15 2m4-1l16-1m3 1l16 0m3 1l16-3m3 2l17 0m3 0l16 0m3 0l16 0m4 1l15-2m4 1l15 0m3 0l18 0m-482 23l13-3m12-6l2 17m7-11l26 4m-4-12l24 22m-16-17l60 12m-33-6l34-3m-7-4l15 12m0-3l25-8m4 0l3 8m12 1l13-10m5 5l16 1m3-1l17 0m3 0l15 1m5 0l14-1m3 1l19-1m1 0l16 0m3 0l18 1m1 0l19-1m2 1l15-1m3 1l17-1m3 0l16 1m3 0l17-1m3 0l15 1m4-1l16 1m3 0l16-1m-403 10l18 30m8-31l3 33m10-32l20 30m-3-25l25 18m6-16l-3 13m22-4l-2-6m-75 14l-4 24m23-24l-2 24m16-23l10 22m17-14l-5 2m19-5l3 8m-78 9l-2 20m18-16l7 11m12-8l5 3m15-1l1 0m-55 18l-4 9m22-7l0 2m15 0l8 1m12-1l5 1m14 0l6-1m13 0l7 1m12-1l8 1m11 0l9-1m11 1l8-1m12-1l4 2m16-1l2 0m17 1l4-1m14 0l8 0m11 1l9-1m11 0l5 0m14 0l6 0m13 0l8 1m12-1l6 1m13-1l6 1m13 0l6-1m14 1l5-1m14 0l6 0m-424 15l-8 17m25-13l-2 6m37-3l6 1m13 0l7-1m12 0l6 1m13 0l8-1m12 1l6-1m13 1l5 0m14 0l6 0m14 0l4 0m15 0l6 0m13 0l6 0m14 0l4 0m14-1l9 2m10-1l8 0m13 0l4 0m15 0l5 0m14 0l6 0m13 0l6 0m14-1l4 1m14 0l7-1m13 1l6 0m14 0l2 0m-460 13l-8 18m26-16l-4 13m23-9l0 1m-36 13l-9 21m26-16l-4 9m-14 11l-7 15m25-11l-1 2m-18 17l-5 12m23-9l0 1m-35 17l-12 13m28-10l-2 3m-54 14l-11 14m31-15l-11 16m28-14l-5 10m24-7l-1 1m78-2l0 2m233 2l-1-1m37-2l0 0m38 1l1 1m59 2l0-1m54 0l4-1m-580 15l-6 13m28-15l-10 17m28-14l-6 10m25-8l-3 4m99-5l0 5m59-5l-1 5m20 1l-1-2m18 2l2-3m17-1l2 1m19-1l0 0m22 0l-3 2m17-1l4 1m16 1l1-1m57 0l0 0m23-2l-1 0m16 2l2 0m20-3l0 3m16-3l5 4m20 0l-2-1m21-2l-3 2m19 2l1-2m17 0l2 0m20-3l-1 3m-598 16l-7 12m27-15l-9 18m30-15l-10 11m27-9l-2 3m97 2l2-3m18 3l1-2m21-3l-1 2m22 2l-3-1m21 2l-2-2m17 0l2 0m20 3l0-4m21-1l-3 2m17-1l4 1m18-2l0 0m18 4l2-3m60-2l-3 4m21-4l-1 3m20 4l-1-7m16-1l7 7m22 0l-14-7m29 4l0 0m19 1l0 0m16-3l2 2m62 5l-10-12m-592 20l-10 17m29-17l-9 17m27-13l-3 6m121 0l0-1m15-3l5 2m19-2l-1 1m19 4l0-5m37 3l0 0m23-1l-2 0m18 2l0-1m20-4l0 2m22 0l-2 0m58-2l0 2m21-2l-3 4m18 3l4-10m20 6l-4 0m22-8l-3 17m15-10l12 1m8 0l11 0m34-2l-1 1m41-3l-5 6m23 1l-3-6m-616 16l-9 14m29-14l-10 15m28-13l-6 10m25-6l0 0m119-1l-2 1m22 2l-4-2m61 2l0 0m20 0l-3-2m20 3l0-2m18-3l1 2m20-2l-1 2m22 2l-4-2m18-2l4 4m17-4l1 2m19-2l0 2m19-2l1 2m18 5l1-7m15 6l9-7m12 3l2 0m19 5l1-7m35 6l6-7m20 1l-7 6m26 0l-7-7m27 0l-8 8m24-7l-1 3m18-8l4 17m-639 3l-10 17m29-15l-8 13m26-9l-1 1m155 1l1 0m22 1l0 0m15-2l4 1m17-2l1 1m21-2l-2 3m17 0l2 0m22 2l-3-4m20-1l0 2m20 5l-1-8m18 1l2 3m17-3l3 4m39 1l-1-1m21 3l-4-9m17 2l8 5m12-2l5-1m16-1l1 1m14 2l13-3m31 6l1-8m38 0l0 6m42 0l-6-4m-653 13l-12 16m32-15l-11 15m28-12l-4 6m23-4l-1 0m155 3l2-1m21 2l-2-3m18 2l1-1m57 0l0 0m19-2l1 1m18-1l3 2m20-3l-2 3m78 4l-1-8m18 8l3-9m12 7l14-6m11-1l1 9m22-2l-5-4m18 3l4-2m16-2l3 3m36-3l3 3m35-1l2 0m14 4l13-8m14-1l-5 12" stroke="#00f" stroke-width="5.2" fill="none"/>
<path transform="translate(0.00 532.95) scale(.25)" d="M144 309l-6 4-1-6zm57 3l-7 0 3-6zm20-5l-3 6-4-5zm40 0l-4 6-3-5zm80 2l-6 4-1-6zm19-2l-4 6-3-5zm20 4l-7 2 1-6zm62-2l-6 4-1-6zm17 3l-7 0 2-6zm39-3l-5 4-1-6zm38-2l-3 7-4-6zm59 3l-6 3-1-6zm20 1l-6 2 0-6zm-486 18l-6 4 0-7zm20 0l-7 4 0-7zm17 0l-6 4-1-7zm22 0l-7 4 0-7zm17-1l-5 4-2-6zm21 2l-6 3 0-6zm19-2l-5 4-1-6zm22 0l-6 4-1-6zm21-1l-5 4-2-6zm20 2l-6 3 0-6zm18-1l-5 4-1-6zm19 2l-6 3 0-7zm21-1l-6 3-1-6zm20 0l-6 3 0-6zm17-1l-5 4-2-6zm22-1l-5 5-2-6zm21 1l-6 4-1-6zm18 3l-7 2 1-6zm23-3l-6 4-1-6zm17 0l-6 4-1-6zm22-1l-6 5-1-7zm18 2l-6 4 0-7zm20 0l-6 4-1-7zm15 1l-6 3 0-7zm23-1l-6 3-1-6zm18 0l-6 4 0-7zm22 0l-6 3 0-6zm18-3l-5 5-2-6zm-529 24l-6 4 0-7zm18 0l-6 4-1-7zm22-1l-6 4-1-6zm14 1l-6 4 0-7zm22 2l-7 2 1-6zm21-3l-6 4-1-6zm19 0l-6 4 0-6zm21 1l-7 4 0-7zm18 0l-6 4-1-7zm20 1l-7 3 0-6zm21-3l-5 4-2-6zm17 2l-6 4-1-7zm20 1l-7 3 0-6zm21-1l-6 4-1-7zm20-1l-5 4-1-6zm22 0l-6 4-1-6zm16-2l-5 6-2-6zm22 3l-7 4 0-7zm19-1l-6 4-1-6zm22 1l-6 3-1-6zm19-1l-6 4-1-6zm19 1l-7 4 0-7zm19 3l-7 2 1-7zm17-4l-6 4-1-6zm20 1l-6 4-1-7zm19 0l-6 4 0-7zm20 0l-6 4 0-7zm-493 24l-13 6 1-13zm15 0l-11 5 1-11zm17 0l-10 4 1-9zm16-1l-8 4 0-8zm20 0l-8 4 0-8zm16 1l-7 3 0-7zm18 0l-6 3 0-7zm20-2l-6 4 0-7zm17-1l-5 4-2-6zm20 0l-6 5-1-7zm22 1l-7 4 0-7zm19 0l-6 3-1-6zm20 0l-6 4 0-7zm18-1l-5 4-1-6zm22-1l-5 5-2-7zm22 3l-7 3 0-6zm17-3l-5 5-2-6zm21-1l-5 5-2-6zm21 4l-7 3 0-6zm18-2l-5 4-2-6zm20 1l-6 4-1-7zm19-1l-6 4-1-6zm18 1l-6 4 0-7zm19 1l-6 3 0-6zm19-1l-6 4 0-7zm20 0l-6 4 0-7zm20 0l-6 4 0-7zm-490 25l-13 5 1-12zm23 2l-13 4 2-12zm19-1l-13 5 1-13zm20 0l-14 5 2-13zm15 1l-13 4 2-13zm22 4l-14 3 4-12zm18 0l-14 2 4-12zm9-6l-10 3 2-9zm14-5l-6 4-1-7zm17 2l-7 3 0-6zm20-2l-6 5-1-7zm21 0l-6 4-1-6zm20 2l-6 3 0-6zm18-1l-6 4 0-6zm22 1l-7 3 1-6zm18-1l-7 4 0-7zm19 1l-6 3 0-6zm20-1l-6 4 0-6zm21 2l-7 2 1-6zm19-3l-6 4-1-6zm20 0l-5 4-1-6zm18 1l-6 4 0-7zm20-1l-6 4-1-6zm18 1l-6 4-1-7zm21 1l-6 3 0-6zm19 0l-6 3 0-6zm18-1l-6 4 0-7zm-436 27l-13 4 2-12zm27 4l-14 3 3-12zm34 7l-14 2 4-12zm24 3l-14 2 4-12zm0-6l-14 1 4-12zm9-8l-10 3 2-10zm14-3l-7 3 0-7zm16-2l-7 4 0-7zm20-3l-5 5-2-6zm19 2l-6 4-1-6zm19 1l-6 4 0-7zm21 1l-7 3 0-6zm33-2l-11 6-1-11zm20-1l-11 7-1-11zm19 3l-11 5 0-11zm17-2l-9 6-1-10zm23 1l-11 6 0-11zm20-1l-11 6-1-11zm18 0l-10 6-1-11zm20-1l-10 7-2-12zm19 2l-11 6 0-11zm19 0l-10 5-1-10zm19 1l-11 5 1-10zm18-2l-10 6 0-10zm20 1l-10 5 0-10zm-410 35l-14-1 5-11zm16 0l-12-1 6-10zm14-1l-9-2 5-7zm19-3l-8-1 4-6zm14-5l-7 0 3-6zm105-4l-7 4 1-7zm18 1l-7 3 1-7zm19-1l-7 3 0-6zm23 2l-7 2 0-6zm18 0l-7 2 1-6zm21-2l-7 3 0-6zm18-2l-6 4-1-6zm20 2l-6 4 0-7zm19 0l-6 3 0-6zm19 2l-7 3 1-7zm17 0l-6 2 1-6zm21-2l-6 3 0-6zm23 1l-8 3 0-7zm18 0l-7 3 0-7zm-391 33l-10-1 5-7zm21-1l-10 0 5-8zm20 1l-11-1 6-8zm13-4l-7-1 4-5zm15-2l-7-2 4-5zm-27 29l-11-1 5-9zm19 2l-11-2 6-8zm16 0l-9-3 6-6zm-1-1l0-7 6 3zm14-22l8 2-4 5zm35 19l-5-5 7-2zm25 3l-6-4 6-3zm13-1l-3-6 6 0zm3-17l9-1-2 7zm47 8l-7 2 1-7zm-9-6l9-2-2 7zm42 13l-6-4 6-3zm28 0l-8-1 4-7zm-244 18l-7-2 4-5zm25 6l-8-2 5-6zm24-2l-9 0 4-8zm35 15l-14-3 7-10zm5-1l-13-7 11-7zm32-25l-12 7-1-12zm-2-3l-3 7-4-5zm43 13l-14 3 3-13zm0-11l-5 5-2-6zm39-8l-10 10-4-12zm16 23l-14 0 5-11zm1-11l-6 3 0-7zm27 7l-9 0 4-7zm23-7l-9 4 0-8zm16 0l-7 3 0-7zm21-1l-8 4 0-8zm19 1l-8 4 0-8zm19-1l-8 4 1-8zm18 0l-7 3 0-7zm18 0l-6 3 0-6zm22-2l-7 5-1-8zm19 3l-8 4 1-8zm19 0l-8 3 0-7zm19-1l-7 4 0-8zm18-2l-6 4-1-6zm21 4l-8 3 1-8zm18-3l-7 4 0-7zm19 2l-7 3 0-6zm-491 27l-7 0 3-6zm54-2l-11 4 0-11zm22 14l-14-1 6-11zm33-15l-13 6 1-13zm-6-2l-7 4 0-7zm28 14l-13-1 6-10zm26-13l-13 6 0-12zm-2 2l-7 1 2-6zm46 5l-14 3 2-12zm-13-16l2 7-6-1zm33 10l-7 3 0-7zm21-1l-8 4 1-8zm19 2l-8 3 1-8zm20-4l-7 5-1-8zm19 3l-8 3 0-7zm19 1l-8 2 1-7zm19-3l-7 4 0-8zm20 1l-8 4 0-8zm19-3l-7 5-1-7zm20 3l-8 4 0-8zm19 0l-8 4 0-8zm18-1l-7 4 0-7zm19-1l-6 4-1-7zm20 1l-7 4-1-7zm21 1l-8 4 0-8zm-470 19l-6 4-1-6zm9 20l-6-8 8-1zm44-13l-14 4 2-13zm16 17l-14-4 9-10zm47-11l-13 4 2-13zm2-13l-12 7-1-13zm2 15l-9-2 5-7zm30-21l-10 10-4-12zm-4 18l-4-5 6-2zm30-20l-3 8-5-6zm23 11l-8 3 0-7zm20-1l-8 4 0-8zm17 2l-7 3 0-7zm18-2l-6 3 0-6zm24-1l-8 5-1-9zm17 1l-8 4 0-7zm22 1l-9 4 0-9zm19-1l-8 5-1-9zm16 0l-7 3-1-7zm21 0l-8 4 0-8zm19 1l-8 4 0-8zm19-1l-7 4-1-8zm18 1l-7 3 0-7zm20 0l-7 3 0-7zm20-2l-8 5 0-8zm-387 52l-12-8 11-6zm6 3l-8-12 13-1zm36-4l-13-7 11-7zm25-10l-14-2 8-11zm-8-4l-2-7 6 1zm18-22l6 5-6 2zm-79 55l-3-12 11 2zm23 0l-5-12 12 1zm32-2l-10-8 10-5zm1-20l5-5 2 6zm30 7l-5-5 6-2zm-82 32l-4-9 9 0zm29-8l-6-4 5-3zm18-8l-7 0 4-6zm17-3l-6 2 1-6zm-67 32l-1-7 6 2zm25-5l-4-6 6-1zm28-4l-7 2 1-6zm17 0l-7 2 1-7zm20-2l-6 3-1-6zm21 2l-7 2 1-6zm20-1l-7 3 0-7zm20-2l-6 4-1-6zm18 1l-6 3 0-6zm16 3l-7 1 2-6zm19-1l-7 1 1-6zm20-2l-6 4 0-7zm22 0l-6 4 0-7zm20-1l-5 4-1-6zm16 1l-6 4 0-7zm20 1l-6 3 0-7zm21 1l-7 2 1-6zm18 0l-7 2 1-6zm19 0l-6 2 1-6zm19-2l-6 3 0-6zm20 0l-6 3-1-6zm19 0l-6 4 0-7zm-442 40l0-10 8 4zm25-8l-1-8 6 2zm51-8l-7 2 1-6zm20-3l-6 5-1-7zm18 3l-7 2 1-6zm22-3l-6 4-1-6zm17 1l-6 4-1-7zm18 0l-5 4-1-7zm21 1l-7 3 0-6zm18 0l-7 3 0-6zm21 0l-7 3 0-6zm18-1l-5 4-1-7zm18 0l-6 4 0-6zm23 3l-7 2 1-7zm19-2l-7 3 0-6zm17 0l-7 3 0-6zm19-1l-6 4-1-6zm20 1l-7 3 1-6zm20 0l-7 3 0-6zm17 2l-7 1 2-6zm22-3l-6 4-1-7zm19 1l-7 3 1-6zm16 0l-7 3 0-6zm-479 40l0-11 8 4zm24-6l-1-7 6 2zm21-8l1-8 5 4zm-46 38l0-12 9 4zm25-11l-1-7 6 2zm-23 27l0-9 7 4zm24-10l1-8 5 4zm-21 29l-1-7 6 2zm23-8l-1-8 6 3zm-51 29l3-8 6 5zm29-7l1-7 5 3zm-67 29l2-9 7 5zm20 2l1-10 8 5zm25-6l0-7 6 3zm22-6l2-7 5 4zm82 1l-3-6 6 0zm227-9l7 2-4 5zm45 8l-5-5 5-2zm42-3l-7 2 2-7zm52-7l4 6-6 1zm65 4l-5 5-2-7zm-595 35l0-7 6 3zm16 5l1-11 7 5zm24-7l0-7 6 3zm21-4l1-7 6 3zm104 1l-4-6 7 0zm56 1l-2-7 6 1zm20-14l4 6-7 0zm24-1l-1 7-5-3zm20 9l-7 0 3-5zm14 2l-3-6 7 0zm13 0l4-6 4 5zm33-3l-7 2 1-6zm17-4l-4 6-3-6zm58 3l-7 3 0-7zm11 3l2-7 5 5zm29-5l-6 5-1-6zm12 9l-2-7 6 1zm27-1l-7-2 4-5zm7-9l7 0-3 6zm19 6l3-6 4 6zm27-9l1 7-6-2zm23 4l-5 5-2-6zm12 9l-2-7 6 1zm-607 26l0-7 6 3zm17 6l0-11 8 5zm19-6l2-8 5 5zm26-6l1-7 5 3zm108-11l-2 7-5-5zm17-1l0 7-5-3zm14 11l0-7 6 3zm16-7l7-1-2 6zm21-3l7 3-5 4zm29 5l-7 3 1-6zm14-8l3 7-6 0zm14 13l2-7 4 5zm31-3l-7 1 2-6zm13 2l-4-6 6 0zm23-10l-1 7-6-4zm49 11l1-6 5 4zm21 0l0-7 6 3zm20-14l5 5-7 2zm30 17l-7-2 4-5zm-3-16l8 1-3 6zm28 7l7-2-1 6zm20-2l7 1-3 5zm27 8l-6-3 5-4zm44-18l8 4-6 4zm-602 51l1-11 8 5zm21-1l1-10 7 5zm25-8l0-7 6 3zm121-13l5 4-5 3zm29 8l-7 0 2-6zm9 1l0-7 6 3zm22-12l3 6-6 0zm41 4l-1 7-5-4zm11 2l7-1-1 6zm27-3l0 7-6-2zm19 10l-5-5 6-2zm12-5l6-4 1 7zm61 5l0-7 6 2zm17 0l1-7 5 5zm28-17l1 7-6-2zm8 11l6-3 0 7zm24 17l-3-8 8 1zm34-16l-6 3 0-6zm20 0l-7 3 0-7zm22 4l1-7 5 4zm35 3l2-7 5 4zm22-15l6 4-5 3zm-626 42l1-9 6 5zm18 2l1-10 7 5zm23-6l1-7 5 4zm23-9l5-5 2 6zm118 2l3-6 4 5zm17-7l7 0-2 6zm61 1l7 1-3 5zm18-1l7 1-4 5zm23-3l5 6-6 1zm23 12l-5-5 6-2zm15 0l-1-7 6 2zm15-9l7 0-3 6zm32 9l-7-2 4-5zm15 0l-5-5 6-2zm19 0l-5-5 6-2zm20 0l-5-5 6-2zm18-15l2 7-6-1zm28 2l-3 6-4-5zm14 10l-7 0 3-6zm16-12l2 7-6-1zm45 1l-2 7-5-4zm3 16l3-7 4 5zm20-15l6 2-4 5zm19 17l2-7 4 4zm26-3l-2-7 7 1zm25 11l-6-7 8-2zm-656 20l1-11 8 5zm22-3l1-9 6 4zm25-10l1-7 5 4zm166-5l-6 4-1-6zm12-3l6 3-5 4zm29 5l-7 2 1-6zm15 3l-6-4 5-3zm13 2l0-7 6 2zm28-7l-5 4-2-6zm10-6l6 4-6 3zm25 12l-5-6 6-1zm16-15l4 6-6 1zm24 15l-6-3 6-4zm21 1l-7-3 6-4zm32-11l5 5-6 2zm17-6l5 5-6 2zm32 17l-7-1 4-6zm18-7l-6 4-1-7zm15 5l-6-3 5-4zm30-7l-6 5-1-7zm27-8l2 7-7-1zm36 20l-3-7 6 1zm31-16l7 2-4 5zm-665 42l1-11 8 6zm21-1l1-10 7 5zm26-7l0-7 6 3zm21-5l2-7 5 4zm165-7l-2 6-5-4zm12-3l6 5-5 3zm27 2l-2 7-5-5zm58 2l-5 6-2-6zm19 6l-7-2 4-5zm21-1l-7 1 3-6zm9 4l1-7 5 3zm81-17l4 7-7 0zm23 0l1 7-6-2zm30 5l-5 5-3-6zm8 16l-5-5 6-2zm9-16l7 1-3 5zm34 2l-4 6-3-6zm17 9l-7-3 5-4zm38 1l-6-4 5-3zm41-5l-7 2 1-7zm25-9l-4 6-3-5zm2 20l-1-7 6 2z" fill="#00f"/>
<path d="M33.0 629.0L47.0 634.8" stroke="#00f" stroke-width="1.8"/>
<path d="M52.0 637.0L46.0 637.1L47.9 632.6Z" fill="#00f"/>
<path d="M86.0 633.0L86.0 643.6" stroke="#00f" stroke-width="1.5"/>
<path d="M86.0 647.0L84.5 643.6L87.5 643.6Z" fill="#00f"/>
<path d="M50.0 631.0L58.0 634.0M55.6 634.2L58.0 634.0L56.4 632.2M56.0 632.0L123.6 683.5M119.8 682.7L123.6 683.5L121.9 679.9M60.0 637.0L100.0 668.0M96.2 667.2L100.0 668.0L98.3 664.4M65.0 639.0L112.0 675.0M108.2 674.2L112.0 675.0L110.3 671.4M59.0 639.0L61.5 650.0M59.5 647.5L61.5 650.0L62.2 646.9M75.0 641.0L95.0 645.0M91.2 646.0L95.0 645.0L91.9 642.5M82.0 645.0L104.0 664.0M100.2 663.0L104.0 664.0L102.5 660.3M101.0 669.0L122.0 683.0M118.1 682.5L122.0 683.0L120.1 679.6M103.0 672.0L124.0 688.0M120.2 687.2L124.0 688.0L122.3 684.4M116.0 681.0L118.0 695.0M115.8 691.7L118.0 695.0L119.2 691.2M88.0 648.0L110.0 672.0M106.3 670.6L110.0 672.0L108.9 668.2" stroke="#1a1a1a" stroke-width="1.05" fill="none" stroke-linejoin="miter"/>
</g>
<rect x="25.25" y="609.2" width="229.05" height="154.45" fill="none" stroke="#262626" stroke-width="1.8"/>
<path d="M30.95,609.20v2.6M30.95,763.65v-2.6M67.16,609.20v2.6M67.16,763.65v-2.6M103.37,609.20v2.6M103.37,763.65v-2.6M139.58,609.20v2.6M139.58,763.65v-2.6M175.79,609.20v2.6M175.79,763.65v-2.6M212.00,609.20v2.6M212.00,763.65v-2.6M248.21,609.20v2.6M248.21,763.65v-2.6M25.25,637.21h2.6M254.30,637.21h-2.6M25.25,665.17h2.6M254.30,665.17h-2.6M25.25,693.13h2.6M254.30,693.13h-2.6M25.25,721.09h2.6M254.30,721.09h-2.6M25.25,749.05h2.6M254.30,749.05h-2.6" stroke="#262626" stroke-width="1.6" fill="none"/>
<text x="21.9" y="612.4" class="tk" text-anchor="end" textLength="23.0" lengthAdjust="spacingAndGlyphs">20<tspan class="dg" dy="-3.4">°</tspan><tspan dy="3.4">N</tspan></text>
<text x="21.9" y="640.3" class="tk" text-anchor="end" textLength="23.0" lengthAdjust="spacingAndGlyphs">10<tspan class="dg" dy="-3.4">°</tspan><tspan dy="3.4">N</tspan></text>
<text x="21.9" y="668.3" class="tk" text-anchor="end" textLength="17.3" lengthAdjust="spacingAndGlyphs">0<tspan class="dg" dy="-3.4">°</tspan><tspan dy="3.4">N</tspan></text>
<text x="21.9" y="696.2" class="tk" text-anchor="end" textLength="21.1" lengthAdjust="spacingAndGlyphs">10<tspan class="dg" dy="-3.4">°</tspan><tspan dy="3.4">S</tspan></text>
<text x="21.9" y="724.2" class="tk" text-anchor="end" textLength="21.1" lengthAdjust="spacingAndGlyphs">20<tspan class="dg" dy="-3.4">°</tspan><tspan dy="3.4">S</tspan></text>
<text x="21.9" y="752.1" class="tk" text-anchor="end" textLength="21.1" lengthAdjust="spacingAndGlyphs">30<tspan class="dg" dy="-3.4">°</tspan><tspan dy="3.4">S</tspan></text>
<path d="M170.0 623.4h29M193.4 620.5L199.1 623.4L193.4 626.2" stroke="#222" stroke-width="1.05" fill="none"/>
<path d="M219.6 623.4h16" stroke="#00f" stroke-width="1.2"/>
<path d="M233.9 621.6L240.1 623.4L233.9 625.1Z" fill="#00f"/>
<text x="173.7" y="633.8" class="lgk" textLength="33.5" lengthAdjust="spacingAndGlyphs">0.4 m s<tspan dy="-2.8" font-size="5.5">−1</tspan></text>
<text x="212.8" y="633.8" class="lgb" textLength="33.5" lengthAdjust="spacingAndGlyphs">0.1 m s<tspan dy="-2.8" font-size="5.5">−1</tspan></text>
<text x="102.7" y="603.5" class="pt" textLength="23.8" lengthAdjust="spacingAndGlyphs">Year</text>
<text x="131.8" y="603.5" class="pt" textLength="12.1" lengthAdjust="spacingAndGlyphs">31</text>
<path d="M146.5 599.6h8.8" stroke="#000" stroke-width="0.9"/>
<text x="158.0" y="603.5" class="pt" textLength="12.1" lengthAdjust="spacingAndGlyphs">40</text>
<text x="41.0" y="605.2" class="pl" text-anchor="middle">(<tspan font-weight="bold">d</tspan>)</text>
<clipPath id="clipe"><rect x="383.0" y="76.25" width="229.05" height="154.45"/></clipPath>
<g clip-path="url(#clipe)">
<rect x="381.0" y="74.25" width="233.05" height="158.45" fill="#cbe9f2"/>
<g transform="translate(357.75 0.00) scale(.5)">
<path fill-rule="evenodd" fill="#e0f3f8" d="M46 148l212 0 12 3 7-3 38 0 22 4 11 20 6 8 17 10 13 3 10-1 2-2 0-42 118 0 0 26-4 0-1 6 1 4 4 0 0 13-4 1 0 2 0 3 4 0 0 52-4-1 0 2 0 4 4 0 0 50-4-1 0 1 4 1 0 155-468 0 0-255 2 0 1-3-3-1 0-42 20 3 23-8-43 0zM84 154l6 4 4 1 7-1 3-4-6-1zM128 194l2 2 8 2 19 0-14-4zM164 166l-14 5-2 1 1 2 29 10 1 2-8 6 2 2 48 8 20 0-27-8-2-2 1-2 7-4-25-16-17-4zM240 168l-14 6 48 12 18 0 6-2-22-6 2-2 14-1 3-3 1-2-36-3zM366 224l-6 6-2 4-20-1-7 3 0 2 11 4 20 2 46 0 6-2-32-2-16-3-2 2 0-3 4-6 1-4-1-2zM414 194l14 6 16-2 4-2-1-2-5 0zM464 314l-6 2-2 2 10 12 1-12zM476 344l-3 2 4 0zM510 225l0 4 3 0 1-3zM56 372l0 2 6 3 0-5zM174 250l-5 2 7 4 12 3 24-1 26 2 7-2-6-2-41-5zM178 240l0 3 14 3 12 0 7-1-11-6zM346 264l-12 4-32 4 38 10 46-1 6-3-2-2-30-11zM354 252l-2 2 8 4 12 1 13-1-2-2-9-2zM414 230l4 2 6 2 4 0 1-2-5 0-2-3zM456 336l-3 2 9 6 4-8-2-1zM182 320l-4 2 0 6 2 3 6-2 3-3-1-4zM212 364l2 2 20 6 24 9 12 2 6-3-7-6 8-4-8-2zM216 338l-1 4 1 4 14 0 5-2 4-4-9-3zM244 272l-20 2-4 2 4 4 8 3 34 1 24 4 3 2-26 2 5 4 19 8 0 4 3 2 26 3 11-1 0-2-17-6-1-2 17-8-5-4-27-4-14-5-6-5 3-4-17-1zM340 320l2 2 16 3 26 1 10-2-8-2-20-3-18 0zM424 260l-1 0 15 8 10 4 1-2 0-8-3-3zM256 454l8 2 7-2zM234 318l-2 2 0 2 18 3 16-1-13-4zM280 324l-1 0 1 2 14 4 22 3 8-1-4-4-8-3zM352 336l-10 2 32 9 20 0 14 2 32 11 20 2 1-2-2-2 1-4 2-6-2-2-26-2-42-1-15-3-11-5zM280 348l1 2 5 3 28 6 18 0 9-1 4-2-43-9-12 0z"/>
<path fill-rule="evenodd" fill="#fffcc6" d="M46 150l8 2-3 2-5 0zM168 148l25 0-3 3-6 1zM211 148l33 0 16 4 18 3 10-1 14-3 16 1 8 2 2 6 0 4-4 3-30-3-38 0-16-3-22-11zM484 148l24 0 0 2-9 10-13 8-2-2-1-12-8-2 9-2zM509 158l1 0 4 1 0 6-4-1zM95 166l13-1 24 1 3 0 2 6 4 4 26 8 0 2-3 1-12 3-34 0-8 2 14 6 18 3 114 7 13-2-3-2-43-10 0-2 17-4-10-6 4 0 18 2 16 6 12 0 40-1 2-7 14-2 10 2 24 12 8 0-9 4-17 12-10 4 2 7 4 6-26-6-6 0-4 3 7 6 1 2-2 2-8 4-15 2-3 2 37 8-28 4 1 2 8 6 1 2-1 2-6 2-14 1-26-3-2-2 6-4 0-2-29-10-2-2 2-4-1-2-18-7-29 1-29 4-10 0 4 5 8 1-5 4-1 6 2 2 19 4 13 8 12 3 5 3 4 6-6 2 0 16-3 8-9 6-18 6-2 2-1 15-2-13-12 0-2-2-10-2-10-8-8-4-4 0-6-6 0-28-2 3-5 1-3 2-10-8-8 0-2-2-2-11-2-1-36 0-4 3 0-25 4 0 0 3 14 0 6-2 1-2-7-13-10-14-4-3-4 1 0-7 12 0 5-3-1-2-4-1-12-2 0-16 28 3 28 7 16 1 8-2-41-8-1-2zM312 208l0 2 2 2 6 2 12 1 4-3-1-2-11-3zM510 188l4 1 0 5-4 0zM462 202l6-1 2 10 6 16 2 5 4 4 26 0 6-2 0 18-5 0 0 4 1 6 4 1 0 29-2 0 2 1 0 12-4 0-1 5 1 5 4 0 0 18-4-1 0 2 0 4 4-1 0 10-4-1-1 2 1 4 4 1 0 9-4 0 0 3 4 1 0 34-4 0 0 2 1 3 3 1 0 60-415 0-25-3-15 3-13 0 0-12 9-2-1-2-8-1 0-8 8-1 17 2 2 4-4 14 18 0-5-20 12-18 3-2-7-2-30-2 2-4-2-2-14-1 0-35 16 6 2-7 40 3 0 40 4-10 4-4 5 6 2 0-1-13-2-1 2-4 8-8 4-16 8-8 8-4 4 0 6-4 4 0 2-2 2 2 6 1 2 4 36 21 5-6 16 4 12 6-7 1-26-2-4 7 0 2 64 9 11 0 0-5 1-1 14-5 0-2-2-2-9-6 11-4 2-2-12-3-70-7-1-4 3-7 22 1 24-1 36 10 44 7 34-2 3-2 1-2-3-4 5 0 24 0 54 9 22-3 6-10 2-14-1-26-3-7-4-4-6-1-8 1-2 1 0 6-2 2-8 1-16 4-10 0-16-5 6-7 10-4 29 1 1-2-3-6 1-3 8 1 10-4 4-8 1-24-4-2-27-1-2 5-46-1-20-2-13-5 19-2 38 1 9-1-1-2-6-4 4-2 3 0 18-28zM156 436l-2 4 0 2 20-2 2-2-8-2zM206 420l-5 2 5 3 20 3 8-1 6-3-3-2-10-2zM313 384l-1 2 7 3 14-3-1-2-6-1zM346 378l-1 0 10 0zM370 396l-13 2 1 3 22 2 18 0 10-3-4-2-12-2zM404 368l-1 0 1 2 4 3 10 1 9-2 0-2-6-2zM466 380l-4 2 0 2 4 1zM223 438l3 2 3-2zM312 448l-3 2 29 9 12 0 8-3-4-2-18-4zM320 404l-2 2 22 5 22 2 6-1 0-1-18-5zM426 384l1 2 9 3 12-3 0-2-14-1zM228 450l2 2 6 2 30 4 22 2 9-2-11-4-33-4-17-1zM352 440l-4 2 1 2 11 5 13-1 5-4 0-2-5-2zM426 446l8 3 7-1-5-2zM436 396l-1 0 1 2 4 4 5 2 25 8 4 0 2-4 0-2-4-6zM468 438l1 2 3 2 15 0-2-4-3-1zM510 208l4-1 0 13-4-6zM214 262l20 2 14 2-10 3-14-1-10-1-3-3zM390 268l29 2 20 4 3 2 1 6 7 8-14 5-38 1-21 4 0 2 11 6 1 4 15 6-2 2-46-6-17-6-8-4 18-6-11-8-1-2 1 0 28-3 26-1 15-4 5-4-2-2zM294 278l16 0 12 4-14 1zM228 288l0-1 8 2 5 5 0 2-7 1zM249 296l9 1 16 5-6 2-12-1-8-5zM46 310l0-1 44 1 0 16-2 13-6 4-32 13 0 2-4 2 1-19 1 0 2-3-1-4-3 0zM277 316l13 0 12 2-12 2-9-2zM433 320l13 2 9 8-5 3-22 3-30-3-15-3 37-1 3-1-2-6zM228 326l2 0 19 2 12 6-5 3-13-3-17-5zM168 334l2-2 0 13-1-3zM283 334l15 0 24 4 24 6 19 8 2 2-18-2-21-6-36-5-12-5zM46 426l0-1 13 1-3 4-10-1z"/>
<path fill-rule="evenodd" fill="#fee9a6" d="M239 152l33 6 44 0 8 1 3 1-1 2-20 0-24-3-26 1-13-4-4-2zM108 170l11 0 9 6-12 1-14-3 0-2zM70 182l8 1 14 3-4 3-6 1-18-4 0-2zM296 192l26 0 3 4-1 2-12-1zM81 194l11 0 44 9 102 6 36 6 14-1 12-2 4 1 5 3-4 8 2 6-1 2-11 4-21 4-1 0 11 6-1 2-9 4-16-4 0-6-12-8 9-4 2-2-7-1-40 1-12 3-14 1-22 1-16-2 0 1 4 7-10 8-17 17-5 4-4 0-10-2-14-8-9-34-1-14 0-4 13-2-18-4-1-2zM241 196l15 0 13 2-11 1zM512 246l2 0 0 3-2-1zM395 250l13-1 19 1 2 2-21 0zM162 260l0-1 4 1 11 2 6 6 13 5 5 3-13 1-10-8-8-4-4 0zM510 266l0-1 4 1 0 6-4 0zM149 284l13 2 13 6 4 8 0 8-1 4-6 2-7-2-27-14-3-6 0-4zM413 284l14 0 6 2 2 2-5 2-10 1-11-1-7-2 2-2zM358 290l12 0 8 2-6 3-10 0-8-3zM510 298l0-1 4 0 0 6-4 0zM433 304l9 0 8 2-4 3-8 0-7-3zM350 306l12 0 8 2-1 2-5 1zM510 320l4-1 0 8-4-1zM302 338l7 0-1 2zM255 356l13 1 10 3-10 2-23-4zM158 364l8 0 4 1 18 15 13 8 1 4 34 3 56 8 11 3 7 6 10 3 20-1 21 2 2 2-27 3-15 5 7 3 35 3-2 2-15 1-7 1-2 2 1 6-4 2-34 0-18 4-27-4 0-2 17-4 0-2-22-8 0-2 6-4-4-2-36-5-32 0-14-2-1 5-7 0-26-12-4-4-2-6 2-12 4-9 10-9zM186 396l-8 5 10-1 2-4zM313 368l11 0 12 2-16 2-5-2zM443 368l15 0 4 2 1 2-3 2-6 0zM510 368l4 1 0 9-5-2zM378 372l31 6 3 2 2 4 7 6-1 2-4 2-8 1-32-2-32-1 8-6 16-3 10-5 2-2zM302 376l10-1 7 1-2 2-9 1-4-1zM46 378l0-1 17 5 1 4-2 9-8 1-6-2 10-4-12-6zM456 390l12 0 3 2 0 4-15-2-3-2zM509 390l1-1 4 0 0 6-4 0zM46 398l0-1 8 5-8 1zM316 398l8 0 6 2-10 0zM401 406l21-1 18 3 5 2-2 6 35 5 4 5 0 4 2 2-2 2-18-1-14 1-2 2 4 4 0 2-6 1-73-9 10-1 2-3-1-8-5-4 8-6-9-4 0-1zM414 414l4 3 20-1zM510 410l4 0 0 8-4-2zM100 422l18 0 12 17 16 11 4-2 17 1 3-3 18-3 8-3 4 0 17 4-4 4 2 6-20 2-2 2 31 3 9-3 11 0 74 8-139 0 2-2-3-2-34-5-2 4-3 1 4 5-23-1-28-4 21-2-6-30zM167 422l1-1 3 1 2 4-3 3-8 1zM509 428l5 1 0 7-4 0-1-1zM393 446l9 0 37 8 35 5 4-1-3-4 7-1 10 0 0-5 6-2 16 1 0 4-4 0-1 3 5 3 0 9-57 0-17-2-14-1-30 1-9 2-36 0 3-2 20-6 6-6zM46 458l6 0 2 4-8 4z"/>
<path fill-rule="evenodd" fill="#fdd891" d="M97 200l9 0 13 4-13 2-8-4zM140 206l54 2 17 2 8 2 1 2-1 2 8 6-6 2-24 2-17 3-48-2 0 3 8 0 2 2-25 30-5 2-8-1-14-8 0-12 12-20 11-7-1-4 20 0 5-2zM139 384l1-1 4 1 0 5-3 1-3 0-1-2zM383 385l7-2 8 0 7 3 4 4-11 2-22-4zM203 396l11 0 22 2 48 8 6 2-4 3-4 1-22-4-38-1-15-5-5-4zM174 404l20 4 7 2 0 2-13 2-18-2-1-2 2-3zM418 408l9 0 4 2-10 0zM236 414l6-1 40 0 22 5 3 2-15 6-14 0-32-8zM404 420l14 0 15 4-3 3-10 0-8-1zM267 428l19-1 14 6 22 5 4 2 0 2-8 1-16-1-11-6-23-3-5-3zM420 436l2-1 6 1zM398 452l12 0 32 6-6 2-32 1-12-1-4-4 2-2zM444 460l10 0 18 2 15 4-15 0zM206 464l22 0 23 2-40 0z"/>
<path fill-rule="evenodd" fill="#fdc97e" d="M152 210l12 0 32 2 17 8-2 2-15 1-26-5-18-1-22 6-6-1-5-4 5-2 20 0z"/>
</g>
<polygon points="383.0,100.6 387.1,101.4 392.2,100.7 397.6,102.2 402.8,103.1 408.1,103.2 411.6,104.8 414.1,107.2 418.6,111.0 423.8,114.5 429.1,115.4 433.4,118.9 436.9,122.4 437.8,126.8 439.6,132.0 444.8,133.8 451.8,138.2 458.8,140.8 465.9,140.9 471.1,143.5 474.6,147.0 475.4,154.0 473.8,161.0 469.4,165.4 465.9,168.9 465.4,175.0 464.1,182.0 462.4,189.0 458.9,195.2 451.8,197.8 446.6,200.4 443.1,204.0 442.1,210.0 437.8,215.3 433.4,222.3 429.9,229.3 429.1,230.7 384.6,230.7 385.2,224.0 387.1,213.6 388.8,201.3 389.6,192.6 388.8,183.8 383.6,180.3 383.0,180.3" fill="#fff" stroke="#969696" stroke-width="1.2"/>
<polygon points="520.0,76.2 520.0,77.8 521.4,79.9 521.0,83.0 520.0,85.6 518.8,89.1 518.0,91.8 519.2,96.1 521.4,99.6 524.0,102.3 527.5,106.2 530.1,111.0 533.6,114.5 537.1,117.6 539.8,119.4 543.2,118.9 547.6,118.0 552.0,117.6 557.8,117.2 560.6,116.1 567.1,114.4 572.0,116.1 575.4,120.1 580.2,121.0 582.6,123.4 581.9,130.0 582.6,136.5 583.5,140.0 586.8,144.9 590.0,151.4 590.9,158.0 591.6,164.5 589.2,171.0 587.5,177.6 588.5,182.5 590.9,189.0 593.4,197.2 595.8,205.4 598.2,213.6 600.6,220.1 603.1,225.0 606.4,229.1 608.8,229.2 612.0,228.5 612.0,76.2" fill="#fff" stroke="#969696" stroke-width="1.2"/>
<polygon points="383.0,76.2 388.8,76.2 388.2,79.0 385.8,81.5 383.0,81.2" fill="#fff" stroke="#969696" stroke-width="1.2"/>
<polygon points="388.9,79.2 393.2,79.0 393.4,80.6 389.1,80.9" fill="#fff" stroke="#969696" stroke-width="1.2"/>
<g fill="#fff" stroke="#999" stroke-width="0.8"><circle cx="402.2" cy="81.5" r="0.9"/><circle cx="403.8" cy="84.5" r="0.9"/><circle cx="404.9" cy="87.5" r="0.9"/><circle cx="406.1" cy="90.5" r="0.9"/><circle cx="408.2" cy="93.5" r="0.9"/><circle cx="409.8" cy="97.5" r="0.9"/></g>
<path transform="translate(357.75 0.00) scale(.25)" d="M122 335l4-2m18 2l4-2m18 2l4-2m40 2l3-2m19 2l3-2m18 2l4-2m18 2l4-2m18 2l4-2m40 2l4-2m18 2l4-2m18 2l4-2m18 2l4-2m18 2l3-2m19 2l4-2m17 2l5-2m18 2l3-2m19 2l3-2m18 2l4-2m62 2l4-2m-464 27l3-3m19 3l3-3m19 3l3-3m62 2l4-2m62 3l4-3m18 3l4-3m40 2l4-2m18 3l4-3m40 3l3-3m19 2l3-1m40 2l4-3m19 3l3-3m41 3l3-3m40 3l4-3m-508 27l4-2m40 2l4-2m18 2l3-3m19 3l3-2m19 2l3-3m18 3l4-2m40 2l4-2m18 2l4-3m40 3l4-2m18 2l3-3m19 3l4-2m40 2l3-2m19 2l3-3m41 3l3-2m19 2l3-2m62 2l4-2m18 2l4-2m-486 26l4-2m18 2l4-2m17 2l5-2m62 2l3-2m62 2l4-2m40 2l4-2m18 3l4-3m84 2l3-2m18 2l4-2m18 2l4-2m62 2l4-2m18 2l4-1m18 1l4-2m-354 27l3-3m237 3l4-3m40 2l4-1m19 2l3-3m62 3l4-3m18 3l4-3m-376 27l3-2m150 2l3-2m172 3l3-4m41 3l3-2m19 2l3-2" stroke="#000" stroke-width="8.8" stroke-linecap="round" fill="none"/>
<path transform="translate(357.75 0.00) scale(.25)" d="M188 335l3-2m129 2l2-2m239 2l3-2m19 2l3-2m40 2l4-2m-508 26l3-1m85 2l3-3m19 2l3-1m41 1l3-1m19 2l3-3m62 2l4-1m62 1l3-1m63 1l3-1m63 1l3-2m41 2l2-1m-463 26l3-2m129 2l3-2m63 1l2-1m85 2l3-2m63 2l3-2m62 2l4-2m19 2l3-2m-464 26l3-2m85 2l3-2m19 2l3-1m41 1l3-2m19 2l3-1m41 2l2-3m64 2l2-2m19 2l3-2m19 2l3-2m85 2l2-2m20 2l3-2m84 2l3-2m-419 26l3-1m19 2l3-3m41 3l3-2m18 2l4-2m18 1l4-1m18 2l3-2m19 1l3-1m20 1l2-1m19 2l3-3m19 2l3-1m19 2l3-2m19 2l3-3m41 2l3-1m63 2l2-2m20 2l2-3m-375 28l3-4m19 3l2-2m42 2l2-2m20 2l2-2m20 2l2-2m19 2l3-2m19 2l3-2m19 2l3-2m41 2l3-2m19 2l3-2m19 2l2-2m20 2l2-2m20 2l3-2m19 2l2-2m20 2l3-2m40 2l4-2m-332 26l2-1m20 1l2-1m20 1l2-1m20 1l2-2m20 3l1-3m21 2l1-1m21 1l1-1m21 2l1-3m21 2l1-1m21 2l1-3m20 2l2-2m20 2l2-1m20 1l2-1m20 1l2-1m20 1l2-2m20 3l2-3m20 3l2-3m20 3l2-3m19 3l3-3m19 3l3-3m20 2l1-1m21 1l1-2m20 3l2-3m20 2l2-1m20 1l2-2m-528 27l2-3m20 2l2-1m21 1l0-1m21 2l1-3m21 3l1-3m21 3l1-3m21 2l1-1m21 1l1-2m21 2l1-2m21 2l1-1m21 1l1-1m21 2l1-3m21 2l1-2m20 3l2-3m20 2l1-1m21 1l2-1m20 1l1-1m21 1l1-2m21 2l1-1m21 2l1-3m21 2l1-1m21 2l1-3m21 3l1-3m21 2l1-2m20 2l2-2m21 2l1-1m21 1l0-1m-548 25l0-1m21 1l2-2m20 2l1-1m22 1l0-1m21 1l1-1m21 1l1-2m21 3l1-3m21 2l1-2m21 2l1-1m21 1l1-1m21 1l0-1m22 1l1-1m20 1l2-1m20 1l2-1m20 1l1-2m21 2l2-1m20 1l1-1m21 1l1-2m21 2l1-2m21 2l1-1m21 1l1-1m21 1l1-1m21 1l1-1m21 1l0-1m22 1l1-1m20 1l2-1m-506 25l1-1m21 1l1-1m21 2l1-2m21 1l1-1m21 1l1-1m21 1l1-1m22 1l-1-1m22 1l1-1m21 2l0-2m22 2l0-2m22 1l0-1m22 2l0-2m22 2l0-2m21 2l1-2m21 2l2-2m20 2l1-2m21 2l1-2m21 2l1-2m21 1l0-1m22 2l1-2m21 1l1-1m21 1l0-1m22 1l1-1m20 1l2-1m-440 26l1-1m21 1l1-1m21 1l1-2m21 2l1-1m21 1l1-2m21 2l1-1m20 1l2-2m21 2l0-1m21 1l2-2m20 1l1 0m21 1l1-2m21 2l1-1m21 1l1-1m21 1l1-1m21 1l1-1m21 1l1-1m21 1l1-1m21 1l1-2m20 2l2-1m21 1l1-2m21 2l0-1m-417 26l1-2m21 2l1-2m21 2l1-1m21 1l1-1m21 1l0-1m21 1l2-1m21 1l0-1m22 1l0-2m21 3l1-3m22 2l0-1m22 1l0-1m21 1l1-1m21 1l1-1m21 1l1-2m21 2l1-1m21 1l1-1m21 1l1-1m21 1l0-1m21 1l2-1m21 1l0-1m21 1l1-1m-439 25l1-1m21 2l1-2m21 1l1-1m21 2l1-2m21 1l1-1m21 1l0-1m22 2l0-2m22 1l0-1m21 2l1-2m22 1l0-1m21 2l1-2m22 1l0-1m21 2l1-2m21 1l1-1m21 2l0-2m22 2l1-2m21 2l1-2m21 1l1-1m21 1l0-1m22 2l0-2m21 2l2-2m-461 27l0-2m21 1l1-1m21 1l1-1m21 2l1-2m21 1l0-1m22 1l0-1m22 1l1-1m21 2l0-2m21 1l2-1m21 1l0-1m21 2l1-2m21 1l2-1m20 1l1-1m21 1l1-1m21 1l1-1m21 1l1-1m21 1l1-1m21 1l1-1m21 1l0-1m22 2l0-2m21 1l2-1m20 1l2-1" stroke="#000" stroke-width="7.0" stroke-linecap="round" fill="none"/>
<path transform="translate(357.75 0.00) scale(.25)" d="M431 678l-1-2m22 2l1-2m21 2l1-1m21 1l1-1m21 1l1-1m20 1l2-1m21 1l1-2m21 2l1-1m21 1l0-1m22 1l0-2m21 2l1-1m21 1l1-1m21 1l1-2m21 2l1-1m21 1l1-2m21 2l1-1m21 1l1-2m21 2l0-2m22 2l0-2m22 2l0-2m22 2l0-2m21 1l2 0m20 1l1-2m-483 26l1-1m21 1l1-1m21 1l1-1m21 1l1-1m22 2l-1-2m22 1l1-1m21 1l1-1m20 1l2-1m20 1l2-1m20 2l2-2m21 2l0-3m22 3l0-2m21 1l1-1m21 1l1-1m21 1l1-1m21 2l1-3m21 3l1-3m21 2l0-1m22 1l1-1m21 1l0-1m22 1l1-1m21 1l0-1m22 2l0-2m-483 26l1-2m21 1l1-1m21 1l1-1m21 1l1-1m21 1l1-1m21 1l0-1m21 1l2-1m21 2l0-2m21 1l2-1m21 1l0-1m22 1l0-1m22 1l0-1m21 1l1-1m21 1l1-1m21 2l1-3m21 3l1-3m21 2l1-1m21 1l1-1m21 1l1-1m21 2l0-3m22 3l1-2m21 1l0-1m21 2l1-3m-789 27l0-2m306 2l1-2m21 2l1-2m21 2l1-2m21 2l1-2m21 1l1 0m21 1l0-2m22 2l1-2m21 2l0-2m22 1l0 0m22 1l0-2m22 1l0 0m21 1l1-2m21 2l1-2m21 1l1 0m21 0l1 0m21 0l1 0m21 1l1-2m21 2l1-2m21 2l1-2m21 2l0-2m22 2l0-2m21 2l2-2m21 2l0-2m-789 25l0-1m284 1l1-1m22 1l0-1m21 1l1-1m21 1l1-1m21 1l0-1m22 1l1-1m21 1l1-1m21 1l0-1m22 1l1-1m20 1l2-1m21 2l0-3m21 2l2-1m21 1l0-1m22 1l0-1m21 1l1-1m22 1l0-1m21 1l1-1m21 1l1-1m21 1l0-1m22 2l0-3m22 2l0-1m22 2l0-3m21 2l2-1m21 1l0-1m-789 24l0-1m241 1l0-1m21 1l1-1m21 1l1-1m21 1l1-1m21 1l1 0m21 1l1-2m21 1l1-1m21 2l1-2m21 2l1-2m20 1l2-1m21 1l0-1m22 2l0-2m22 2l0-2m22 1l0-1m21 1l1-1m22 1l0-1m21 1l2-1m20 1l1-1m21 2l1-2m21 1l1-1m22 2l-1-2m22 2l1-2m20 2l2-2m21 2l0-2m22 2l0-2m21 2l1-2m22 1l0-1m-812 25l1-1m218 1l2-1m21 1l0-1m22 1l0-2m21 2l1-1m22 1l0-1m21 1l1-1m21 1l1-1m21 1l0-1m22 1l1-1m21 1l0-2m22 2l0-1m22 1l0-1m22 1l0-1m22 1l0-2m22 2l0-1m21 1l1-1m22 1l0-1m21 1l1-2m21 2l1-1m21 1l1-1m21 1l1-1m21 1l1-1m21 1l0-1m22 1l0-2m21 2l2-1m21 1l0-1m22 1l0-1m21 1l1-1m-592 24l0-2m22 2l0-2m22 1l0-1m21 1l1-1m21 2l1-2m21 2l1-3m21 3l1-2m21 1l1-1m21 1l1-1m21 1l1-1m21 1l1 0m21 0l0-1m22 1l0-1m22 1l0-1m21 2l1-2m22 1l0-1m21 1l1-1m22 2l0-2m21 1l1-1m22 1l-1-1m22 2l1-2m21 2l1-2m21 2l1-2m21 1l1-1m21 2l0-2m22 1l0-1m22 2l0-2m22 2l0-2m-614 25l1-2m21 2l0-2m22 2l0-2m21 2l1-2m22 2l0-2m22 2l0-2m21 1l1 0m21 1l1-2m21 2l1-2m21 2l1-2m21 2l1-2m21 2l0-2m22 2l0-2m22 2l0-2m22 2l0-2m22 2l0-2m21 2l1-2m21 2l1-2m21 2l1-2m21 2l1-2m21 2l1-2m21 1l1 0m21 1l1-2m21 1l1 0m21 1l1-2m21 1l0 0m22 1l0-2m22 2l0-2m21 2l1-2m21 2l1-2m-658 24l0-1m22 1l0-1m22 2l0-2m22 2l0-2m22 2l0-3m22 3l0-2m22 1l0-1m22 1l0-1m21 2l1-2m21 2l1-2m21 2l0-2m22 2l1-2m21 1l1-1m21 2l0-2m21 1l2-1m21 2l0-2m22 2l0-2m22 2l0-2m22 2l0-2m21 2l1-2m22 2l0-2m21 2l1-2m21 2l1-2m22 1l-1-1m22 2l1-2m21 2l1-2m21 2l0-2m21 2l2-2m21 2l0-3m21 3l1-2m22 1l0-1m-658 24l1-3m21 2l0-1m22 1l0-2m22 2l0-1m21 1l2-1m21 1l0-1m21 1l1-1m21 1l1-2m21 2l1-1m21 1l1-1m21 1l1-1m21 1l0-1m22 1l1-1m21 1l0-2m22 2l0-1m21 1l2-2m20 2l2-2m21 2l0-2m21 2l1-1m21 1l1-1m21 2l1-3m21 2l1-1m21 1l1-1m21 1l1-1m21 1l1-1m21 1l1-1m21 1l1-1m21 1l0-1m22 1l0-1m21 1l1-2m22 2l0-1m21 1l1-1" stroke="#000" stroke-width="8.2" stroke-linecap="round" fill="none"/>
</g>
<rect x="383.0" y="76.25" width="229.05" height="154.45" fill="none" stroke="#262626" stroke-width="1.8"/>
<path d="M388.70,76.25v2.6M388.70,230.70v-2.6M424.91,76.25v2.6M424.91,230.70v-2.6M461.12,76.25v2.6M461.12,230.70v-2.6M497.33,76.25v2.6M497.33,230.70v-2.6M533.54,76.25v2.6M533.54,230.70v-2.6M569.75,76.25v2.6M569.75,230.70v-2.6M605.96,76.25v2.6M605.96,230.70v-2.6M383.00,104.26h2.6M612.05,104.26h-2.6M383.00,132.22h2.6M612.05,132.22h-2.6M383.00,160.18h2.6M612.05,160.18h-2.6M383.00,188.14h2.6M612.05,188.14h-2.6M383.00,216.10h2.6M612.05,216.10h-2.6" stroke="#262626" stroke-width="1.6" fill="none"/>
<text x="379.6" y="79.4" class="tk" text-anchor="end" textLength="23.0" lengthAdjust="spacingAndGlyphs">20<tspan class="dg" dy="-3.4">°</tspan><tspan dy="3.4">N</tspan></text>
<text x="379.6" y="107.4" class="tk" text-anchor="end" textLength="23.0" lengthAdjust="spacingAndGlyphs">10<tspan class="dg" dy="-3.4">°</tspan><tspan dy="3.4">N</tspan></text>
<text x="379.6" y="135.3" class="tk" text-anchor="end" textLength="17.3" lengthAdjust="spacingAndGlyphs">0<tspan class="dg" dy="-3.4">°</tspan><tspan dy="3.4">N</tspan></text>
<text x="379.6" y="163.3" class="tk" text-anchor="end" textLength="21.1" lengthAdjust="spacingAndGlyphs">10<tspan class="dg" dy="-3.4">°</tspan><tspan dy="3.4">S</tspan></text>
<text x="379.6" y="191.2" class="tk" text-anchor="end" textLength="21.1" lengthAdjust="spacingAndGlyphs">20<tspan class="dg" dy="-3.4">°</tspan><tspan dy="3.4">S</tspan></text>
<text x="379.6" y="219.2" class="tk" text-anchor="end" textLength="21.1" lengthAdjust="spacingAndGlyphs">30<tspan class="dg" dy="-3.4">°</tspan><tspan dy="3.4">S</tspan></text>
<path d="M536.8 90.5h13" stroke="#000" stroke-width="1.6"/>
<path d="M549.3 88.2L557.0 90.5L549.3 92.8Z" fill="#000"/>
<text x="528.9" y="102.8" class="lgr" textLength="47.8" lengthAdjust="spacingAndGlyphs">0.08 N m<tspan dy="-3.6" font-size="6.5">−2</tspan></text>
<text x="460.4" y="70.5" class="pt" textLength="23.8" lengthAdjust="spacingAndGlyphs">Year</text>
<text x="489.6" y="70.5" class="pt" textLength="12.1" lengthAdjust="spacingAndGlyphs">01</text>
<path d="M504.2 66.6h8.8" stroke="#000" stroke-width="0.9"/>
<text x="515.8" y="70.5" class="pt" textLength="12.1" lengthAdjust="spacingAndGlyphs">10</text>
<text x="398.8" y="72.2" class="pl" text-anchor="middle">(<tspan font-weight="bold">e</tspan>)</text>
<clipPath id="clipf"><rect x="383.0" y="253.9" width="229.05" height="154.45"/></clipPath>
<g clip-path="url(#clipf)">
<rect x="381.0" y="251.9" width="233.05" height="158.45" fill="#b9e0ec"/>
<g transform="translate(357.75 177.65) scale(.5)">
<path fill-rule="evenodd" fill="#cbe9f2" d="M46 148l32 0-11 2-4 4-11 4-1 2 7 4 2 2-1 4 3 2 16 6 18 2 8-1 2-3-14-8 1-2 13-6 6-6 20-1 50 3 8-2-6-2-29-4 359 0 0 145-4 0 0 3 0 5 4-1 0 166-468 0zM162 428l-3 2-1 6 21 4 10 0-13-10zM210 180l-1 0 19 9 10 0 6-3-6-3-11-3zM254 150l-7 2-2 2 15 1 10-1 4-2-7-2zM284 410l-1 0 9 3 8-1 0-2zM286 392l12 4 9 0-2-2-7-2zM292 264l-1 0 11 3 13-1-5-2zM320 272l10 3 10-1-8-2zM345 262l-12 4 9 3 16 1 12 0 9-4-12-4zM411 258l-2 0 3 3 8 3 8-2 2-2-8-3zM211 258l-2 0 2 2 23 5 14 6 10 3 12 0 7-4-2-6-3-2-18-2zM346 340l-1 0 7 4 12 3 16 0 5-3-19-4zM370 290l-3 2 1 3 16 4 5-1 18-6-21-3zM410 306l-1 0 7 3 8 1 7-2-7-2zM238 293l0 1 6 2 8 2 8-2-8-2z"/>
<path fill-rule="evenodd" fill="#e0f3f8" d="M184 148l44 0-4 3-12 2zM287 148l50 0 23 4 36-2 4-2 34 0 16 6 17-2-18-4 65 0 0 60-2 0 2 2 0 25-4 1 0 2 0 3 4 1 0 48-22 0-2 1-1 3 1 6 2 3 16 1 2 2 4-1 0 19-4 0 0 2 4 3 0 5-3 0-1 2 0 3 4 0 0 20-4 1-1 4 1 6 4 1 0 95-468 0 0-182 2 1 1-3-1-3-2 0 0-8 2-1-2 0 0-40 2 0 1-2 1-10-2-3-2 0 0-7 3-2-1-2-2-1 0-32 17 7-2 2 6 8 9 3 18 0 16-6 30 3 18-4 32-1 12 1 6 2 1 6 4 2 13 1 18-3 13-4 0-2-5-2-24-6-42-4-22 1-14 7-24 1-6-1-15-12-1-2 14-4 3-2 0-4 7-2 38 4 38 1 18-3 20 5 20 1 11-4 17-2 4-2 2-4zM316 162l8 3 3-1-1-2zM348 154l-1 0 2 10 6 12 12 8 8 3 3-2 8-17 4-14-30-1zM412 230l0 1 9-1zM450 188l-3 2 3 2 11 0zM464 380l-4 2 1 2 7 4 1-2-2-6zM126 398l-6 12 2 9 34 20 20 5 30 3 28 1 12-2-3-2-8-2-35-4-5-2-13-8-19-4-29-15-4-5-2-7zM190 252l-6 2 10 6 32 8 12 10 14 4 20 1 16 0-2-7 8-2 64 8 6-2 3-4 5-1 28-3 6 0-7 2 0 2 6 2 8 0 17-7 2-5 8-4 0-2-10-4-16-2-16 1-1 1 3 4-1 2-7 1-36-5-34 3-28-5-26 2zM232 170l-1 0 5 3 9-1zM416 238l-3 2 11 3 10-1-4-2zM458 355l-6 4-23 1 9 5 22 2 1-7-2-2zM210 376l0 2 4-2zM214 390l-4 2 1 2 18 3 10-3-15-4zM232 290l0 2 2 6 12 3 16 1 16-4-1-2-35-6-6-1zM326 336l-1 0 1 2 8 4 26 8 26 0 16-3 4-3-3-2-17-3zM358 286l-1 2-1 6 3 2 32 6 13 8 32 3 7-1 5-2-12-4-26-6-2-2 22-2 5-2-3-2-54-7-14 0zM430 390l-5 2 2 2 11 3 33 1-2-2-19-4zM239 414l5 2 12-2-10-1zM234 316l0 3 6 1 18-1 30 8 8 1 3-2-4-6-8-2-17-2-14 2zM354 410l-3 2 9 3 15 1 0-2-5-2zM360 312l2 3 18 4 12 0 10-3-2-2-8-2-26-1zM270 388l-1 2 12 6-4 4 5 2 38-2 7-2-7-4-14-4-20-2zM386 324l-5 2 0 2 5 2 16 3 17 0 2-3-17-4zM274 406l-11 6 3 2 28 2 12-1 7-3-3-2-20-5zM416 416l24 6 15 0-18-6z"/>
<path fill-rule="evenodd" fill="#fffcc6" d="M302 148l21 0 14 4-11 2-2 4-9-2zM464 148l42 0 2 2 0 2-5 2 0 2 1 3 4 3 1 2 5 2 0 21-4 0 0 1 0 2 4 1 0 12-4 1-1 4 0 4 5 1 0 19-5 0-1-3-28 1-4-4-6-17-1-15 3-4 5-12-2-24 6-2zM283 164l9-1 10 0 22 7 4-7 24 17 30 14 3 8 1 19 0 9-2 6 6 4-8 6-8 2-8 1-14-4-4 1-6 3-3 5-9 3-18-2-10-7-6-2-12 1-10 6-10 1-36-4-30-8-14 4-14 1-1 1 1 2 12 9 14 8 30 11 12 6-10 6-2-1-7 17 3 4 10 5 1 3-2 2 1 3 42 5 29 6 5 2 1 2-3 1-36-3-34 3-20-1-1 8 1 4 10 0 12-5 39 3 17 0 6-4 10-3 18 3 24 8 50 1 17-7-7-4-22-6 39-2 7-2 2-4 15 0 9-2-20-1-12 2-12-3 0-2 2-2-2-4 0-1 9-1 17 2 24 11 10 2 4 3 1 8-3 4-32 3-3 1 2 4-1 2-6 2-28 0 4 4 12 6 34 4 3 4-1 2-26 3-3 1 9 4 2 2-24 1-12 5-8 1-80-7-22 1-54-2-12-3-2-6-6-4 10-2 2-2-2-2-10-2-14 0-29-8-9-4-1-10-1-20-12 0-2-2-10-2-10-8-8-4-4 0-6-6 0-4-2-2 0-8-14-14-4-2-8 0-2-2-2-10-2-1-36-1-1 8-3 1 0-12 4-1 0-2-1-6-3 0 0-11 4 1 0 5 20 0 4-1 1-2-1-6-10-22 0-2 9-3-11-1-2 2-14-5 0-16 3 1 1 4 4 2 22 5 30-4 40 0 33-4 11 2 3 1 3 6 6 3 24 0 51-9-3-2-28-10 33-2 0-1-5-5zM176 322l-1 0 1 19 4 1 8-2 2-4-7-14zM312 374l2 2 6 2 44 3 17-1-3-2-14-2zM344 356l-1 0 3 2 6 2 8 0-8-4zM143 166l16 2 2 2-10 2-7 5-10 1-12-2-5-4-1-2zM510 246l0-1 4 0 0 5-4 1zM425 250l7-1 14 1 2 1 1 3-1 3zM481 258l7-1 20 0 5 1-3 1-1 3 1 3 4 0 0 12-4 0-2-2-20 0-4 1-4 24-4 2-10 1-2 3-12-1-12-3 0-2 8-4 0-2-6-3-42-7 4-1 22 0 12-6 10-2 4 2 24-11zM297 278l11-1 25 3 10 4 4 6-6 4 0 2 46 8 1 2-4 2-32 0-9 2 4 4 19 8 2 6 2 2 8 4 8 0-22 1-34-2-12-5 1-6-5-2-54-8-26 0 2-10 24 3 28-4 32-2 12-3 0-2-28-8zM245 286l7-1 22 1 18 2 6 2 0 2-4 1-14 1-22-4zM50 292l0-1 38 0 2 1 0 34-1 12-3 3-34 9-2 0-2-5-2 0 0-18 3-1 1-4 0-4-4-1 0-7 2 0 1-2-3 0 0-14zM513 312l1 0 0 9-3-1-2-2 1-5zM46 354l0-1 4 1-2 8-2-1zM150 354l4-2 1 2 6 2-17 0 2-2zM136 360l4-2 1 2 19 3 8 3 22 28 0 2-8 2-3 2 35 12 0 2-2 1-9 3 3 2 16 2 30 6 8-2 16-6 32-3 22-4 44 8 10 0 16-2 12 1 23 4 11 4-15 4 23 8 10 5 16 1 8 2 0-8 10-4 12 6 4-1 0 6-4-1-1 4 1 5 4 0 0 11-13 0-33-4-14 2 5 2-54 0-21-1-20 1-318 0 0-11 6 0 3-2 1-6 6-5-4-3-1-7-11-2 0-12 12 0 1-2 0-2-13-2 0-10 14 1 3-2 13 0 22 1 3 2 1 17 2-1 0-6 2-2 3 7-1-13 4-4 2 18 6 2 20 25 11 9-1 4 4 2 38 1 2-1-1-2 9-4-11-6 3 0 58 1 6 0 2-3 1-2-3-2-7-2-45-6-5-4-1-6-4-2-28-1-1-3 1-2-34-16-4-6-4-16 2-2 0-8zM308 440l-5 2 0 2 23 3 10-2 8-3-22-2zM382 438l-18 3 0 1 24 4 14-1 5-3-9-3zM456 450l-5 2 0 2 15 4 8-1 2-3-10-4zM320 452l-1 2 1 2 10 5 14 2 10-1 0-2-3-2-7-3-16-3zM212 368l4 2-4 1zM510 374l4 0 0 9-5-3zM46 382l0-1 16 3 1 2-17 1zM342 398l22-1 51 4 21-2 36 4 14-2 14 4 14-2 0 23-4 0-2 4-6-1-10-11-4-2-10 1 1 3-3 1-50-8-36 0-42-7-6 0-14 4-18-4 2-2 26 0zM215 400l33 0 10 2 4 2-8 5-22 0-14-3-4-4zM46 444l6 2 0 2-6 2zM152 444l2 0 5 2-9 3 0-3z"/>
<path fill-rule="evenodd" fill="#fee9a6" d="M294 166l16 2 12 4 6 5 26 7 27 10-2 2-9 24-5 8-7 6-8-6-2 0-2 2 1 2 3 3 10 0 4 4 2-2 4 1 6 0 1 2-9 4-18-3-20 3-44-7-10 1-4 4-30 3-8-1-22-5-38 3-18-1 4 10 6 0 25 15 33 14 7 4-3 4-13-6 2 6-1 6-3 8-7 8-10 6-22 4-18-7-22-15-8-9-5-15-2-2-19-6-8-4-3-4-1-6-6-18-1-8 2-10 6-10-2-2 2-3 4-5 15-2 32 3 30-3 5 0 8 6 8 2 15 2 12 0 70-12 1-2-4-2-16-6 19-4 1-2-2-6zM320 192l-2 3 1 1 9 5-5-7-1-3zM510 170l4 1 0 7-4-1zM512 216l2 0 0 5-4-2 0-2zM46 238l0-1 2 0 0 4-2 0zM510 270l4-1 0 5-4-1zM308 280l6 0 12 2 4 0 4 4-4 2-12-1-6-3zM265 288l11 0 5 2-9 0zM46 296l2 0 2 2-2 6-2 0zM283 304l23 0 18 2 3 2-4 6 2 2-15 1-20-2-19-5-2-2zM325 318l24 2 4 2-2 4 5 4-10 2-9-2-4-2 4-4zM228 326l24 2 6 3-18 4-19-1 0-2zM46 332l0-1 2 0 0 4-2 0zM414 338l28 0 4 0 2 2-8 3-10 0-13-3zM249 352l17-1 50 5 34 9 52 9 8 3 7 5-17 7-48-3-12-2-1-2 37 2 18-2-6-4-16-5-70-3-6 0-1 4-4 4 4 4-16 0-6-2 0-2-16-6-2-2 0-6-6-10zM377 358l5-1 16 1 10 4 0 2-20-1zM138 380l4 0 4 2 11 12 1 5-8 0-16-5-2-6 2-4zM355 400l15 0 56 4 22-1 14 1 2 2-16 6-56-2-33-6-5-2zM230 402l14 0 5 2-11 2-8-2zM171 406l1-1 6 1 18 4-2 3-8 1-5 4-11 2-1-10zM323 418l17 0 10 2 1 2-21 2-16-2zM46 422l12-1 2 5-4 3-3-1-7-2zM100 422l16 1 6 23 1 14 9 2 0 2-14 1-22-3 17-2-9-30zM357 424l51-1 13 1 0 2-5 2-2 4-12 2-34-2-6-2zM278 426l8-1 12 0 40 9-14 2-34-1-9 3-21 1-25-3-13-4 1-2 5 0 30 3 14 1 4-2-1-4zM424 438l15 2 0 2-2 2 1 4-8 3-11-3 6-4-3-4zM215 452l15 0 18 2 14 7 21 5-36 0-7-1-13-6-12-5zM296 456l4 0 6 2-6 1zM370 456l12-1 28 2 16 3 4 4-8 2-17-2-28-4-7-2zM492 456l4 2 18 0 0 8-20-6-2-2z"/>
<path fill-rule="evenodd" fill="#fdd891" d="M297 170l9 0 11 4 0 2-8 4 4 8-9 3-10-3-5-4 10-4 1-2-5-6zM344 186l12 0 23 8-23 30-4 4-6-2-4 4 1 6-7 3-52-5-26 3-44-3-30 5-30 0 0 1 5 6-1 3-9 5-17 14-8 3-18-4-16-8-4-19-1-6 3-10 9-18-4-2 4-6 5-2 8 0 30 5 74 5 88-12 28 10 1-2-7-8 0-5zM160 254l2-1 4 1 14 10 45 18 2 2 0 2-11-5-13 1 5 6 1 6-2 8-4 6-11 6-16 5-12-4-13-9-12-14-6-10 3-4 10-4 34 0-2-4-2 0-14-10zM285 308l15 0 5 2 1 2-17 0-5-2zM224 330l10 0-4 3zM262 356l8-1 22 1 18 4 8 4-8 2-32-2-12-3zM370 402l30 2 10 2-12 2-18-1-9-3zM377 428l3-1 12 1 8 0 1 2-15 1z"/>
<path fill-rule="evenodd" fill="#fdc97e" d="M348 190l10-1 19 5-27 28-5 2-11 11-52-4-24 2-36-2-24 2-16 4-30 0 0 2 2 5-10 7-20 15-6 3-18-6-10-7-2-20 6-18 7-10-1-2-3-2 7-6 26 5 78 5 20-1 38-5 32-3 34 7 1-2-5-6 0-2zM179 268l7 1 30 11-16 2-2-2-4 0-2-2-4 0zM176 288l10-1 11 4 3 6 1 3 0 4-3 4-12 6-12 3-7-3-9-6-1-2 9-10z"/>
<path fill-rule="evenodd" fill="#fcb565" d="M356 194l11 0-25 30-10 7-56-3-22 3-36-2-20 1-18 5-30 0 0 1 2 4-12 8-22 19-17-5-10-6-1-2-1-9 0-7 8-18 8-10-5-6 6-2 19 3 91 4 20-1 64-7 32 7 2-4-2-3zM186 272l4 0 7 2 11 6-14-1-4-3z"/>
<path fill-rule="evenodd" fill="#f9a059" d="M292 204l16 0 22 6 10 6 1 6-5 5-5 1-63-2-20 2-47 0-25 4-18 0-16-2 6 4 0 4-12 9-18 17-6 1-8-3-14-8-1-7 1-6 10-19 10-10-2-2-6-4 2-1 110 6 32-1zM338 210l0-1 3 1 0 2z"/>
<path fill-rule="evenodd" fill="#f78b4f" d="M106 208l0-1 2 0 100 6 30 0 11 1 7 4 8 1 12-2 2-1-3-4 3-1 30-3 24 5 5 3 2 4-3 5-6 2-68-4-22 2-40 1-24 3-48-4 0 1 4 3 8 0 6 6-14 9-14 15-8 2-12-3-8-5 0-3 0-6 10-15 12-13-1-4z"/>
<path fill-rule="evenodd" fill="#f27447" d="M110 210l34 0 22 1 48 5 17 4-4 2-51 5-18 0-32-3-1 0 3 4 4 2 8 0 0 1-15 9-18 14-9 1-8-4 0-5 7-4 11-14 10-8zM300 212l30 3 4 2 2 3-2 4-4 1-38-2-5-3 4-6z"/>
<path fill-rule="evenodd" fill="#ea5d3d" d="M122 212l32-1 33 3 20 4-3 2-23 4-31 1-29-5-4-4zM306 216l17 0 7 2 3 2-3 2-25-2-2-2z"/>
<path fill-rule="evenodd" fill="#dc3a2c" d="M139 212l27 1 19 3 3 2-10 4-18 2-22-2-12-4 1-2 2-2z"/>
<path fill-rule="evenodd" fill="#c62127" d="M141 214l23 0 9 2 3 2-4 2-14 2-17-2-5-2 0-2z"/>
</g>
<polygon points="383.0,278.2 387.1,279.1 392.2,278.4 397.6,279.9 402.8,280.8 408.1,280.9 411.6,282.4 414.1,284.9 418.6,288.6 423.8,292.1 429.1,293.1 433.4,296.6 436.9,300.1 437.8,304.4 439.6,309.6 444.8,311.5 451.8,315.9 458.8,318.5 465.9,318.6 471.1,321.1 474.6,324.6 475.4,331.6 473.8,338.6 469.4,343.1 465.9,346.6 465.4,352.6 464.1,359.6 462.4,366.6 458.9,372.9 451.8,375.5 446.6,378.1 443.1,381.6 442.1,387.6 437.8,393.0 433.4,400.0 429.9,407.0 429.1,408.4 384.6,408.4 385.2,401.6 387.1,391.2 388.8,379.0 389.6,370.2 388.8,361.5 383.6,358.0 383.0,358.0" fill="#fff" stroke="#969696" stroke-width="1.2"/>
<polygon points="520.0,253.9 520.0,255.4 521.4,257.6 521.0,260.6 520.0,263.2 518.8,266.8 518.0,269.4 519.2,273.8 521.4,277.2 524.0,279.9 527.5,283.9 530.1,288.6 533.6,292.1 537.1,295.2 539.8,297.1 543.2,296.6 547.6,295.6 552.0,295.2 557.8,294.9 560.6,293.8 567.1,292.1 572.0,293.8 575.4,297.8 580.2,298.6 582.6,301.1 581.9,307.6 582.6,314.1 583.5,317.6 586.8,322.6 590.0,329.1 590.9,335.6 591.6,342.1 589.2,348.6 587.5,355.2 588.5,360.1 590.9,366.6 593.4,374.9 595.8,383.1 598.2,391.2 600.6,397.8 603.1,402.6 606.4,406.8 608.8,406.9 612.0,406.1 612.0,253.9" fill="#fff" stroke="#969696" stroke-width="1.2"/>
<polygon points="383.0,253.9 388.8,253.9 388.2,256.6 385.8,259.1 383.0,258.9" fill="#fff" stroke="#969696" stroke-width="1.2"/>
<polygon points="388.9,256.9 393.2,256.6 393.4,258.2 389.1,258.6" fill="#fff" stroke="#969696" stroke-width="1.2"/>
<g fill="#fff" stroke="#999" stroke-width="0.8"><circle cx="402.2" cy="259.1" r="0.9"/><circle cx="403.8" cy="262.1" r="0.9"/><circle cx="404.9" cy="265.1" r="0.9"/><circle cx="406.1" cy="268.1" r="0.9"/><circle cx="408.2" cy="271.1" r="0.9"/><circle cx="409.8" cy="275.1" r="0.9"/></g>
<path transform="translate(357.75 177.65) scale(.25)" d="M118 337l12-6m10 6l12-6m10 7l12-8m10 7l12-6m9 6l13-6m10 6l11-6m11 6l11-6m11 6l10-6m11 6l12-6m10 6l12-6m10 7l12-8m10 7l12-6m11 5l10-4m11 5l12-6m10 6l11-6m10 6l13-6m9 6l13-6m9 6l13-6m10 6l11-6m10 6l12-6m10 5l12-4m10 4l12-4m10 5l12-6m10 5l12-4m-516 30l11-7m11 7l11-7m11 6l11-5m11 6l11-7m11 7l11-7m11 6l10-5m11 6l12-7m11 6l11-5m11 5l11-5m11 5l10-6m11 6l12-5m10 6l11-7m11 7l12-7m10 6l11-5m11 5l11-5m10 5l13-6m10 6l11-6m11 7l11-7m10 6l12-5m11 6l11-7m10 7l12-7m10 7l12-7m11 7l11-7m11 7l10-7m-514 32l10-8m11 7l11-6m11 6l11-6m11 6l11-7m11 8l11-8m11 8l10-8m12 7l11-7m10 8l12-8m10 8l12-8m10 7l12-7m10 8l12-9m10 9l12-8m10 7l11-7m11 7l11-7m11 7l11-7m12 7l10-7m12 7l9-7m13 8l9-8m12 7l11-7m11 7l11-7m12 8l9-8m13 7l9-6m12 6l10-6m12 7l10-8m-514 32l10-8m12 8l10-8m11 8l11-8m12 9l10-9m11 8l11-8m12 9l9-10m13 10l9-10m12 9l10-8m12 8l10-8m12 8l10-8m12 9l10-9m12 8l10-8m12 8l10-8m13 8l8-7m13 8l9-10m12 10l11-9m11 8l11-8m12 8l9-8m12 9l11-10m12 10l9-9m12 9l10-10m12 9l10-7m12 8l10-9m13 9l8-9m13 9l10-9m-426 34l8-11m15 11l7-11m14 11l8-11m15 11l6-11m15 10l8-9m14 10l8-11m14 11l8-11m14 11l8-11m14 11l8-11m14 11l8-11m13 11l9-11m14 11l7-11m15 11l7-11m14 11l8-11m14 12l9-12m13 11l8-11m14 10l8-9m15 10l6-11m15 12l8-13m14 12l8-11m13 11l9-11m-421 36l1-12m21 13l0-14m21 13l2-12m20 13l2-14m21 14l0-14m22 14l0-14m21 14l2-14m20 14l1-14m20 14l3-14m20 14l1-14m21 14l1-14m21 14l1-14m21 14l0-14m22 13l1-12m20 13l2-14m21 14l1-14m21 14l0-14m22 13l0-12m21 13l2-14m20 13l2-12m20 13l1-14m-305 37l-4-11m25 12l-3-13m26 12l-5-12m27 12l-5-12m26 12l-3-11m25 12l-3-13m25 13l-4-13m26 12l-3-11m24 11l-2-11m25 12l-3-13m25 12l-3-11m24 12l-2-13m24 13l-3-13m26 13l-4-13m-194 35l-3-10m69 10l-4-10m71 10l-6-10" stroke="#000" stroke-width="9.0" stroke-linecap="round" fill="none"/>
<path transform="translate(357.75 177.65) scale(.25)" d="M366 484l-2-7m331 7l-2-7m-327 30l-3-5m26 7l-4-9m25 9l-3-9m25 9l-3-9m25 9l-3-9m47 9l-3-10m25 10l-3-9m47 9l-3-9m25 9l-4-9m48 9l-4-9m25 9l-2-10m25 10l-4-9m26 8l-4-7m-304 31l-2-7m24 7l-2-7m24 7l-2-7m24 7l-3-7m24 7l-1-7m23 7l-2-7m25 7l-3-7m25 7l-3-7m25 7l-3-7m23 7l0-7m23 7l-2-7m24 7l-2-7m24 8l-2-9m24 8l-2-7m-218 30l0-5m307 226l-1-4" stroke="#000" stroke-width="7.2" stroke-linecap="round" fill="none"/>
<path transform="translate(357.75 177.65) scale(.25)" d="M321 482l0-3m22 2l0-2m373 3l0-3m22 2l-1-2m23 2l-1-2m23 3l-1-3m23 3l-1-3m23 2l-1-1m22 2l0-3m-526 26l0-1m22 1l0-2m373 3l-1-3m22 2l1-1m22 2l-1-3m23 2l-1-1m23 1l-1-1m23 2l-1-3m22 2l0-1m22 2l0-3m22 2l0-1m-548 25l0-2m22 3l0-3m329 3l-1-3m23 3l-1-3m23 3l-1-3m23 2l-1-2m23 3l-1-3m23 3l-1-3m23 2l-1-1m22 2l0-3m22 2l0-1m22 1l0-1m-504 26l-1-3m23 3l0-3m22 3l-1-3m44 3l1-3m22 3l-1-2m23 2l-1-2m23 2l-1-3m23 3l-1-2m23 2l-1-2m22 2l0-3m22 3l0-2m22 2l-1-2m22 2l1-2m22 2l-1-3m23 3l0-2m21 2l1-2m21 2l1-3m22 3l-1-2m23 2l-1-2m23 3l-1-4m22 3l0-3m23 2l-2 0m23 1l0-2m-438 26l-1-1m23 1l-1-2m23 1l-1 0m23 1l-1-1m23 1l-1-2m22 2l0-1m22 0l1 0m21 0l0 1m23 0l-2-1m23 1l0-2m22 2l-1-2m23 2l0-1m21 1l1-1m22 1l0-2m21 2l1-2m21 2l1-1m21 1l0-2m23 2l-1-2m22 3l0-3m23 2l-2-2m23 2l0-1m-416 26l0-1m21 0l1 1m21 0l0-1m23 1l-2-1m23 1l0-1m22 1l0-1m21 1l2-2m21 2l0-1m22 1l-1-2m23 2l0-1m22 1l-1-2m23 2l-1-2m23 3l-1-3m22 3l1-3m22 2l-1-2m23 3l-1-3m23 3l-1-3m22 2l0-1m22 1l1-1m21 2l0-3m22 2l0-2m-438 26l-1-1m22 2l0-2m23 2l-1-2m23 2l-1-2m21 1l2 0m21 1l0-2m22 1l0 0m22 1l0-2m22 1l0-1m22 2l0-3m22 3l-1-2m23 2l0-2m21 1l1-1m21 2l1-2m21 1l1-1m21 2l1-2m21 2l0-2m22 1l0-1m23 1l-2-1m23 1l0-1m21 1l1-1m-460 27l0-2m21 0l1 1m22 0l-1-1m23 1l-1-1m21 1l2-1m21 2l0-3m22 3l1-3m21 3l0-3m22 2l0-1m23 1l-2-1m23 1l0-1m22 1l-1-1m24 2l-2-3m22 3l1-3m21 3l1-3m21 3l1-2m21 2l0-3m22 3l0-2m22 1l0-1m22 2l0-3m22 3l0-3m22 3l0-3m-481 28l-2-2m22 2l1-2m22 2l-1-1m22 1l1-1m21 2l1-3m22 2l-1-2m22 2l0-1m22 1l0-1m22 1l0-1m22 1l0-1m22 1l0-2m23 2l-2-2m23 2l-1-2m23 2l0-1m22 1l-1-1m23 0l-1 0m23 1l-1-1m22 2l1-3m21 3l1-3m21 3l0-3m22 3l0-3m22 2l0-2m22 3l0-3m-482 27l-1-3m23 2l-1-1m22 1l1-1m21 1l1-1m22 1l-2 0m23 0l1-1m21 2l0-2m22 1l1-1m21 2l0-3m22 3l0-2m21 1l2-1m22 1l-2 0m22 0l1-1m22 1l0-1m22 2l-1-3m24 3l-3-2m23 2l0-3m23 2l-1-1m22 1l1-1m21 2l0-2m22 2l0-2m22 2l0-3m22 2l0-1m-483 25l1-1m21 2l1-3m21 3l1-2m21 1l1-1m21 1l1-1m22 2l-1-3m22 2l0-1m22 1l0-1m22 1l0-1m23 1l-2-1m23 2l0-2m22 1l0-1m22 2l0-3m21 2l1-1m22 2l-1-3m23 2l-1-1m23 1l-1-1m22 1l0-1m22 2l0-2m23 2l-2-2m23 1l0-1m22 2l0-2m21 1l1-1m-789 26l-1-2m308 1l-1 0m22 0l1 0m22 1l-1-2m22 2l1-2m21 2l0-2m22 1l1 0m21 1l1-2m20 2l2-2m21 2l0-2m22 2l0-2m22 1l-1 0m23 0l-1 0m23 1l-1-2m23 2l0-2m22 2l-1-2m22 2l1-2m22 3l-1-4m22 3l0-2m23 2l-1-2m22 2l0-2m21 2l2-2m21 2l0-2m22 3l0-4m-789 26l0-1m285 1l0-1m21 1l1-1m22 2l-1-2m23 1l-1-1m23 1l-1-1m23 2l-1-2m23 1l-1-1m22 1l1 0m21 0l0-1m22 1l0-1m22 1l0-1m22 2l0-3m21 2l1 0m22 0l-1-1m22 2l1-3m21 2l1-1m44 1l-1-1m23 1l-1-1m21 1l2-1m21 1l0-1m23 1l-1-1m22 2l0-3m22 3l0-3m-789 26l0-2m241 1l0-1m23 2l-2-2m23 2l0-2m22 1l-1-1m23 2l-1-2m23 1l-1 0m23 0l-1-1m22 2l1-2m21 1l1-1m21 1l1-1m21 1l0-1m23 1l-1 0m22 1l0-3m21 2l1 0m21 1l1-2m22 1l0-1m22 1l0-1m21 2l1-3m22 3l-1-3m23 3l-1-2m22 2l1-3m22 4l-1-4m22 3l0-2m22 1l0-1m22 2l0-2m22 2l0-2m22 0l-1 1m-810 24l0-1m219 2l0-3m22 2l0-2m22 2l0-1m22 1l0-1m21 1l1-1m21 1l1-1m22 1l-1-1m23 1l-1-1m22 1l0-1m22 1l0-2m21 3l2-3m21 2l0-1m22 1l0-1m22 1l0-1m22 1l0-1m22 1l0-1m21 0l1 0m21 1l1-1m21 1l1-1m21 2l1-3m22 2l-1-1m22 1l1-1m21 1l0-1m22 2l1-3m21 2l0-1m22 2l0-3m22 3l0-3m22 3l0-3m-593 25l2-2m21 2l0-2m22 1l0-1m22 1l0-1m22 1l0-1m21 1l1-1m21 1l1-1m21 2l1-2m21 2l0-2m22 2l1-2m21 2l0-2m22 1l0-1m22 2l0-2m21 2l2-2m21 1l0-1m21 2l1-3m22 3l0-2m22 2l0-3m22 3l-1-2m22 2l1-3m20 3l2-2m21 1l1-1m21 2l1-3m21 3l1-2m21 2l0-2m22 2l0-2m22 2l0-3m22 2l0-1m-615 26l2-4m21 3l0-2m22 2l0-2m21 2l2-2m21 1l-1 0m23 1l0-2m22 1l-1 0m22 1l1-2m22 1l-1 0m23 1l-1-2m21 2l2-2m21 2l0-2m22 1l0 0m23 1l-2-2m23 2l0-2m21 2l2-2m20 3l1-4m20 3l3-2m20 2l1-2m21 3l1-4m21 3l1-2m21 2l1-2m21 3l0-4m22 3l0-2m22 2l0-2m22 2l0-2m21 2l2-2m21 1l0 0m22 1l0-2m23 2l-2-2m-658 25l2-3m21 2l0-1m21 2l2-2m21 2l0-2m22 2l0-2m22 2l-1-2m22 2l1-2m21 1l1-1m22 1l-1-1m22 1l1-1m22 1l-1-1m22 2l1-2m21 2l0-2m22 2l0-2m22 2l0-3m22 2l0-1m21 1l2-1m21 1l0-1m22 2l-1-2m23 2l0-2m22 2l0-2m21 2l1-3m21 3l1-3m22 3l-1-2m22 2l0-2m22 2l0-2m22 1l0-1m22 1l0-1m22 2l0-2m22 2l-1-2m23 2l-1-2m-657 23l0-1m22 1l0-1m22 1l0-1m22 1l-1-1m23 1l0-2m21 2l1-1m21 1l1-1m22 1l0-1m22 2l-1-3m23 1l-1 1m22 0l1-1m21 1l1-1m21 1l0-2m22 2l0-2m22 3l0-3m21 2l1-1m22 1l0-2m21 2l1-1m22 1l0-1m22 1l-1-1m22 1l1-2m21 2l1-1m22 1l-1-1m22 2l1-3m20 2l2-2m22 2l-1-1m22 1l1-1m20 1l2-1m21 1l0-2m22 2l0-1m22 2l0-3m21 3l1-3" stroke="#000" stroke-width="7.0" stroke-linecap="round" fill="none"/>
</g>
<rect x="383.0" y="253.9" width="229.05" height="154.45" fill="none" stroke="#262626" stroke-width="1.8"/>
<path d="M388.70,253.90v2.6M388.70,408.35v-2.6M424.91,253.90v2.6M424.91,408.35v-2.6M461.12,253.90v2.6M461.12,408.35v-2.6M497.33,253.90v2.6M497.33,408.35v-2.6M533.54,253.90v2.6M533.54,408.35v-2.6M569.75,253.90v2.6M569.75,408.35v-2.6M605.96,253.90v2.6M605.96,408.35v-2.6M383.00,281.91h2.6M612.05,281.91h-2.6M383.00,309.87h2.6M612.05,309.87h-2.6M383.00,337.83h2.6M612.05,337.83h-2.6M383.00,365.79h2.6M612.05,365.79h-2.6M383.00,393.75h2.6M612.05,393.75h-2.6" stroke="#262626" stroke-width="1.6" fill="none"/>
<text x="379.6" y="257.1" class="tk" text-anchor="end" textLength="23.0" lengthAdjust="spacingAndGlyphs">20<tspan class="dg" dy="-3.4">°</tspan><tspan dy="3.4">N</tspan></text>
<text x="379.6" y="285.0" class="tk" text-anchor="end" textLength="23.0" lengthAdjust="spacingAndGlyphs">10<tspan class="dg" dy="-3.4">°</tspan><tspan dy="3.4">N</tspan></text>
<text x="379.6" y="313.0" class="tk" text-anchor="end" textLength="17.3" lengthAdjust="spacingAndGlyphs">0<tspan class="dg" dy="-3.4">°</tspan><tspan dy="3.4">N</tspan></text>
<text x="379.6" y="340.9" class="tk" text-anchor="end" textLength="21.1" lengthAdjust="spacingAndGlyphs">10<tspan class="dg" dy="-3.4">°</tspan><tspan dy="3.4">S</tspan></text>
<text x="379.6" y="368.9" class="tk" text-anchor="end" textLength="21.1" lengthAdjust="spacingAndGlyphs">20<tspan class="dg" dy="-3.4">°</tspan><tspan dy="3.4">S</tspan></text>
<text x="379.6" y="396.9" class="tk" text-anchor="end" textLength="21.1" lengthAdjust="spacingAndGlyphs">30<tspan class="dg" dy="-3.4">°</tspan><tspan dy="3.4">S</tspan></text>
<path d="M536.8 268.1h13" stroke="#000" stroke-width="1.6"/>
<path d="M549.3 265.8L557.0 268.1L549.3 270.4Z" fill="#000"/>
<text x="528.9" y="280.4" class="lgr" textLength="47.8" lengthAdjust="spacingAndGlyphs">0.08 N m<tspan dy="-3.6" font-size="6.5">−2</tspan></text>
<text x="460.4" y="248.2" class="pt" textLength="23.8" lengthAdjust="spacingAndGlyphs">Year</text>
<text x="489.6" y="248.2" class="pt" textLength="12.1" lengthAdjust="spacingAndGlyphs">11</text>
<path d="M504.2 244.2h8.8" stroke="#000" stroke-width="0.9"/>
<text x="515.8" y="248.2" class="pt" textLength="12.1" lengthAdjust="spacingAndGlyphs">20</text>
<text x="398.8" y="249.9" class="pl" text-anchor="middle">(<tspan font-weight="bold">f</tspan>)</text>
<clipPath id="clipg"><rect x="383.0" y="431.55" width="229.05" height="154.45"/></clipPath>
<g clip-path="url(#clipg)">
<rect x="381.0" y="429.55" width="233.05" height="158.45" fill="#7ab1d4"/>
<g transform="translate(357.75 355.30) scale(.5)">
<path fill-rule="evenodd" fill="#90c3dd" d="M150 148l52 0-6 5-20 3-16-1-6-3zM277 150l4-2 233 0 0 318-468 0 0-308 15 4 19 4 52-1 22-3 46 3 12-3 0-5 2-1 42 1 7-1zM98 152l6 0 5 2z"/>
<path fill-rule="evenodd" fill="#a5d3e6" d="M160 148l20 0 2 2-2 2-12 1-7-3zM285 150l2-2 227 0 0 318-468 0 0-303 32 5 66 1 20-3 22 2 20 0 10-2 4-6 5-2 35 2 16-1 4-2z"/>
<path fill-rule="evenodd" fill="#b9e0ec" d="M290 148l224 0 0 318-468 0 0-297 12-1 30 7 14-4 30 1 34 8 8 0 5-2 0-4 3-1 22 0 20-3 4-2-2-6 4-2 34 2 18-1 4-3zM322 270l6 3 32 5 16-1 4-3-10-4-40-1zM272 272l3 2 12 2 16 0-2-2-10-2z"/>
<path fill-rule="evenodd" fill="#cbe9f2" d="M294 148l220 0 0 318-468 0 1-293 13-1 20 5 30 4 5-1-1-4 18 0 48 9 8-1 3-2 2-4 3-1 22 2 22-1 28 5 3-1-23-8-15-10 3-2 4 0 24 3 18-1 7-4zM362 260l0 4-2 2-12 2-32-2-25 2-45-6-4 1-1 1 15 8 8 3 50 7 22-3 30 2 14-1 14-4 0-5 8-2 6-5-2-2-6-1-28-2zM180 446l-2 2 34 11 12-2 2-3-9-4-19-5zM232 280l-1 0 6 1zM360 360l-12 2 22 6 16-2 0-2-6-2zM234 315l-2 5 0 3 6 0 5-3 0-2z"/>
<path fill-rule="evenodd" fill="#e0f3f8" d="M296 150l1-2 217 0 0 13-4-2 0 3 0 4 4-1 0 33-4-1 0 1 0 3 4 0 0 265-280 0 1-2-2-4 7-4-3-2-35-12-16-3-4 1-3 2-9 4 0 2 25 10-5 3-22-2-5 1 0 4 5 2-122 0 0-291 14-1 57 11 13-1 8-3 42 7 28-2 30 4 14 0 28-4 2-2-9-8-1-6 19-8 2-2zM374 254l-16 4-3 2-1 4-10 2-58-3-30-4-44-1-22-2-3 0 5 4 0 4 2 2 17 6 8 6 9 4 18 4 7-2 5-4 16 1 14 2 6 1 5 4 19 6 5-2-3-4 8-3 52-1 22-5 3-1 4-7 7-3 10 1 8 3 3 2-1 6 6 3 9-1 0-6-3-2-10-6-22-5-14-5zM396 238l-10 2 1 2 3 2 8 2 8 0 9-2 0-2-5-2zM52 378l-3 2 13 4 0-5zM216 312l-4 2 0 2 12 11 1 4 19 1 11 4-3 3-14 1 1 2 21 5 13 5 23 6 64 10 16 4 7 4 16 2-1-2-11-4 12-6-7-4-24-5-30 1-26-6-3-2 1-2-1-2-19-10-18-8-4-2-1-4-6-4-27-7zM258 299l-1 1 4 2 28 8 15 3 4-1 3-2-7-4-10-2zM414 300l-1 0 2 2 5 2 14 5 10 0 5-3-3-2-10-3zM222 352l-4 2 44 11 10 1 5-2-7-4-22-6zM360 390l-7 2 0 2 23 8-12 4 3 2 13 3 12-1 22-2 7-2 1-2-32-7-18-7zM300 320l-4 2-1 2 17 6 40 3 10 3 2 6-2 1-22 1 4 4 10 4 12 1 7-3 4-4 20-4-73-21-12-1zM439 326l-2 0 3 2 14 6 0 3-3 1 3 2 9 2-1-5-4-1 7-4-10-4zM222 388l2 3 27-1-17-3zM238 370l-1 0 2 2 11 3 8 1 3-2-7-2zM264 394l-1 0 9 3 14-1zM464 420l-3 2 5 3 15 1-3-5zM224 406l-2 2 1 2 15 5 32 2 6 0 5-3-11-4-17-4zM203 262l7 0 11 2-3 2zM273 346l11 0 6 2z"/>
<path fill-rule="evenodd" fill="#fffcc6" d="M299 150l2-2 159 0 11 4-4 2 3 36-2 8-26 1-16-5-18-1-20 1-4 2-2 8-1 32-4 2-1 2 12 8 22 2 26-4 10 0 1-2-3-3-6 0-3-3 33-22 2-14 38 0 6 2 0 102-4 0 0 2 4 2 0 46-4 0 0 3 4 0 0 64-4 0-1 3 1 4 4 0 0 14-4-1 0 1 4 2 0 4-4 2-2 6-11 0 17 2 0 6-31 0-27-5-22 3-28 0-2 0 0 2-63 0-33-9-64-4-15-5-22-10 65-6 50 5 2-1 0-2-5-2 1-1 18 2 5-1 2-2-6-4-28-6-9-6-21-6 5-1 30 0 54 12 34-4 26 1 10 2 18 8 22 3 2-3-1-3 9-4 2-7-4-7-4-3-10 1-2-3-34-4-8 1-6 2-14-1-15-4-1-2 14-2-10-3-14-2-34 1-14 5-1 1 9 6-6 1-14-3-16-8-26-8-1-2 4-6 12-4 1-2-3-2 1-2 2 0 55 8 23 9 10 3 40 1-2-3-17-6-2-2 8-4-2-2-27-10 1-2 17-1 18 6 25 1-1-2-8-2-38-5 1-3 21-4-3-2-35-7-56-19-8-10 35-1 8-3-26-12 1-2 2 0 46-1 32-6 40 9 18-9 3-5-1-10-4-3-22-1-2 3-8-2-24-3-26-9-14-1-8 0-17 8-3 5-8 2-78-8-38-1-34-4-14 0 0 2 10 10 20 10 11 6-9 2 6 11 10 3 0 2-3 2-36 20 1 6 11 20 15 15 2-4 10 4 0 1-5 2 0 2 4 4 11 6-2 2-14-1-6 1-5 4 0 6 4 4 27 6 4 2-34 3-6 1 0 2 6 4 26 9 32 4 8 3-10 2-46-3-26-6-8 0-8 9 6 4-1 2-6 2-3 6-6 4 2 5 13 5-19 1-3 3 0 6-95 0 3-3-13-2-2-4-6-2 1-36 12-1-13-2 0-31 6 1-4 4 14 6 2-3 34 7 3 4 1 16 2 0 0-6 4-8 4-4 6-12 8-8 2-4 0-8 2-4 8-8 8-4 4 0 6-4 4 0 6-8 1 2 1 1 0-3-2-2 2-2 0-4 2-2 0-8 2-2-12 0-2-2-10-2-10-8-8-4-4 0-6-6 0-4-2-2 0-8-14-14-4-2-8 0-2-2-2-12-4-5-38-2 0-73 16 0 58 11 30-1 34 4 30 0 32 3 20 0 22-7-6-10 4-8 10-6zM428 446l-1 2 3 2 22 8 22-1 20 1 1-2-3-1-20 1-32-11-6 0zM444 430l-2 1-4 6 3 1 23 2 4-2-18-7zM374 302l3 2 7 3 8-1 1-2-7-2zM396 296l-2 2 4 3 24 8 20 4 16 0 7-7-2-2-23-5zM408 317l-1 1 1 3 24 9 5 4 4 5 7 4 12 4 18 3 4-1 2-4 2-11-1-8-3-4-4-3-10-2-1 9-47-8zM450 376l5 2 9 0-6-2zM497 148l17 0 0 9zM503 174l11-1 0 15-30-2-1-2 1-2 5-4zM416 230l6-1 2 3 4-1 2 1-2 3zM50 270l0-1 34 0 6 1 0 50 6 2 8 10 0 20-2 2-2 9-4 3-32 5-2 4-15-2-1-16 2 1 2-4-1-4-3-1 0-13 2 0 1-2 0-4-3 0 0-21 3-1-3 0 0-35 2 0zM217 282l1-1 20 5 5 4-5 7-4 3-1-6-9-8zM247 306l23 2 22 6 0 2-20 1-29-7 0-2zM216 338l2 0 11 8-13 3-1-3zM474 408l4 4-2 6-14-4zM259 464l3 0 34 2-28 0z"/>
<path fill-rule="evenodd" fill="#fee9a6" d="M304 150l3-2 6 0 18 4-5 2 0 4-10 2-4 4 9 10 0 2 2 0 1-4 2-2 1-4 4 6 6 4 23 8 24 10-4 6-7 32-2 6 1 6-17 10-10 4-3 3-6 2-68-8-44 0-42-5-12 0 0 2 1 2 8 8 24 12 9 6-12 1-8-3-3 0 8 12 3 14-5 6-13 7-6 1-8-1-16-8-24-17-12-20-26-11-2-9-5-8-15-7-18-2-1-5-3 0 0-52 16-1 42 9 18 2 92 4 40 4 18-1 8-1 14-6-6-10 4-10 10-6-1-8zM318 178l0 2 2 3 0-6zM510 178l0-1 4 1 0 4-4-1zM510 208l0-1 4 1 0 3-4 0zM509 222l1-1 4 2 0 8-5-3zM482 242l26-1 1 5 1 2 4 0 0 38-4 0 0 2 0 2 4 0 0 1-22 1-6-5-4-12-3-19 1-8zM438 252l10 0 1 4-3 3-26-2-5-3zM46 278l3 2-1 4-2-1zM226 286l1-1 9 2 4 3-1 2-5 5zM411 286l10 0 10 6-3 2-12 1-18-3-5-2zM46 290l0-1 34 0 6 1 1 2-1 3-2 1-34 1-1 3-3 1zM350 290l14 0 13 2 0 2-3 1-12 0-12-3zM458 296l2 0 0 3zM510 300l4 0-4 3zM358 308l14 0 18 6 0 2-22 4-22-6-7-4zM496 312l18 1 0 16-4 0-1 5 1 4 4 1 0 15-4-1-2 2-10 0-6 0-2-2 2-35 0-3zM423 314l9 0 16 4-9 0zM46 320l2 2 0 2-2 0zM375 328l3-1 34 3 12 4 3 2 0 2-13 1-16-2-12-3zM46 338l3 0 1 2-2 7-2-1zM172 348l4 8 8 8 5 8 8 18 5 2-8 10-3 8 1 2 16 2 11 4-3 2-8-1-18-4-10 3-6 8 0 6-4 8-7 6 1 7-8 7-1 6-55 0 1-42 2-2 7-1 9-17 9-11 6-15 5-8 13-10 19-6zM426 350l8-1 12 0 12 3 2 4-2 3zM46 362l0-1 10 3 5 4-1 2-14-5zM414 362l12 0 34 3 4 3-1 2-1 2-28-2-12-3zM212 364l2 0 2 8-6 5-1-3 2-2zM510 364l0-1 4 1 0 3-4 0zM304 374l10 0 50 6-18 1-12 6-14 0-13-3-11-4zM456 384l11 1 2 1-2 2-9-1zM415 386l31 2 6 1 3 3-7 2-14-1-11-3zM509 386l1-1 4 1 0 6-4 0zM46 406l4 0 10 2 1 4-15 0zM418 420l6 0 12 2-12 1zM46 424l0-1 12 1 2 2-2 5 8 3-8 5-2-4-10 3zM405 426l11 0 11 4-3 2-10 2 6 6-1 2-9 4 12 6 2 2 0 2-10 1-28-6-17-5-8-3-1-9 5-3 33 0zM464 430l18 2 2 4-2 2-8-2-9-4zM510 434l4-1 0 6-4 0zM278 436l14 1 32 4 8 2 8 5 40 8 9 2 1 3-8 5-4 0-52-9-29-11-7 0-1 4-8 2-17 1-18-3-12-6zM46 444l8 1 2 1-1 6-3 1-6-1zM457 444l11 0 20 2 3 4-21 0-8-2-4-2zM487 462l7 0 14 2-16 1z"/>
<path fill-rule="evenodd" fill="#fdd891" d="M308 154l2-1 6 1zM299 168l7 0 6 4 1 2-3 4 8 8-2 2-12 1-10-7-1-2 3-10zM48 178l14 0 58 12 102 4 56 9 8-1 1-4 13-4 14 4 12 2 1-2-3-4 0-3 26-5 12 1 21 7-5 6-8 30-4 8 0 4-16 12-18 5-8 0-36-5-68-1-36-5-16 0-3 2 6 10-7 1-1 1-13 19-8 6-6 2-4-1-6-4-10-14-14-4-12-7-3-13-15-11-8-5-14-3-4-3 0-45zM510 256l4 1 0 8-4-1-1-4zM176 266l10 2 13 8-11 1-12-8zM510 278l0-1 4 1 0 2-4 1zM228 288l0-1 6 2 3 1 0 2-3 2zM166 296l6 0 4 4 3 8-2 4-10 0-11-6zM368 312l4 0 2 2-7 0zM510 316l4 0 0 4-3-1zM46 340l2 0 0 4-2-1zM510 346l4 0 0 5-4-2zM161 358l7-1 4 2 13 19 4 16 9-2-14 20-6 4-7 10 0 6-4 8-6 6 0 6-6 6-3 8-14 0 3-4-7-2-17-36-4-4 7-14 8-10 4-12 6-10 11-10zM388 438l6-1 7 1-7 3zM302 442l2-1 9 1-3 2z"/>
<path fill-rule="evenodd" fill="#fdc97e" d="M46 180l6-1 10 0 50 11 50 6 52 0 26 4 10 5 40 3 38 6 10 0-5-8-1-5 24-11 8 0 18 4-6 6-14 42-16 11-16 1-40-3-68 0-26-4-28-1-7 2 5 8-1 2-3 1-4-4-34 20-34-17-3-12-11-10-12-9-14-5-1-2-3-3zM302 182l2 0 3 2zM160 360l8 0 4 5 8 19-1 14 7-3 6 1-24 30 0 6-3 8-6 6 0 6-7 6-4 8-3 0-1-6 4-14-4 2-6-1-19-25-5-2 6-11 9-11 9-21 11-11zM166 412l-7 8-2 12 1 1 1-3 8-8 0-2 2-2-1-7z"/>
<path fill-rule="evenodd" fill="#fcb565" d="M49 180l15 0 98 20 28 1 40 5 58 4 48 6 4 0 1-2-5-6 0-1 26-13 6-1 13 1-4 2-3 4-16 42-14 9-18 0-56-3-42 1-30-7-22-1-18 2 0 5-38 22-20-7-10-6-2-11-12-11-12-10-14-6-2-7-2-2 0-28zM155 366l5-1 4 3 3 10-1 11-3 5-4 4-18 8-2 4 4 16-3 5-4 0-12-9-7-2 5-10 10-10 4-14 4-6 7-8zM186 396l3 0-21 26 0-2 2-2 0-8 2-4 6-6zM160 430l2-1 3 1-2 10-8 6 2 4-1 2-6 3-2-1 0-4 5-4 0-6z"/>
<path fill-rule="evenodd" fill="#f9a059" d="M55 180l11 2 70 14 26 7 30 1 40 4 54 3 54 7 2-4-2-3 16-7 15-10 8 0-8 4-15 42-12 9-34 0-50-5-29 2-34-6-39-2-8-2 6 9-12 5-22 17-4 1-16-6-12-6-2-10-12-13-14-12-12-5-2-7-2-1 0-25zM157 436l3-1 1 3-1 2-4 2-2-2z"/>
<path fill-rule="evenodd" fill="#f78b4f" d="M50 182l6-1 10 1 65 14 37 11 30-1 38 4 52 3 54 6 2-1-2-2 14-6 4-1 2 1 1 2-8 18-2 10-11 7-42 0-50-6-26 2-66-7-10-3 0 1 4 8-14 7-18 16-4 0-16-4-10-6-2-9-12-14-14-12-12-7-1-5-3-1 0-22z"/>
<path fill-rule="evenodd" fill="#f27447" d="M55 182l11 1 66 15 32 11 18 2 26-2 80 5 40 7 16 0 6 2 3 11-3 6-8 4-24-2-22 3-58-8-24 2-46-4-12-2-14-4 0 1 2 1 5 5-1 2-12 7-18 15-12 1-16-7-1-8-7-8-18-19-14-8-4-6 0-18 4-4zM128 225l0 2 2 0 2 2 10-1z"/>
<path fill-rule="evenodd" fill="#ea5d3d" d="M51 184l9-1 20 5 28 6 8 4 48 12 28 3 24-2 50 6 38 1 24 7 14 1 6 4 2 4-2 4-6 3-34-2-18 3-70-10-12 0-2 3-6 0-25-1-15-2-17-6-17-3 2 5 2 0 2 2 8 0 2 2 2 0 1 2-15 8-18 13-6 2-6 0-10-4 0-7-8-9-18-20-14-10-2-5-2-12z"/>
<path fill-rule="evenodd" fill="#dc3a2c" d="M56 184l10 2 40 9 10 6 34 9 42 4 30-1 58 8 20 1 11 2 5 4-5 2 0 2-2 2-31 4-36-6-50-5-12 1 0 2-2 1-14 0-16-6-26-4 0 1 2 1 4 5 8 2-14 7-18 14-8 2-6-2-1-6-7-9-18-21-13-13 0-2-3-6-1-4 3-4zM332 230l10 0 4 2 0 2-2 3-4 1-8-4-1-2z"/>
<path fill-rule="evenodd" fill="#c62127" d="M52 186l10 0 44 10 10 8 20 5 52 6 49 2 26 3 11 4-5 4-9 1-100-5-40-4-1 0 2 2 3 2-24 21-6 3-4 1-4-11-27-33-10-11-1-4z"/>
</g>
<polygon points="383.0,455.9 387.1,456.7 392.2,456.0 397.6,457.5 402.8,458.4 408.1,458.5 411.6,460.1 414.1,462.5 418.6,466.3 423.8,469.8 429.1,470.7 433.4,474.2 436.9,477.7 437.8,482.1 439.6,487.3 444.8,489.1 451.8,493.5 458.8,496.1 465.9,496.2 471.1,498.8 474.6,502.3 475.4,509.3 473.8,516.3 469.4,520.7 465.9,524.2 465.4,530.3 464.1,537.3 462.4,544.3 458.9,550.5 451.8,553.1 446.6,555.7 443.1,559.3 442.1,565.3 437.8,570.6 433.4,577.6 429.9,584.6 429.1,586.0 384.6,586.0 385.2,579.3 387.1,568.9 388.8,556.6 389.6,547.9 388.8,539.1 383.6,535.6 383.0,535.6" fill="#fff" stroke="#969696" stroke-width="1.2"/>
<polygon points="520.0,431.6 520.0,433.1 521.4,435.2 521.0,438.3 520.0,440.9 518.8,444.4 518.0,447.1 519.2,451.4 521.4,454.9 524.0,457.6 527.5,461.5 530.1,466.3 533.6,469.8 537.1,472.9 539.8,474.7 543.2,474.2 547.6,473.3 552.0,472.9 557.8,472.5 560.6,471.4 567.1,469.7 572.0,471.4 575.4,475.4 580.2,476.3 582.6,478.7 581.9,485.3 582.6,491.8 583.5,495.3 586.8,500.2 590.0,506.7 590.9,513.3 591.6,519.8 589.2,526.3 587.5,532.9 588.5,537.8 590.9,544.3 593.4,552.5 595.8,560.7 598.2,568.9 600.6,575.4 603.1,580.3 606.4,584.4 608.8,584.5 612.0,583.8 612.0,431.6" fill="#fff" stroke="#969696" stroke-width="1.2"/>
<polygon points="383.0,431.6 388.8,431.6 388.2,434.3 385.8,436.8 383.0,436.5" fill="#fff" stroke="#969696" stroke-width="1.2"/>
<polygon points="388.9,434.5 393.2,434.3 393.4,435.9 389.1,436.2" fill="#fff" stroke="#969696" stroke-width="1.2"/>
<g fill="#fff" stroke="#999" stroke-width="0.8"><circle cx="402.2" cy="436.8" r="0.9"/><circle cx="403.8" cy="439.8" r="0.9"/><circle cx="404.9" cy="442.8" r="0.9"/><circle cx="406.1" cy="445.8" r="0.9"/><circle cx="408.2" cy="448.8" r="0.9"/><circle cx="409.8" cy="452.8" r="0.9"/></g>
<path transform="translate(357.75 355.30) scale(.25)" d="M117 339l14-10m9 10l11-10m10 10l13-10m9 10l13-10m9 10l13-10m9 10l13-10m8 9l14-8m9 9l13-10m9 10l12-10m10 9l13-8m9 9l12-10m10 10l12-10m10 10l12-10m9 9l13-8m9 8l13-8m9 9l13-10m9 9l13-8m10 9l11-10m9 10l14-10m9 10l13-10m8 9l14-8m9 8l13-8m8 9l14-10m8 10l14-10m-518 34l13-9m9 9l14-10m8 10l13-9m9 9l13-9m9 9l13-9m9 9l13-10m8 10l14-10m9 10l13-10m9 10l13-9m9 9l12-10m10 10l12-9m9 10l14-11m8 11l14-11m8 10l13-10m10 11l12-11m9 10l13-10m9 11l13-11m9 10l13-9m9 9l13-9m9 10l13-11m9 10l13-9m8 10l14-11m8 10l14-9m9 10l12-11m-517 35l14-10m8 10l14-11m8 11l13-11m9 11l13-10m9 10l13-10m8 10l14-11m8 11l14-11m8 11l14-11m8 11l14-11m8 11l14-11m8 11l14-10m8 10l13-10m9 10l13-11m9 11l14-10m8 11l13-12m9 11l13-11m9 12l13-12m8 11l14-11m9 11l13-10m9 10l12-10m10 10l13-10m9 10l12-11m10 11l12-11m9 11l13-11m-517 37l14-14m8 14l13-14m10 15l12-16m9 16l13-15m9 14l13-14m9 15l13-15m9 15l12-15m10 15l13-15m9 15l13-16m9 16l12-15m10 15l12-15m9 15l14-15m8 15l13-16m10 16l12-16m10 16l12-15m9 15l13-15m10 15l12-15m9 15l13-16m9 15l13-14m9 15l13-15m9 15l13-15m9 14l12-14m10 15l12-15m9 15l14-15m9 15l12-15m-428 42l11-21m11 21l11-20m11 19l11-19m10 20l12-21m11 20l11-19m11 20l10-20m12 20l10-20m12 19l10-19m12 19l10-19m11 19l12-19m11 20l10-20m11 19l11-19m11 19l11-19m11 19l11-19m11 19l11-19m11 20l11-20m11 20l10-21m11 20l12-19m11 19l10-19m12 19l10-19m12 20l10-20m-424 45l5-22m17 22l4-22m18 23l4-24m18 23l4-22m17 22l6-22m17 23l4-24m18 23l4-22m18 23l4-24m18 23l4-22m18 22l3-22m19 22l3-22m19 22l3-22m19 22l3-22m17 23l6-24m17 23l4-22m18 22l4-22m18 23l4-24m18 23l4-22m18 22l4-22m18 22l4-22m18 22l4-22m-307 45l-4-19m25 19l-3-20m25 20l-3-19m25 19l-3-19m25 19l-3-19m25 20l-3-21m25 20l-4-19m26 19l-3-19m25 19l-4-19m26 19l-4-19m26 19l-4-19m26 20l-4-21m26 21l-4-21m25 19l-3-17m24 15l0-13m-380 28l14 5m8-6l14 6m9-5l12 5m9-5l14 5m8-5l13 5m9-5l13 5m9-5l13 5m40 4l-5-13m27 13l-5-13m27 13l-6-13m28 14l-5-15m26 14l-4-13m26 13l-4-14m26 14l-4-13m26 13l-4-13m26 13l-4-13m-334 28l14 4m9-4l12 5m9-6l13 6m9-6l14 6m8-5l13 5m10-6l12 6m-79 19l14 6m9-6l12 5m9-5l14 6m8-6l13 5" stroke="#000" stroke-width="9.0" stroke-linecap="round" fill="none"/>
<path transform="translate(357.75 355.30) scale(.25)" d="M365 485l0-9m110 33l-1-9m221 9l-2-9m-218 30l-1-4m24 5l-3-5m24 5l-1-6m23 7l-2-7m25 7l-3-7m25 6l-3-5m24 6l-2-7m24 6l-2-5m24 6l-2-7m24 6l-2-5m24 5l-2-5m-264 226l4-4m-26 28l4-5m17 5l6-4m-72 28l6-6m16 6l6-6m16 6l6-6m15 6l7-6m-94 29l6-5m16 5l6-6m16 6l6-5m16 5l6-5m16 5l6-5m-94 28l6-6m16 6l6-6m16 6l6-6m15 6l7-6m15 5l8-5m-117 29l6-6m16 6l6-6m16 6l5-6m17 6l6-6m16 6l6-6m16 6l6-6m-138 28l6-4m16 5l6-6m15 6l8-6m15 6l6-6m16 5l6-4m15 5l7-6m15 6l7-6m18 5l2-4m-158 26l7-6m15 7l6-7m16 6l6-5m16 6l6-7m15 6l8-5m15 5l6-5m15 5l7-5m17 4l3-3" stroke="#000" stroke-width="7.2" stroke-linecap="round" fill="none"/>
<path transform="translate(357.75 355.30) scale(.25)" d="M322 481l-2-2m23 3l0-3m373 3l0-4m22 3l-1-1m22 1l1-1m22 1l-1-1m23 1l-2-1m24 1l-2-1m24 1l-1-1m-131 26l-1-3m23 2l-1-1m23 1l-2-2m23 2l0-2m22 2l0-1m22 1l0-1m23 1l-1-1m22 2l0-3m22 3l0-3m-175 26l0-2m23 2l-2-2m23 3l-1-3m23 2l-1-2m22 3l0-3m23 2l-1-1m22 1l0-1m22 1l0-1m22 1l0-2m-418 27l3-2m20 2l0-2m22 3l0-4m22 3l0-3m23 3l-2-3m24 4l-2-4m23 3l0-3m23 3l-2-2m23 2l-1-2m23 2l0-3m22 3l0-2m22 2l-1-2m23 2l-1-2m23 2l-1-2m23 2l-1-2m23 2l-1-2m22 2l0-2m23 2l-2-2m23 2l0-2m23 2l-2-2m-437 26l0-2m22 2l-1-2m23 2l-1-1m22 1l0-2m22 2l0-2m22 2l0-2m22 2l0-2m22 2l0-2m22 3l0-3m22 3l0-3m22 3l0-3m22 2l0-2m23 2l-2-2m23 2l-1-2m23 2l-1-2m23 2l-1-2m22 2l0-2m23 2l-1-1m22 1l0-1m22 1l0-2m23 3l-2-3m-415 27l-1-2m22 2l1-2m21 2l1-1m21 1l0-1m23 1l-1-2m22 3l1-3m22 2l-2-2m23 3l0-3m22 2l0-1m22 1l0-1m22 1l-1-1m23 2l-1-3m22 2l1-2m22 2l-1-1m23 2l-1-3m22 3l0-3m22 2l0-2m22 2l0-1m22 1l0-2m22 2l0-1m22 1l0-2m-438 27l-1-2m22 2l1-2m21 2l0-2m22 2l0-2m23 2l-1-2m22 2l0-2m22 2l0-2m22 2l0-2m22 2l0-2m22 2l0-2m21 2l1-2m21 2l1-2m21 2l1-2m21 2l1-2m22 2l-1-3m22 3l0-2m23 2l-1-2m22 2l0-2m22 1l0-1m22 1l0-1m22 2l0-2m-461 27l1-3m22 3l-1-3m22 3l0-2m23 2l-1-3m22 3l0-3m22 2l0-1m22 2l0-3m22 2l0-1m21 1l1-1m22 1l0-1m21 1l1-1m22 1l-1-1m23 2l0-3m21 3l1-3m22 2l-1-1m22 2l0-3m22 2l0-1m22 2l1-2m21 2l1-3m21 2l0-1m22 2l0-3m23 2l-2-1m-482 28l1-3m21 2l1-2m21 2l1-2m22 2l-1-2m22 3l1-3m21 2l0-2m23 2l-1-2m22 2l0-2m22 3l0-3m22 2l0-2m22 2l0-2m22 2l0-1m21 1l1-2m22 2l0-2m22 2l0-2m22 2l-1-1m22 1l1-2m21 2l1-2m21 3l1-3m21 2l0-1m21 1l2-2m21 3l0-3m21 2l1-2m-482 26l0-1m22 1l0-1m21 1l1-1m21 1l1-1m21 2l1-3m21 3l1-2m21 2l0-2m22 1l1-1m21 2l0-3m22 2l0-1m22 2l0-2m22 2l0-3m21 3l1-2m22 1l0-1m21 2l1-2m21 1l1-1m21 2l1-2m21 2l1-3m21 2l1-1m21 1l0-1m22 2l0-3m22 3l0-3m22 3l0-3m-483 27l1-2m22 2l-1-3m22 2l1-1m22 2l-1-3m22 2l0-1m22 2l0-3m22 3l1-3m21 2l0-1m22 1l0-1m22 1l0-1m21 2l1-3m21 3l2-2m21 1l-1-1m23 1l0-1m21 2l1-3m21 3l1-3m21 2l1-1m21 2l1-2m21 1l0-1m22 2l0-2m22 1l0-1m22 2l0-3m22 2l0-1m-789 26l0-2m328 2l1-2m22 2l-1-2m22 2l0-2m22 2l1-2m21 2l0-2m22 2l1-2m21 2l1-2m20 2l2-2m21 2l0-2m22 2l0-2m22 3l0-4m22 3l-1-2m22 2l1-2m21 2l1-2m21 2l1-2m21 2l1-2m21 2l0-2m21 2l2-2m21 2l0-2m22 2l0-2m22 2l0-2m22 2l0-2m-790 26l1-3m328 3l1-3m21 3l1-2m21 2l1-3m21 2l1-1m21 2l0-3m22 2l0-1m21 2l2-2m20 2l2-2m20 1l1-1m22 2l0-3m21 3l1-3m21 3l1-2m22 1l0-1m22 2l0-3m21 2l1-1m21 2l1-3m21 3l1-2m21 1l0-1m21 1l2-1m21 2l0-3m21 3l2-2m20 2l1-3m-789 26l0-2m328 2l1-2m22 1l-1-1m22 2l1-2m20 2l2-2m20 2l2-2m21 1l0-1m22 2l0-3m22 3l0-3m22 3l0-2m22 2l0-2m22 1l0-1m22 2l0-2m22 2l0-2m21 2l1-2m21 2l1-2m21 2l0-2m22 2l1-2m21 2l0-2m22 2l0-2m22 2l0-2m20 2l4-2m19 2l2-2m20 2l2-2m-813 25l1-1m327 2l3-3m21 2l-1-2m22 3l1-3m21 2l1-2m21 2l1-1m21 1l1-2m20 2l2-1m21 1l0-2m21 2l2-2m21 2l0-1m21 1l1-1m22 2l0-3m22 2l-1-1m22 1l1-1m21 2l1-3m21 2l1-1m21 1l0-2m22 3l1-3m21 2l1-1m21 1l0-2m22 3l0-3m21 3l2-3m20 2l2-1m-484 24l2-3m20 3l1-2m22 2l-1-2m21 1l3-1m20 1l0-1m22 1l1-1m21 2l1-2m20 2l2-3m21 3l0-2m22 2l0-2m21 2l1-3m21 3l1-2m21 2l1-2m22 2l-1-2m22 1l1-1m21 2l1-2m21 2l0-2m22 2l1-2m21 2l1-2m21 2l0-2m22 2l0-2m21 2l1-2m21 2l1-2m-483 25l2-2m20 2l1-2m21 2l1-2m21 2l1-2m21 2l0-2m22 2l1-2m21 2l1-2m20 2l2-2m21 2l0-2m22 1l0 0m21 0l1 0m21 1l2-2m20 2l1-2m22 2l0-2m21 2l1-2m21 2l1-2m21 2l0-2m22 1l1 0m21 1l0-2m22 3l1-4m20 3l2-2m20 2l2-2m20 1l2 0m20 0l1 0m-483 24l1-2m21 2l1-2m21 2l1-2m21 2l1-2m21 2l1-2m21 2l1-2m21 2l0-2m22 2l0-2m22 2l0-2m21 2l2-2m20 2l1-2m21 2l1-2m21 2l1-2m21 2l1-2m21 2l1-2m20 2l2-2m20 2l2-2m20 1l2-1m20 2l2-2m21 2l0-2m22 2l0-2m21 2l1-2m21 2l1-2m-483 23l1-1m21 1l1-1m21 2l1-3m21 2l1-2m20 2l2-2m20 2l2-2m20 2l2-1m21 2l0-3m21 2l1-1m21 1l1-1m22 1l0-2m21 3l1-3m21 2l1-2m21 2l1-1m21 1l1-2m21 2l0-1m22 1l1-1m21 1l1-2m21 2l0-1m21 1l2-2m20 2l2-2m20 2l2-1m20 1l2-2m20 2l1-1" stroke="#000" stroke-width="7.0" stroke-linecap="round" fill="none"/>
</g>
<rect x="383.0" y="431.55" width="229.05" height="154.45" fill="none" stroke="#262626" stroke-width="1.8"/>
<path d="M388.70,431.55v2.6M388.70,586.00v-2.6M424.91,431.55v2.6M424.91,586.00v-2.6M461.12,431.55v2.6M461.12,586.00v-2.6M497.33,431.55v2.6M497.33,586.00v-2.6M533.54,431.55v2.6M533.54,586.00v-2.6M569.75,431.55v2.6M569.75,586.00v-2.6M605.96,431.55v2.6M605.96,586.00v-2.6M383.00,459.56h2.6M612.05,459.56h-2.6M383.00,487.52h2.6M612.05,487.52h-2.6M383.00,515.48h2.6M612.05,515.48h-2.6M383.00,543.44h2.6M612.05,543.44h-2.6M383.00,571.40h2.6M612.05,571.40h-2.6" stroke="#262626" stroke-width="1.6" fill="none"/>
<text x="379.6" y="434.7" class="tk" text-anchor="end" textLength="23.0" lengthAdjust="spacingAndGlyphs">20<tspan class="dg" dy="-3.4">°</tspan><tspan dy="3.4">N</tspan></text>
<text x="379.6" y="462.7" class="tk" text-anchor="end" textLength="23.0" lengthAdjust="spacingAndGlyphs">10<tspan class="dg" dy="-3.4">°</tspan><tspan dy="3.4">N</tspan></text>
<text x="379.6" y="490.6" class="tk" text-anchor="end" textLength="17.3" lengthAdjust="spacingAndGlyphs">0<tspan class="dg" dy="-3.4">°</tspan><tspan dy="3.4">N</tspan></text>
<text x="379.6" y="518.6" class="tk" text-anchor="end" textLength="21.1" lengthAdjust="spacingAndGlyphs">10<tspan class="dg" dy="-3.4">°</tspan><tspan dy="3.4">S</tspan></text>
<text x="379.6" y="546.5" class="tk" text-anchor="end" textLength="21.1" lengthAdjust="spacingAndGlyphs">20<tspan class="dg" dy="-3.4">°</tspan><tspan dy="3.4">S</tspan></text>
<text x="379.6" y="574.5" class="tk" text-anchor="end" textLength="21.1" lengthAdjust="spacingAndGlyphs">30<tspan class="dg" dy="-3.4">°</tspan><tspan dy="3.4">S</tspan></text>
<path d="M536.8 445.8h13" stroke="#000" stroke-width="1.6"/>
<path d="M549.3 443.5L557.0 445.8L549.3 448.1Z" fill="#000"/>
<text x="528.9" y="458.1" class="lgr" textLength="47.8" lengthAdjust="spacingAndGlyphs">0.08 N m<tspan dy="-3.6" font-size="6.5">−2</tspan></text>
<text x="460.4" y="425.8" class="pt" textLength="23.8" lengthAdjust="spacingAndGlyphs">Year</text>
<text x="489.6" y="425.8" class="pt" textLength="12.1" lengthAdjust="spacingAndGlyphs">21</text>
<path d="M504.2 421.9h8.8" stroke="#000" stroke-width="0.9"/>
<text x="515.8" y="425.8" class="pt" textLength="12.1" lengthAdjust="spacingAndGlyphs">30</text>
<text x="398.8" y="427.5" class="pl" text-anchor="middle">(<tspan font-weight="bold">g</tspan>)</text>
<clipPath id="cliph"><rect x="383.0" y="609.2" width="229.05" height="154.45"/></clipPath>
<g clip-path="url(#cliph)">
<rect x="381.0" y="607.2" width="233.05" height="158.45" fill="#7ab1d4"/>
<g transform="translate(357.75 532.95) scale(.5)">
<path fill-rule="evenodd" fill="#90c3dd" d="M46 148l16 0-8 2zM88 150l1-2 40 0 7 2 15-2 41 0 4 2-1 6 1 1 28 4 5-1 7-4 22-1 6-3 5-4 245 0 0 318-468 0 0-300 18 5 16 2 28 2 12-3-11-8-2-4zM130 152l9 4 19 5 22 1 10-2 0-2-4-1-40-6-12 0z"/>
<path fill-rule="evenodd" fill="#a5d3e6" d="M286 148l228 0 0 318-468 0 0-297 18 5 36 3 24 0 9-3-3-6 2-4-11-6-1-2 24 6 16 1 26 1 22-1 26 2 18-1 31 5 5-3-7-8 3-3z"/>
<path fill-rule="evenodd" fill="#b9e0ec" d="M290 148l224 0 0 318-468 0 0-288 20 3 6-3 8-1 28 2 30-1 9-2-4-4 3-2 36-4 33 2 7 2-3 2 4 4 15 3 3-1-1-2-8-4 28-3 22 1 10-2 1-2-4-6zM342 265l-1 1 14 2 1-2zM400 258l-1 2 9 0-1-2zM206 258l-7 2-1 2 8 4 8 2 24-2 1-2-17-6zM268 264l-4 2 22 4 11-2-7-2zM344 277l-1 1 6 2 10 0-5-2z"/>
<path fill-rule="evenodd" fill="#cbe9f2" d="M293 148l221 0 0 318-468 0 0-286 22 3 18-4 26 2 34 0 36 2 3-1-2-2-22-6 7-1 24-3 10 2 30 10 16 1 6-3 2-2 13-6 19-1 10-3-4-8zM390 256l-12 4 22 5 14-2 16 0 5-1 1-2-32-5zM200 254l-14 4 7 6 7 4 25 6 9 1 8-3 20 2 12-2 30 1 18-5 13 2-7 2-2 2 6 4 16 5 18 2 4-1 2-2-5-6 2-2 9-2 1-2-11-6-12-2-28-2-20 3-32-1-32-2-34-7zM276 300l2 2 10 2 14 1 3-1 1-2-16-3z"/>
<path fill-rule="evenodd" fill="#e0f3f8" d="M297 148l217 0 0 17-4-1 0 2 0 3 4 0 0 143-4 1 4 2 0 4-4 0 0 3 0 2 4 1 0 139-48-4-2 0 23 6-372 0 1-2-14-3-14 1 22 4-64 0 0-27 5 0 1-3-6-2 0-133 2 0 1-3 0-4-3 0 0-29 2-1 2-2 0-6-1-3-3-1 0-70 24 3 20-3 28 2 30-1 36 2 16-1 2-2-16-6 8-1 18 3 18 7 22 1 23-6 5-6 18-3 5-3-5-6zM378 236l-4 2 1 2 3 3 22 5 2 2-56 8-26 0-42 1-32-2-48-8-7 1-13 6 3 4 11 7 13 5 27 6 26 4 22-1 6-5 4 0 18 0 52 11 30 4 1-3-8-4-1-4 4-2 16-2 1-2 1-6 4-2 15 0 7 2 8 6 13 2-3-4-6-4 1-2 6-2 1-2-2-2 2-4-2-1-34-3-4-2-6-6-8-4zM100 424l0 2 2 0 3-1-3-2zM190 414l-5 2 0 2 5 2 46 2 4-2-32-6zM206 396l-2 2 4 2 5 0-3-3zM218 372l-4 6 0 2 24 1 6-3-6-4-10-2-6-1zM230 324l-6 6 0 2 13-2zM260 284l-3 2 1 2 16 6-16 7 0 1 4 3 12 3 12 1 30 0 6-3-4-4-16-6 0-2 4-2-38-9zM348 436l16 4 15-2-15-2zM352 298l-1 0 21 4 8 0-20-4zM382 302l-1 0 39 6 10-1 6-3-4-1-26-1zM418 294l18 8 13-4 1-2-18-2zM194 430l3 2 9 3 14 1 5-2-19-3zM236 362l2 3 9-1-3-2zM280 340l-3 2 9 3 28 1 4-2zM352 413l-1 1 20 4 15 0-14-4zM410 337l-1 1 5 2 7-2zM444 426l8 2 2-2-8-1z"/>
<path fill-rule="evenodd" fill="#fffcc6" d="M301 148l26 0 11 6 5 12 10 12 27 14 19 0 5-2 2-4 5-32-5-1-1-3 3 0 16 0 22 2-15 2 8 32 6 6-19 2 16 2 26-1 10-11 10-7 20-1 2 2 4 1 0 13-4-2 0 2 0 2 4 0 0 16-4-1 0 1 0 4 4 0 0 20-4 0 0 2 4 2 0 7-4-1 0 2 0 3 4 0 0 33-4 0 0 2 4 1 0 24-22 0-2 1-1 4 1 8 2 6 4 2 18 0 0 29-4-3-1 4 1 4 4-2 0 15-4-1 0 2 0 3 4 0 0 33-4-1-8 5 0 24-2 6-5 6 1 4 8 1-24 0-20-5-24 0-3 0 23 9 13 3-65-4-6 2 0 2-147 0-20-8 6-4 0-2-19-3-7 1 10 6-11 5-6 4-74 1-7-4-3-18-7-22-12-2-1-4-6-4-32-7-1 3-3-2-4-2 7-2 1-6-16-2 0-18 17 0-1-1-16-1 0-70 38-1 6 1 0 16 6 2 8 10 0 84 10-20 12-14 4-16 8-8 8-4 4 0 6-4 4 0 6-8 2 1 0-9 2-2 0-8 2-2-12 0-2-2-10-2-10-8-8-4-4 0-6-6 0-4-2-2 0-8-14-14-4-2-8 0-2-2-2-16-4-6-20-13-14-2-2 3-2 0 0-16 2 0 1-4-1-6-2-1 0-22 4-2 18 3 24-1 38 3 22-3 38 3 70 0 22-4 3-2 1-6 4-2 18-3 17-1-1-5-16 0-4-2-3-9zM382 198l-4 9-5 29-6 2 3 5 6 3-2 3-12 3-22 3-68 1-38-3-46-8-7 1-9 7 0 3 28 16 41 10 6 6 7 4 1 2-3 2-16 5-1 3 1 7 4-2 10 0 46 4 38 9 10-1 14-4 44 4 6-2 1-3-17-8 10 0 26 3 20 0 17-2 1-5 14-5 2-7-4-7-28 6-38-2-15-5 13-4 1-4 0-6 3-1 6 1 14 6 17 3 25-8 4-7 0-18-12-31-14 15-15 10 6 2-4 6-5 2-10-1-32-13 9-4-7-11-7-21-3-2zM413 230l15 4 2-2-6 0-2-3zM208 312l-28 10-5 0 1 13 10 3 28 8 1 2 1 1 12 0 2-3-14-6-1-2 3-2 26 4 30 7 60 5 9 2-3 2-15 2 0 2 25 6 12 0 12-4 18-1 14 3 17 2 6 0 2-2-7-2-34-2-38-7-19-11-11-8-36-6-34-1-15-7-2-2 1-6-2 0-2 3-10-3zM371 332l-2 0 2 2 49 9 8 0 2-3-6-4-7-2-31-3zM458 344l0 2 2 1 0-3zM194 410l-8 3-6 3-2 12 4 7 18 3 42 4 14-4 0-2-16-4-34-5-10-3 12 0 42 2 15-2-9-4-18-4-28-5zM212 356l-14 7-3 3 7 22 6-6 8 4 40-1 44 4 1-7 3-2 36-1 4-3-12-3-22-2-8 0-16 4-24 0-6-3 0-2 5-2 2-2-2-2-13-6-10-3-17 5-7 8-4 8-1-2 3-2-1-8 2-1zM405 402l-5 4 2 3 36 7 4 2-19 2-1 2 4 2 22 7 8 1 6-2 1-2-2-2-13-8 4-4-2-2-32-10zM428 390l-1 2 11 5 6 0 3-3-1-2-6-2zM254 446l-2 2 3 2 15 5 50 4 8-1-22-6-36-5zM206 390l-9 6 0 2 1 3 6 3 34 7 26 4 17-1-25-5-13-7 3-2 39-2-3-2-12-2-42-4-12-1zM288 432l1 4 9 4 22 3 8-1-1-2 3-2 18 2 23 4-15 4 36 6 8 0 5-2-1-2-22-6 14-1 38 3 14-2-19-8-21-3-28 2-48-4zM302 390l9 4 28 4 0-2-14-4zM337 410l-3 2 5 2 35 8 20 2 8-2 3-2-8-4-25-4-22-2zM491 148l23 0 0 3zM509 156l1-1 4 1 0 5-4-1zM46 276l0-1 3 1 1 12-2 3-2-1zM299 278l21 2 38 9 45 7-1 2-19 0-71-8-17-6-1-4zM333 302l5-1 12 1 17 4 4 2 1 2-12 2-14-1-10-3-2-2zM46 422l0-1 12 1 1 4-1 6-2 1-10-2zM509 426l5 0 0 7-4-3zM46 462l31 4-31 0z"/>
<path fill-rule="evenodd" fill="#fee9a6" d="M307 148l5 0 1 2 11 5 3 5-7 1-12-3-2-4zM324 172l10 3 42 17 12 2-7 2-3 4-11 34-4 6 2 4-2 2-6 4-11 2-66 1-48-4-40-9-32-2 0 2 7 6 0 10 3 4 28 13 38 11 5 2 3 6 0 2-6 4-4 1-2-2-3 3-5 3-48 16-14-4-22-15-14-12-8-17-14-4-14-7-4-14-28-29-8-6-1-9-3-1 0-13 4-3 16 2 26 0 46 4 22 0 8-1 62 3 32-2 28-3 2-2-1-8 1-2 4-1 12-2 14 1zM324 196l0 2 1 2 3 2zM166 266l7 6 31 16 8 2 14 0-2-4-6-2-2-2-16 0-8-4-3 0-5-4-2 0-4-4-8-4zM278 198l-2 2 18 5 16 2 6-1 0-2-6-2-12-3zM510 182l4 0 0 7-4-3zM510 196l4 1 0 8-4 0-1-3zM510 222l4 1 0 8-4-1-1-4zM406 232l16 2 10 4-2 2-10 1-20-5 0-2zM423 280l5-1 22 2 5 3-1 3-20 0-8-3zM304 282l6-1 12 1 33 8-9 2-26-3-10-3-5-2zM509 288l5 0 0 7-4-1zM510 302l4 2 0 3-4-1zM252 312l48 5 12 3 4 6-3 2-7 1-52-6-9-5 2-4zM46 316l0-1 4 0 38 0 2 20 4 7 1 6-7 9-9 7-1 4 2 3 16 4 6 3 0 23-2-7-4-1-32-3-2 3-16-2 0-12 16 2 2-7-2-3-16-1 0-10 2 1 1-2-3-2zM427 316l7-1 10 2 6 3 6 8 10 4 2-3 8 5 2 4 17 58-1 18 2 26-2 5-10 10-6 1-6-3-10-9-17-8 17-1 4-3 1-4-8-8 0-4-2-4-12-8 6-6 2-3-12-11 3-4-6-4-8-3-28-1-1 0 7 4 20 8-26 4 17 6 3 2-1 2-25 0-14 5-18-2-44-15 1-2 5 0 38-2 1-2-5-4-1-2 23-1 6-3 3-4 29 4 12 0 4-2 2-4-10-9-4-1-10 3-14-2-45-15 1-2 16 0 30 3 22 4 9 0 2-3-1-2-12-7-22-3-13-4 5-2 26 2zM452 340l-2 2 0 2 10 7 2-7 2-2 0-2-6-1zM458 356l-1 4 3 5 1-5zM510 334l4 0 0 4-4-1zM283 352l29 0 4 0 0 2-18 2zM164 356l6 0 8 6 10 14 5 16 3-1 2 1-4 6 2 8-12 5-6 5-4 10-1 10 1 4 2 1 13 1 4 2-6 4-13 0-4 1-3 5 1 6-5 4 0 2-26 0-8-6-4-18-8-18-1-2-6-2 18-27 5-15 6-8 11-9zM204 386l2-1 1 1-3 3zM510 388l4 0 0 11-4-1-1-2zM306 402l10-1 17 3-19 5-16-3-5-2zM315 416l9-1 10 1 29 6 1 2-62 3-18-3-6-2-2-2 28 0zM254 430l12 0 5 2 0 2zM277 442l7-1 40 5 54 9 13 3-5 4-14 2 0 2-26 0-1-2 4-2 0-2-62-14-8-2zM251 458l9-1 46 3 16 3 11 3-63 0-16-4-4-2zM46 466l0-1 8 1z"/>
<path fill-rule="evenodd" fill="#fdd891" d="M299 177l9-2 14 1 0 10-2 3-18-2-6-7 0-2zM51 186l39 2 52 7 74 1 33 6 69 8 16-1-5-11 24-9 7 0 23 5-4 2-4 4-12 32-4 4 0 8-9 6-8 1-36-3-38 1-32-3-41-8-47-5 9 11-1 2-10 6-16 14-8 4-15-4-17-8-2-12-19-22-12-17-1-5 4 1 2-3-14-4 0-6zM160 248l0-1 4 4-2 6-3-3zM172 266l0-1 6 1 20 9 34 9 7 4 2 6-7 3-10-12-6-2-2-2-16 0-2-2-10-2-10-8zM320 286l12 0 2 2zM166 292l8-1 8 1 19 8 2 2 0 2-8 6-14 6-7 2-3-2-15-8-4-4 4-5zM264 318l8-1 14 1 12 4-4 2-8 0-18-4zM432 320l4 0 6 2 10 12-8 6-4 0-13-8-2-4 4-6zM46 324l3 0 1 5 34 1 3 0 1 4-4 4-8 2-26 4-1 6-1 2-2 0 0-12 3 0 1-2-2-3-2 0zM376 342l8-1 16 1 13 2 9 4-8 3-12 0-16-4zM435 346l5-1 4 0 9 5 2 2-2 6 1 4 8 8 0-10 16 4 4 4 6 27 0 23 3 14-1 5-2 3 1 6-7 5-8 0-10-11 0-2 10-8-10-8 1-8-12-10 4-9-8-8 0-7-1-2-8-6 3-6-1-4-4-6-7-6 0-2zM464 379l0 3 2 3 2-5zM476 411l-3 5 5 6 2-2-2-2zM480 425l-5 5 7 5 2-3zM468 391l0 3 2 5 1-7zM163 358l7 1 8 9 7 14 2 12 5 2 0 8-16 12-4 8-4 18-11 24-17 0-6-6-5-16-10-20-1-2-7-2 17-24 6-16 5-8 9-8zM386 378l6-1 7 3-9 1zM46 382l17 1 0 5-17 1zM346 386l12 0 18 2 22 3 10 3-12 2-32-1-22-7zM308 448l14 0 49 8-7 2-14-2z"/>
<path fill-rule="evenodd" fill="#fdc97e" d="M305 178l6 0 7 4-4 2-6 0-5-4zM52 188l38 1 60 10 62 0 38 6 50 7 38 1-4-8 26-13 6 0 15 2-4 2-4 4-13 29-2 4-2 1 0 8-9 6-101-4-100-13 0 1 6 9-12 7-16 16-8 3-16-4-10-6-2-11-17-22-6-12-2-10 4-2-17-7 0-3zM197 278l5 0 12 2-14 1zM222 284l0-1 14 5 3 4-1 2-3 2-11-11zM433 324l3 0 4 1 5 7 0 2-7 2-7-4-1-4zM391 344l9 0 9 2-9 1zM439 348l5 0 4 2 2 4-4 3-4-2-4-5zM160 360l8 1 5 7 6 18-1 13 10-3 1 6-3 4-13 10-4 8 0 8-3 8-12 25-1 1-9 0-4-4-19-38-8-4 17-24 4-13 6-10 10-9zM168 408l-6 4-2 4 0 11 8-5 0-2 2-2-1-8 1-3zM450 366l3 1 6 3 2 4 0 2-6 2-8-4-1-4zM453 384l5-1 5 3 1 2-5 2-6-4zM461 400l3 0 6 4 2 4-1 2-7 0-5-4-1-2zM474 436l4 1 4 3 4 4-1 2-7 3-6-4-2-5z"/>
<path fill-rule="evenodd" fill="#fcb565" d="M64 190l26 0 16 2 35 8 16 2 51-1 88 13 44 2 1-2-3-4 16-7 15-9 10 0-6 2-4 4-13 28-2 3-2-1 0 12-8 5-106-6-96-12 0 1 2 1 4 6-12 8-16 17-8 2-10-2-12-6-2-10-14-20-5-10-1-10 1-4 2-2-12-8zM132 228l0 1 9-1zM230 290l0-1 6 1 1 2-3 3zM154 364l6-1 5 1 3 9 3 13-1 6-6 6-21 4-3 2 1 6 9 19 2 13 7-12 5-4 3 2-1 4-10 26-4 6-4 2-5-4 2-10-7-5-14-23-4-2-5-2 9-14 8-6 4-16 4-8 8-8zM182 398l4 0 0 6-16 10 2-8 6-7zM476 442l4 0 1 2-3 1z"/>
<path fill-rule="evenodd" fill="#f9a059" d="M74 190l14 0 18 3 27 7 29 5 46 4 14-3 84 11 34 1 2-3 10-1 2 2 0 2-3 8-2 2 1 6-1 6-3 3-6 2-86-5-34-6-28-1-64-7 4 4 8 0 4 4-12 8-16 17-4 2-6 0-8-2-8-5-2-9-14-23-2-14 1-4 4-1-11-9 0-2zM178 400l4 0 2 2-4 4-6 2-1-2 1-2zM160 432l2-1 1 1-3 4zM158 438l0-1 2 3-5 16-5 7-4 0-2-3 2-6z"/>
<path fill-rule="evenodd" fill="#f78b4f" d="M72 192l11-1 13 1 10 2 12 5 12 3 50 7 42 3 29-1 49 7 36 3 6 1 2 2 3 12-3 4-4 1-54 0-36-4-41-7-23 0-60-6 2 4 2 0 2 2 7 0-12 8-18 16-9 3-10-4-1-9-11-18-2-14 2-8 3 0-9-8-2-2zM150 452l3 0-5 7 0-3z"/>
<path fill-rule="evenodd" fill="#f27447" d="M76 192l10 0 18 2 7 2 5 5 44 7 54 5 50 1 36 6 22 1 6 3 14 10-2 3-18 3-44-1-30-4-42-7-83-6-1 0 2 2 2 4-26 20-8 2-2-1 0-5-7-14-3-8 1-10 4-8-10-8-1-2z"/>
<path fill-rule="evenodd" fill="#ea5d3d" d="M82 192l24 3 5 3 1 5 2 1 14 1 88 11 48 1 56 7 6 3 5 5-5 4-6 1-56-2-128-19-18 0-6-6-8-2-3 0 9 6 1 6-14 16-7 4-3-14 1-12 4-5 8-1 1-2-13-3-10-7-1-2z"/>
<path fill-rule="evenodd" fill="#dc3a2c" d="M81 194l7 0 18 2 3 2 0 4-2 4-5 0-16-5-6-5zM117 208l9-1 57 5 32 6 4 2 0 2-3 2-6 1-24-2-42-9-24-3zM237 220l21-1 48 5 16 3 4 5-2 2-4 1-56-3-12-2z"/>
<path fill-rule="evenodd" fill="#c62127" d="M84 196l4-1 13 1 5 2 1 2-3 4-16-5zM163 214l5-1 18 1 12 2 9 4-5 2-16-1-14-3zM260 224l6-1 39 3 17 4-10 1-39-2z"/>
</g>
<polygon points="383.0,633.6 387.1,634.4 392.2,633.7 397.6,635.2 402.8,636.1 408.1,636.2 411.6,637.8 414.1,640.2 418.6,644.0 423.8,647.5 429.1,648.4 433.4,651.9 436.9,655.4 437.8,659.8 439.6,665.0 444.8,666.8 451.8,671.2 458.8,673.8 465.9,673.9 471.1,676.5 474.6,680.0 475.4,687.0 473.8,694.0 469.4,698.4 465.9,701.9 465.4,708.0 464.1,715.0 462.4,722.0 458.9,728.2 451.8,730.8 446.6,733.4 443.1,737.0 442.1,743.0 437.8,748.2 433.4,755.2 429.9,762.2 429.1,763.7 384.6,763.7 385.2,757.0 387.1,746.6 388.8,734.2 389.6,725.6 388.8,716.8 383.6,713.2 383.0,713.2" fill="#fff" stroke="#969696" stroke-width="1.2"/>
<polygon points="520.0,609.2 520.0,610.7 521.4,612.9 521.0,616.0 520.0,618.6 518.8,622.1 518.0,624.8 519.2,629.1 521.4,632.6 524.0,635.2 527.5,639.2 530.1,644.0 533.6,647.5 537.1,650.6 539.8,652.4 543.2,651.9 547.6,651.0 552.0,650.6 557.8,650.2 560.6,649.1 567.1,647.4 572.0,649.1 575.4,653.1 580.2,654.0 582.6,656.4 581.9,663.0 582.6,669.5 583.5,673.0 586.8,677.9 590.0,684.4 590.9,691.0 591.6,697.5 589.2,704.0 587.5,710.6 588.5,715.5 590.9,722.0 593.4,730.2 595.8,738.4 598.2,746.6 600.6,753.1 603.1,758.0 606.4,762.1 608.8,762.2 612.0,761.5 612.0,609.2" fill="#fff" stroke="#969696" stroke-width="1.2"/>
<polygon points="383.0,609.2 388.8,609.2 388.2,612.0 385.8,614.5 383.0,614.2" fill="#fff" stroke="#969696" stroke-width="1.2"/>
<polygon points="388.9,612.2 393.2,612.0 393.4,613.6 389.1,613.9" fill="#fff" stroke="#969696" stroke-width="1.2"/>
<g fill="#fff" stroke="#999" stroke-width="0.8"><circle cx="402.2" cy="614.5" r="0.9"/><circle cx="403.8" cy="617.5" r="0.9"/><circle cx="404.9" cy="620.5" r="0.9"/><circle cx="406.1" cy="623.5" r="0.9"/><circle cx="408.2" cy="626.5" r="0.9"/><circle cx="409.8" cy="630.5" r="0.9"/></g>
<path transform="translate(357.75 532.95) scale(.25)" d="M117 339l14-10m8 11l13-12m9 11l13-10m9 11l13-12m9 11l13-10m8 11l15-12m7 11l14-10m8 11l14-12m8 11l15-10m7 11l14-12m7 11l16-10m7 10l14-10m8 10l14-10m7 10l16-10m7 10l14-10m8 10l14-10m8 10l13-10m8 10l15-10m8 10l13-10m8 10l14-10m8 10l15-10m7 10l14-10m8 10l14-10m8 10l14-10m-519 35l15-11m7 11l15-11m7 11l15-11m8 11l13-12m8 12l15-11m7 12l14-13m8 12l15-11m7 11l14-11m8 11l14-11m8 11l14-11m8 11l14-12m7 12l15-11m8 11l14-11m7 11l15-11m8 10l14-10m7 11l15-12m7 12l15-11m7 11l15-12m7 12l15-11m7 11l14-11m8 11l15-11m7 11l14-11m8 11l14-11m7 11l16-11m-520 35l15-11m7 12l15-13m8 13l14-13m7 13l15-12m7 12l15-13m7 13l15-12m7 12l14-13m8 13l15-13m7 13l15-12m7 12l14-13m8 13l14-13m7 13l15-13m8 13l14-13m8 13l14-12m7 13l15-14m7 13l15-13m7 13l15-13m7 13l15-12m7 12l15-12m7 12l14-12m8 12l14-12m8 12l15-12m6 12l16-12m7 13l14-14m-518 40l14-17m8 17l14-17m8 17l13-18m8 18l15-17m7 16l15-16m8 17l13-17m8 16l15-16m7 16l14-16m8 17l15-17m7 16l15-16m7 17l14-17m8 17l13-17m9 17l14-17m8 17l13-17m9 16l13-16m9 16l14-16m7 17l15-17m7 16l15-16m7 17l14-18m9 18l13-17m8 16l14-16m8 17l14-17m8 17l14-17m8 17l14-17m8 17l14-18m-430 44l13-21m9 21l12-21m10 21l13-21m9 22l13-23m9 22l12-21m10 21l12-21m10 21l12-21m9 21l13-21m10 22l12-22m9 22l13-22m10 21l12-21m9 21l13-21m10 22l11-22m10 21l13-21m9 21l12-21m10 21l12-21m10 21l13-21m9 21l12-21m10 21l12-21m9 21l13-21m10 21l12-21m-426 48l7-26m15 25l7-24m15 25l7-26m14 26l8-26m15 26l6-26m15 26l8-26m15 26l6-26m15 25l7-24m15 25l7-26m15 25l7-24m15 25l7-26m15 26l7-26m15 26l7-26m14 26l8-26m15 25l6-24m16 25l6-26m16 25l6-24m15 25l8-26m15 26l6-26m15 26l7-26m16 26l6-26m-332 43l0-12m23 18l-2-23m24 23l-2-23m24 24l-3-26m25 26l-2-25m24 25l-3-25m25 24l-3-23m24 23l-1-24m23 25l-2-25m25 24l-3-24m24 25l-2-25m24 25l-2-25m24 25l-2-25m24 25l-2-25m24 24l-2-23m23 19l-1-15m-379 29l14 5m8-5l14 5m8-5l14 5m8-5l13 5m9-5l14 5m8-6l13 7m9-6l14 5m16 5l-3-15m26 18l-5-21m28 20l-7-20m29 21l-7-21m29 21l-7-21m28 21l-6-21m28 21l-6-21m28 20l-7-19m30 20l-8-21m29 19l-7-17m28 14l-4-11m-356 26l14 6m8-5l14 5m8-6l14 6m8-5l14 5m8-5l13 5m9-6l13 6m16 3l-1-11m24 13l-4-15m26 14l-4-13m27 13l-5-13m26 13l-3-13m25 13l-4-13m27 14l-6-15m28 14l-6-13m27 13l-5-14m27 14l-4-13m-290 28l14 6m8-6l13 6m9-6l13 6m9-6l13 5m456 127l-4-10m3 83l-2-10m-19 34l-4-11m4 103l-4-10m47 10l-3-10" stroke="#000" stroke-width="9.0" stroke-linecap="round" fill="none"/>
<path transform="translate(357.75 532.95) scale(.25)" d="M716 484l-1-7m1 30l-1-5m-20 31l-3-9m24 7l-1-5m-217 30l-3-7m24 7l-1-6m23 6l-2-6m24 6l-1-7m23 7l-2-6m24 6l-2-6m24 6l-2-6m24 6l-2-7m23 6l-1-5m23 5l-1-4m-218 53l-1-4m89 4l-1-4m154 4l-1-4m23 4l-1-4m44 5l0-5m44 4l1-4m-351 29l-1-5m23 5l-1-5m22 5l1-5m21 5l0-5m22 5l0-5m22 5l0-4m22 4l0-5m22 5l0-4m22 4l0-4m21 4l1-4m22 4l-1-5m44 5l1-5m22 5l-1-5m22 5l1-4m21 5l1-6m21 5l0-4m22 4l0-4m-372 29l-1-5m22 6l0-6m23 5l-1-5m22 5l1-5m22 5l-1-4m22 4l0-5m23 5l-2-5m23 5l0-5m44 5l0-5m22 5l-1-5m22 6l1-7m43 6l1-5m21 6l0-6m23 5l-1-5m22 5l0-5m23 5l-1-5m-394 31l-1-5m44 5l1-5m22 5l-1-5m22 4l0-4m22 5l0-5m22 5l0-5m22 4l0-4m22 5l0-5m22 5l0-6m22 6l0-5m22 5l0-5m22 5l-1-5m23 4l-1-4m22 5l1-6m21 5l1-4m21 5l0-6m22 5l1-4m21 5l0-5m46 7l-4-10m-436 32l0-5m21 5l1-5m21 5l1-5m21 5l0-5m22 5l0-5m22 5l1-5m20 5l2-5m21 5l0-5m22 5l0-5m22 5l0-5m22 5l0-5m22 6l0-6m22 5l0-5m44 5l-1-4m22 4l0-5m22 5l1-5m21 5l1-5m21 5l0-4m45 6l-2-9m24 9l-2-9m-460 31l1-5m43 5l1-5m22 5l-1-5m22 5l0-5m22 5l0-5m22 6l0-6m22 5l0-5m22 5l0-4m44 4l0-5m22 5l0-5m21 5l1-5m21 5l1-5m21 5l1-5m21 5l0-5m22 5l0-5m22 6l1-6m21 5l0-5m45 8l-2-10m24 10l-3-10m-482 31l3-4m21 4l0-4m21 4l1-4m21 4l0-4m22 5l1-6m21 6l0-6m22 6l0-6m22 6l0-6m22 6l0-6m22 6l0-6m44 5l0-4m22 5l0-6m22 5l0-4m22 4l-1-4m23 4l-1-4m22 5l0-6m22 5l1-4m43 4l0-4m45 7l-2-10m-484 32l6-7m16 7l5-7m18 6l3-5m42 5l1-5m21 5l1-5m21 5l1-5m43 5l0-5m22 5l0-5m22 5l0-5m22 5l0-5m21 5l1-5m22 5l0-5m22 5l0-5m21 5l1-5m21 5l1-5m21 5l1-5m21 5l1-5m21 5l0-5m22 5l0-5m67 7l-2-9m-550 31l6-6m15 6l8-7m15 7l6-6m15 6l7-6m18 6l1-6m21 5l1-5m22 5l-1-5m44 5l1-4m21 4l0-5m22 5l0-5m21 5l2-4m21 4l0-5m22 5l0-4m22 4l0-5m22 5l-1-5m22 5l1-4m21 4l1-4m21 4l1-4m21 4l1-5m21 5l0-5m22 5l0-5m22 5l0-5m45 7l-2-9m24 10l-3-10m25 9l-2-9m-595 32l8-7m15 6l6-5m16 5l6-6m16 6l6-5m15 6l7-7m17 6l3-5m20 5l1-5m43 5l1-5m20 5l2-5m21 5l0-5m22 5l0-5m21 5l2-5m21 5l0-5m22 5l0-5m21 5l1-5m22 5l0-5m21 5l1-5m22 5l-1-5m22 5l1-5m43 4l0-4m22 5l1-5m21 5l0-5m45 7l-2-9m24 9l-2-10m24 10l-2-9m-594 30l6-6m16 6l6-6m15 6l7-6m15 6l7-6m16 6l6-6m18 5l1-5m21 5l1-5m21 5l1-5m21 6l1-6m42 5l2-5m21 5l0-4m22 4l0-4m22 4l0-4m22 4l0-4m22 4l0-5m21 5l1-4m21 4l1-5m21 5l1-5m21 5l1-5m43 5l1-4m21 4l1-4m21 4l1-5m44 8l-2-10m25 10l-4-10m25 10l-2-10m-616 31l6-6m15 7l8-8m15 7l6-6m15 6l7-6m16 6l6-6m15 6l7-6m18 6l2-6m42 5l1-4m21 5l1-6m21 5l0-4m44 4l0-4m22 4l0-4m22 5l0-6m21 5l1-4m66 4l0-4m21 4l1-4m22 4l-1-4m44 4l1-4m21 4l0-4m22 4l0-4m22 4l0-4m46 7l-4-10m47 9l-2-8m-660 30l7-6m15 6l6-6m16 6l6-6m15 5l8-5m15 6l5-7m16 7l7-6m15 6l7-6m17 5l3-5m20 5l1-4m21 5l1-6m21 5l1-4m21 4l1-4m21 4l0-4m22 5l0-6m22 5l0-5m21 5l2-5m21 5l0-5m22 5l0-5m21 5l1-4m43 4l1-5m43 5l1-5m21 5l1-4m88 6l-2-9m24 10l-2-10m24 10l-3-10m25 10l-3-10m-659 29l7-6m15 6l6-6m16 6l6-5m16 6l6-7m16 6l6-6m16 6l6-5m15 6l7-7m17 5l3-4m20 5l1-5m21 5l1-5m22 5l-1-5m22 5l1-5m21 5l0-5m22 5l1-5m21 5l1-5m21 5l0-5m44 5l0-5m21 5l2-5m20 5l1-5m21 4l1-4m21 4l1-4m21 4l1-4m64 5l2-5m43 6l0-7m23 7l-2-7m23 7l-1-7m24 7l-3-7m25 7l-2-7" stroke="#000" stroke-width="7.2" stroke-linecap="round" fill="none"/>
<path transform="translate(357.75 532.95) scale(.25)" d="M321 482l0-3m22 3l0-4m395 3l-1-2m23 3l-1-3m23 2l-1-2m22 3l1-3m21 2l1-2m21 3l0-3m-109 27l0-3m22 2l-1-2m23 3l-1-3m23 2l-1-1m23 2l-2-3m24 3l-2-3m23 3l0-3m22 3l0-3m-153 26l0-2m22 2l-1-2m23 2l-1-2m22 3l0-3m22 3l0-3m23 2l-1-2m22 3l0-3m22 3l0-3m-417 27l1-3m241 3l-1-3m22 2l1-1m22 2l-1-3m22 3l0-3m22 3l0-3m23 3l-1-2m23 2l-1-3m22 2l0-1m23 2l-2-2m-437 26l-1-2m23 2l0-2m22 3l-1-3m23 3l-1-3m22 3l1-3m22 2l-1-2m22 3l0-3m22 2l0-2m22 3l0-3m22 3l-1-3m23 2l0-2m22 2l-1-2m23 2l0-1m22 1l-1-1m23 1l-1-2m22 3l0-3m22 2l1-2m21 2l0-2m22 2l0-2m23 3l-1-3m22 2l0-2m-395 28l1-3m22 3l-1-3m23 3l-1-3m44 3l0-3m22 3l0-3m22 3l0-3m22 3l0-3m22 3l0-3m22 3l-1-3m66 3l1-3m44 3l-1-4m44 4l0-3m22 3l0-3m22 3l0-3m22 3l0-3m-198 28l1-4m153 3l0-3m23 3l-2-2m23 2l0-2m-460 27l0-3m197 4l0-4m88 3l0-3m131 3l0-3m22 3l0-3m22 3l0-2m-482 27l0-2m44 3l-1-4m395 4l0-3m-438 27l-1-3m308 4l0-4m131 3l0-2m-438 26l0-3m43 3l1-3m175 4l0-4m219 3l0-2m-745 26l0-2m526 3l0-4m175 4l1-4m43 4l0-4m-745 27l0-3m350 3l1-3m88 3l-1-3m307 3l0-3m-745 26l0-2m394 3l0-4m351 3l0-3m-745 26l0-2m372 3l1-3m284 3l0-4m87 4l2-3m-330 26l0-4m241 3l1-3m86 3l2-2m-396 26l1-4m87 4l0-4m109 4l1-4m21 4l2-4m87 4l-1-4m-65 27l0-4m43 4l1-4m65 4l0-4m22 4l0-4m22 3l0-3m-219 25l0-3m153 3l1-3m20 3l2-3m43 2l0-2" stroke="#000" stroke-width="7.0" stroke-linecap="round" fill="none"/>
</g>
<rect x="383.0" y="609.2" width="229.05" height="154.45" fill="none" stroke="#262626" stroke-width="1.8"/>
<path d="M388.70,609.20v2.6M388.70,763.65v-2.6M424.91,609.20v2.6M424.91,763.65v-2.6M461.12,609.20v2.6M461.12,763.65v-2.6M497.33,609.20v2.6M497.33,763.65v-2.6M533.54,609.20v2.6M533.54,763.65v-2.6M569.75,609.20v2.6M569.75,763.65v-2.6M605.96,609.20v2.6M605.96,763.65v-2.6M383.00,637.21h2.6M612.05,637.21h-2.6M383.00,665.17h2.6M612.05,665.17h-2.6M383.00,693.13h2.6M612.05,693.13h-2.6M383.00,721.09h2.6M612.05,721.09h-2.6M383.00,749.05h2.6M612.05,749.05h-2.6" stroke="#262626" stroke-width="1.6" fill="none"/>
<text x="379.6" y="612.4" class="tk" text-anchor="end" textLength="23.0" lengthAdjust="spacingAndGlyphs">20<tspan class="dg" dy="-3.4">°</tspan><tspan dy="3.4">N</tspan></text>
<text x="379.6" y="640.3" class="tk" text-anchor="end" textLength="23.0" lengthAdjust="spacingAndGlyphs">10<tspan class="dg" dy="-3.4">°</tspan><tspan dy="3.4">N</tspan></text>
<text x="379.6" y="668.3" class="tk" text-anchor="end" textLength="17.3" lengthAdjust="spacingAndGlyphs">0<tspan class="dg" dy="-3.4">°</tspan><tspan dy="3.4">N</tspan></text>
<text x="379.6" y="696.2" class="tk" text-anchor="end" textLength="21.1" lengthAdjust="spacingAndGlyphs">10<tspan class="dg" dy="-3.4">°</tspan><tspan dy="3.4">S</tspan></text>
<text x="379.6" y="724.2" class="tk" text-anchor="end" textLength="21.1" lengthAdjust="spacingAndGlyphs">20<tspan class="dg" dy="-3.4">°</tspan><tspan dy="3.4">S</tspan></text>
<text x="379.6" y="752.1" class="tk" text-anchor="end" textLength="21.1" lengthAdjust="spacingAndGlyphs">30<tspan class="dg" dy="-3.4">°</tspan><tspan dy="3.4">S</tspan></text>
<path d="M536.8 623.5h13" stroke="#000" stroke-width="1.6"/>
<path d="M549.3 621.2L557.0 623.5L549.3 625.8Z" fill="#000"/>
<text x="528.9" y="635.8" class="lgr" textLength="47.8" lengthAdjust="spacingAndGlyphs">0.08 N m<tspan dy="-3.6" font-size="6.5">−2</tspan></text>
<text x="460.4" y="603.5" class="pt" textLength="23.8" lengthAdjust="spacingAndGlyphs">Year</text>
<text x="489.6" y="603.5" class="pt" textLength="12.1" lengthAdjust="spacingAndGlyphs">31</text>
<path d="M504.2 599.6h8.8" stroke="#000" stroke-width="0.9"/>
<text x="515.8" y="603.5" class="pt" textLength="12.1" lengthAdjust="spacingAndGlyphs">40</text>
<text x="398.8" y="605.2" class="pl" text-anchor="middle">(<tspan font-weight="bold">h</tspan>)</text>
<text x="31.1" y="775.2" class="tkx" text-anchor="middle" textLength="25.3" lengthAdjust="spacingAndGlyphs">70<tspan class="dg" dy="-3.4">°</tspan><tspan dy="3.4">W</tspan></text>
<text x="67.4" y="775.2" class="tkx" text-anchor="middle" textLength="25.3" lengthAdjust="spacingAndGlyphs">55<tspan class="dg" dy="-3.4">°</tspan><tspan dy="3.4">W</tspan></text>
<text x="103.6" y="775.2" class="tkx" text-anchor="middle" textLength="25.3" lengthAdjust="spacingAndGlyphs">40<tspan class="dg" dy="-3.4">°</tspan><tspan dy="3.4">W</tspan></text>
<text x="139.8" y="775.2" class="tkx" text-anchor="middle" textLength="25.3" lengthAdjust="spacingAndGlyphs">25<tspan class="dg" dy="-3.4">°</tspan><tspan dy="3.4">W</tspan></text>
<text x="176.0" y="775.2" class="tkx" text-anchor="middle" textLength="25.3" lengthAdjust="spacingAndGlyphs">10<tspan class="dg" dy="-3.4">°</tspan><tspan dy="3.4">W</tspan></text>
<text x="212.2" y="775.2" class="tkx" text-anchor="middle" textLength="15.8" lengthAdjust="spacingAndGlyphs">5<tspan class="dg" dy="-3.4">°</tspan><tspan dy="3.4">E</tspan></text>
<text x="248.4" y="775.2" class="tkx" text-anchor="middle" textLength="21.5" lengthAdjust="spacingAndGlyphs">20<tspan class="dg" dy="-3.4">°</tspan><tspan dy="3.4">E</tspan></text>
<text x="388.9" y="775.2" class="tkx" text-anchor="middle" textLength="25.3" lengthAdjust="spacingAndGlyphs">70<tspan class="dg" dy="-3.4">°</tspan><tspan dy="3.4">W</tspan></text>
<text x="425.1" y="775.2" class="tkx" text-anchor="middle" textLength="25.3" lengthAdjust="spacingAndGlyphs">55<tspan class="dg" dy="-3.4">°</tspan><tspan dy="3.4">W</tspan></text>
<text x="461.3" y="775.2" class="tkx" text-anchor="middle" textLength="25.3" lengthAdjust="spacingAndGlyphs">40<tspan class="dg" dy="-3.4">°</tspan><tspan dy="3.4">W</tspan></text>
<text x="497.5" y="775.2" class="tkx" text-anchor="middle" textLength="25.3" lengthAdjust="spacingAndGlyphs">25<tspan class="dg" dy="-3.4">°</tspan><tspan dy="3.4">W</tspan></text>
<text x="533.7" y="775.2" class="tkx" text-anchor="middle" textLength="25.3" lengthAdjust="spacingAndGlyphs">10<tspan class="dg" dy="-3.4">°</tspan><tspan dy="3.4">W</tspan></text>
<text x="570.0" y="775.2" class="tkx" text-anchor="middle" textLength="15.8" lengthAdjust="spacingAndGlyphs">5<tspan class="dg" dy="-3.4">°</tspan><tspan dy="3.4">E</tspan></text>
<text x="606.2" y="775.2" class="tkx" text-anchor="middle" textLength="21.5" lengthAdjust="spacingAndGlyphs">20<tspan class="dg" dy="-3.4">°</tspan><tspan dy="3.4">E</tspan></text>
<rect x="278.75" y="223.05" width="20.5" height="17.88" fill="#c62127"/><rect x="278.75" y="240.63" width="20.5" height="17.88" fill="#dc3a2c"/><rect x="278.75" y="258.22" width="20.5" height="17.88" fill="#ea5d3d"/><rect x="278.75" y="275.80" width="20.5" height="17.88" fill="#f27447"/><rect x="278.75" y="293.39" width="20.5" height="17.88" fill="#f78b4f"/><rect x="278.75" y="310.97" width="20.5" height="17.88" fill="#f9a059"/><rect x="278.75" y="328.55" width="20.5" height="17.88" fill="#fcb565"/><rect x="278.75" y="346.14" width="20.5" height="17.88" fill="#fdc97e"/><rect x="278.75" y="363.72" width="20.5" height="17.88" fill="#fdd891"/><rect x="278.75" y="381.31" width="20.5" height="17.88" fill="#fee9a6"/><rect x="278.75" y="398.89" width="20.5" height="17.88" fill="#fffcc6"/><rect x="278.75" y="416.47" width="20.5" height="17.88" fill="#e0f3f8"/><rect x="278.75" y="434.06" width="20.5" height="17.88" fill="#cbe9f2"/><rect x="278.75" y="451.64" width="20.5" height="17.88" fill="#b9e0ec"/><rect x="278.75" y="469.23" width="20.5" height="17.88" fill="#a5d3e6"/><rect x="278.75" y="486.81" width="20.5" height="17.88" fill="#90c3dd"/><rect x="278.75" y="504.39" width="20.5" height="17.88" fill="#7ab1d4"/><rect x="278.75" y="521.98" width="20.5" height="17.88" fill="#669ecb"/><rect x="278.75" y="539.56" width="20.5" height="17.88" fill="#568ac1"/><rect x="278.75" y="557.15" width="20.5" height="17.88" fill="#4a74b5"/><rect x="278.75" y="574.73" width="20.5" height="17.88" fill="#405ca8"/><rect x="278.75" y="592.31" width="20.5" height="17.88" fill="#35429b"/>
<rect x="278.75" y="223.05" width="20.5" height="386.85" fill="none" stroke="#262626" stroke-width="1.5"/>
<text x="304.1" y="244.2" class="cb">4</text>
<text x="304.1" y="279.4" class="cb">3.2</text>
<text x="304.1" y="314.5" class="cb">2.4</text>
<text x="304.1" y="349.7" class="cb">1.6</text>
<text x="304.1" y="384.9" class="cb">0.8</text>
<text x="304.1" y="420.0" class="cb">0</text>
<text x="304.1" y="455.2" class="cb">−0.8</text>
<text x="304.1" y="490.4" class="cb">−1.6</text>
<text x="304.1" y="525.5" class="cb">−2.4</text>
<text x="304.1" y="560.7" class="cb">−3.2</text>
<text x="304.1" y="595.9" class="cb">−4</text>
<path d="M278.75,240.60h4M299.25,240.60h-4M278.75,275.77h4M299.25,275.77h-4M278.75,310.94h4M299.25,310.94h-4M278.75,346.10h4M299.25,346.10h-4M278.75,381.27h4M299.25,381.27h-4M278.75,416.44h4M299.25,416.44h-4M278.75,451.61h4M299.25,451.61h-4M278.75,486.78h4M299.25,486.78h-4M278.75,521.94h4M299.25,521.94h-4M278.75,557.11h4M299.25,557.11h-4M278.75,592.28h4M299.25,592.28h-4" stroke="#262626" stroke-width="1.4"/>
<rect x="636.75" y="223.05" width="20.5" height="17.88" fill="#c62127"/><rect x="636.75" y="240.63" width="20.5" height="17.88" fill="#dc3a2c"/><rect x="636.75" y="258.22" width="20.5" height="17.88" fill="#ea5d3d"/><rect x="636.75" y="275.80" width="20.5" height="17.88" fill="#f27447"/><rect x="636.75" y="293.39" width="20.5" height="17.88" fill="#f78b4f"/><rect x="636.75" y="310.97" width="20.5" height="17.88" fill="#f9a059"/><rect x="636.75" y="328.55" width="20.5" height="17.88" fill="#fcb565"/><rect x="636.75" y="346.14" width="20.5" height="17.88" fill="#fdc97e"/><rect x="636.75" y="363.72" width="20.5" height="17.88" fill="#fdd891"/><rect x="636.75" y="381.31" width="20.5" height="17.88" fill="#fee9a6"/><rect x="636.75" y="398.89" width="20.5" height="17.88" fill="#fffcc6"/><rect x="636.75" y="416.47" width="20.5" height="17.88" fill="#e0f3f8"/><rect x="636.75" y="434.06" width="20.5" height="17.88" fill="#cbe9f2"/><rect x="636.75" y="451.64" width="20.5" height="17.88" fill="#b9e0ec"/><rect x="636.75" y="469.23" width="20.5" height="17.88" fill="#a5d3e6"/><rect x="636.75" y="486.81" width="20.5" height="17.88" fill="#90c3dd"/><rect x="636.75" y="504.39" width="20.5" height="17.88" fill="#7ab1d4"/><rect x="636.75" y="521.98" width="20.5" height="17.88" fill="#669ecb"/><rect x="636.75" y="539.56" width="20.5" height="17.88" fill="#568ac1"/><rect x="636.75" y="557.15" width="20.5" height="17.88" fill="#4a74b5"/><rect x="636.75" y="574.73" width="20.5" height="17.88" fill="#405ca8"/><rect x="636.75" y="592.31" width="20.5" height="17.88" fill="#35429b"/>
<rect x="636.75" y="223.05" width="20.5" height="386.85" fill="none" stroke="#262626" stroke-width="1.5"/>
<text x="662.1" y="244.2" class="cb">7</text>
<text x="662.1" y="279.4" class="cb">5.6</text>
<text x="662.1" y="314.5" class="cb">4.2</text>
<text x="662.1" y="349.7" class="cb">2.8</text>
<text x="662.1" y="384.9" class="cb">1.4</text>
<text x="662.1" y="420.0" class="cb">0</text>
<text x="662.1" y="455.2" class="cb">−1.4</text>
<text x="662.1" y="490.4" class="cb">−2.8</text>
<text x="662.1" y="525.5" class="cb">−4.2</text>
<text x="662.1" y="560.7" class="cb">−5.6</text>
<text x="662.1" y="595.9" class="cb">−7</text>
<path d="M636.75,240.60h4M657.25,240.60h-4M636.75,275.77h4M657.25,275.77h-4M636.75,310.94h4M657.25,310.94h-4M636.75,346.10h4M657.25,346.10h-4M636.75,381.27h4M657.25,381.27h-4M636.75,416.44h4M657.25,416.44h-4M636.75,451.61h4M657.25,451.61h-4M636.75,486.78h4M657.25,486.78h-4M636.75,521.94h4M657.25,521.94h-4M636.75,557.11h4M657.25,557.11h-4M636.75,592.28h4M657.25,592.28h-4" stroke="#262626" stroke-width="1.4"/>
<text x="304.3" y="621.8" class="un"><tspan font-size="7" dy="-3.6">°</tspan><tspan dy="3.6">C</tspan></text>
<text x="658.6" y="621.5" class="un2" textLength="28" lengthAdjust="spacingAndGlyphs">*10<tspan font-size="7.5" dy="-3.8">−8</tspan></text>
<text x="654.6" y="628.6" class="un2" textLength="31.5" lengthAdjust="spacingAndGlyphs">N m<tspan font-size="7.5" dy="-3.8">−3</tspan></text>
<text x="39.4" y="8.8" class="tt" textLength="204" lengthAdjust="spacingAndGlyphs">Max Upper Ocean Temp Response/</text>
<text x="42.8" y="23.4" class="tt" textLength="196.2" lengthAdjust="spacingAndGlyphs">Ocean Current Response at 200m</text>
<text x="421.4" y="19.9" class="tt" textLength="161.1" lengthAdjust="spacingAndGlyphs">Wind Stress/Curl Response</text>
<text x="86.6" y="37.9" class="tt" textLength="45.1" lengthAdjust="spacingAndGlyphs">(Hosing</text>
<path d="M137.8 34.3h8.4" stroke="#000" stroke-width="0.9"/>
<text x="147.0" y="37.9" class="tt" textLength="48.7" lengthAdjust="spacingAndGlyphs">Control)</text>
<text x="446.1" y="34.6" class="tt" textLength="45.1" lengthAdjust="spacingAndGlyphs">(Hosing</text>
<path d="M497.3 31.0h8.4" stroke="#000" stroke-width="0.9"/>
<text x="506.5" y="34.6" class="tt" textLength="48.7" lengthAdjust="spacingAndGlyphs">Control)</text>
</svg></body></html>
